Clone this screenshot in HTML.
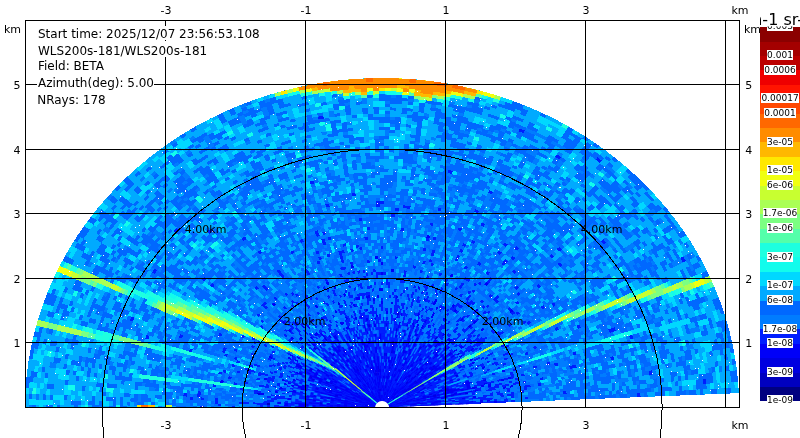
<!DOCTYPE html>
<html lang="en"><head><meta charset="utf-8"><title>RHI BETA</title>
<style>
html,body{margin:0;padding:0;background:#fff;overflow:hidden}
svg{display:block;position:absolute;left:0;top:0}
text{font-family:"DejaVu Sans","Liberation Sans",sans-serif;fill:#000}
.t{font-size:12px}.k{font-size:11px}.c{font-size:9px;text-anchor:middle}.r{font-size:11px}
</style></head><body>
<svg width="800" height="438" viewBox="0 0 800 438">
<defs><clipPath id="pb"><rect x="25" y="20" width="715" height="387"/></clipPath></defs>
<rect width="800" height="438" fill="#fff"/>
<g clip-path="url(#pb)">
<g transform="translate(382.1,407.5) scale(0.7,-0.6459999999999999)" fill="none" stroke-width="5.45" shape-rendering="crispEdges">
<path d="M162.20 7.08A162.35 162.35 0 0 1 -4.25 162.29A162.35 162.35 0 0 1 -162.34 -1.42" stroke="#0000c0"/>
<path d="M132.22 5.77A132.35 132.35 0 0 1 -3.46 132.30A132.35 132.35 0 0 1 -132.34 -1.15" stroke="#0000e0"/>
<path d="M137.22 5.99A137.35 137.35 0 0 1 -3.60 137.30A137.35 137.35 0 0 1 -137.34 -1.20" stroke="#0000e0"/>
<path d="M142.21 6.21A142.35 142.35 0 0 1 -3.73 142.30A142.35 142.35 0 0 1 -142.34 -1.24" stroke="#0000e0"/>
<path d="M147.21 6.43A147.35 147.35 0 0 1 -3.86 147.30A147.35 147.35 0 0 1 -147.34 -1.29" stroke="#0000e0"/>
<path d="M157.20 6.86A157.35 157.35 0 0 1 -4.12 157.30A157.35 157.35 0 0 1 -157.34 -1.37" stroke="#0000e0"/>
<path d="M172.19 7.52A172.35 172.35 0 0 1 -4.51 172.29A172.35 172.35 0 0 1 -172.34 -1.50" stroke="#0000e0"/>
<path d="M177.18 7.74A177.35 177.35 0 0 1 -4.64 177.29A177.35 177.35 0 0 1 -177.34 -1.55" stroke="#0000e0"/>
<path d="M132.22 5.77A132.35 132.35 0 0 1 -3.46 132.30A132.35 132.35 0 0 1 -132.34 -1.15" pathLength="178" stroke="#0000f8" stroke-dasharray="51.05 0.95 72.05 0.95 8.05 0.95 44.05 0"/>
<path d="M137.22 5.99A137.35 137.35 0 0 1 -3.60 137.30A137.35 137.35 0 0 1 -137.34 -1.20" pathLength="178" stroke="#0000f8" stroke-dasharray="34.05 0.95 143.05 0"/>
<path d="M142.21 6.21A142.35 142.35 0 0 1 -3.73 142.30A142.35 142.35 0 0 1 -142.34 -1.24" pathLength="178" stroke="#0000f8" stroke-dasharray="0 1 177.05 0"/>
<path d="M147.21 6.43A147.35 147.35 0 0 1 -3.86 147.30A147.35 147.35 0 0 1 -147.34 -1.29" pathLength="178" stroke="#0000f8" stroke-dasharray="78.05 0.95 99.05 0"/>
<path d="M152.20 6.65A152.35 152.35 0 0 1 -3.99 152.30A152.35 152.35 0 0 1 -152.34 -1.33" stroke="#0000f8"/>
<path d="M157.20 6.86A157.35 157.35 0 0 1 -4.12 157.30A157.35 157.35 0 0 1 -157.34 -1.37" pathLength="178" stroke="#0000f8" stroke-dasharray="134.05 0.95 43.05 0"/>
<path d="M162.20 7.08A162.35 162.35 0 0 1 -4.25 162.29A162.35 162.35 0 0 1 -162.34 -1.42" pathLength="178" stroke="#0000f8" stroke-dasharray="175.05 0.95 2.05 0"/>
<path d="M167.19 7.30A167.35 167.35 0 0 1 -4.38 167.29A167.35 167.35 0 0 1 -167.34 -1.46" stroke="#0000f8"/>
<path d="M172.19 7.52A172.35 172.35 0 0 1 -4.51 172.29A172.35 172.35 0 0 1 -172.34 -1.50" pathLength="178" stroke="#0000f8" stroke-dasharray="108.05 0.95 69.05 0"/>
<path d="M177.18 7.74A177.35 177.35 0 0 1 -4.64 177.29A177.35 177.35 0 0 1 -177.34 -1.55" pathLength="178" stroke="#0000f8" stroke-dasharray="42.05 0.95 127.05 0.95 7.05 0"/>
<path d="M182.18 7.95A182.35 182.35 0 0 1 -4.77 182.29A182.35 182.35 0 0 1 -182.34 -1.59" stroke="#0000f8"/>
<path d="M187.17 8.17A187.35 187.35 0 0 1 -4.90 187.29A187.35 187.35 0 0 1 -187.34 -1.63" stroke="#0000f8"/>
<path d="M192.17 8.39A192.35 192.35 0 0 1 -5.04 192.28A192.35 192.35 0 0 1 -192.34 -1.68" stroke="#0000f8"/>
<path d="M197.16 8.61A197.35 197.35 0 0 1 -5.17 197.28A197.35 197.35 0 0 1 -197.34 -1.72" stroke="#0000f8"/>
<path d="M202.16 8.83A202.35 202.35 0 0 1 -5.30 202.28A202.35 202.35 0 0 1 -202.34 -1.77" stroke="#0000f8"/>
<path d="M207.15 9.04A207.35 207.35 0 0 1 -5.43 207.28A207.35 207.35 0 0 1 -207.34 -1.81" stroke="#0000f8"/>
<path d="M212.15 9.26A212.35 212.35 0 0 1 -5.56 212.28A212.35 212.35 0 0 1 -212.34 -1.85" stroke="#0000f8"/>
<path d="M222.14 9.70A222.35 222.35 0 0 1 -5.82 222.27A222.35 222.35 0 0 1 -222.34 -1.94" stroke="#0000f8"/>
<path d="M227.13 9.92A227.35 227.35 0 0 1 -5.95 227.27A227.35 227.35 0 0 1 -227.34 -1.98" stroke="#0000f8"/>
<path d="M232.13 10.13A232.35 232.35 0 0 1 -6.08 232.27A232.35 232.35 0 0 1 -232.34 -2.03" stroke="#0000f8"/>
<path d="M237.12 10.35A237.35 237.35 0 0 1 -6.21 237.27A237.35 237.35 0 0 1 -237.34 -2.07" stroke="#0000f8"/>
<path d="M242.12 10.57A242.35 242.35 0 0 1 -6.34 242.27A242.35 242.35 0 0 1 -242.34 -2.11" stroke="#0000f8"/>
<path d="M272.09 11.88A272.35 272.35 0 0 1 -7.13 272.26A272.35 272.35 0 0 1 -272.34 -2.38" stroke="#0000f8"/>
<path d="M132.22 5.77A132.35 132.35 0 0 1 -3.46 132.30A132.35 132.35 0 0 1 -132.34 -1.15" pathLength="178" stroke="#001eff" stroke-dasharray="4.05 0.95 5.05 0.95 3.05 0.95 26.05 0.95 4.05 0.95 4.05 0.95 15.05 0.95 3.05 0.95 4.05 0.95 31.05 1.95 11.05 0.95 2.05 0.95 4.05 0.95 3.05 0.95 14.05 1.95 3.05 0.95 4.05 0.95 3.05 0.95 3.05 0.95 4.05 0.95 6.05 0"/>
<path d="M137.22 5.99A137.35 137.35 0 0 1 -3.60 137.30A137.35 137.35 0 0 1 -137.34 -1.20" pathLength="178" stroke="#001eff" stroke-dasharray="8.05 0.95 1.05 0.95 21.05 0.95 1.05 0.95 2.05 0.95 5.05 0.95 18.05 0.95 2.05 0.95 2.05 0.95 10.05 0.95 11.05 0.95 4.05 0.95 27.05 0.95 7.05 0.95 15.05 1.95 11.05 0.95 5.05 0.95 6.05 1.95 2.05 0"/>
<path d="M142.21 6.21A142.35 142.35 0 0 1 -3.73 142.30A142.35 142.35 0 0 1 -142.34 -1.24" pathLength="178" stroke="#001eff" stroke-dasharray="0 2 42.05 1.95 3.05 0.95 9.05 0.95 6.05 0.95 11.05 0.95 11.05 0.95 8.05 0.95 2.05 0.95 7.05 1.95 12.05 0.95 19.05 0.95 1.05 0.95 15.05 0.95 15.05 0"/>
<path d="M147.21 6.43A147.35 147.35 0 0 1 -3.86 147.30A147.35 147.35 0 0 1 -147.34 -1.29" pathLength="178" stroke="#001eff" stroke-dasharray="10.05 0.95 10.05 0.95 3.05 0.95 1.05 0.95 8.05 1.95 24.05 0.95 13.05 0.95 1.05 0.95 5.05 0.95 22.05 0.95 18.05 1.95 2.05 0.95 29.05 0.95 4.05 0.95 8.05 0.95 3.05 0"/>
<path d="M152.20 6.65A152.35 152.35 0 0 1 -3.99 152.30A152.35 152.35 0 0 1 -152.34 -1.33" pathLength="178" stroke="#001eff" stroke-dasharray="1.05 0.95 9.05 0.95 1.05 0.95 53.05 0.95 27.05 0.95 49.05 0.95 1.05 0.95 20.05 0.95 9.05 0"/>
<path d="M157.20 6.86A157.35 157.35 0 0 1 -4.12 157.30A157.35 157.35 0 0 1 -157.34 -1.37" pathLength="178" stroke="#001eff" stroke-dasharray="9.05 1.95 9.05 0.95 11.05 0.95 4.05 0.95 22.05 0.95 73.05 0.95 43.05 0"/>
<path d="M162.20 7.08A162.35 162.35 0 0 1 -4.25 162.29A162.35 162.35 0 0 1 -162.34 -1.42" pathLength="178" stroke="#001eff" stroke-dasharray="0 1 34.05 0.95 18.05 0.95 5.05 0.95 21.05 0.95 4.05 0.95 13.05 0.95 9.05 0.95 7.05 0.95 7.05 0.95 47.05 0.95 2.05 0"/>
<path d="M167.19 7.30A167.35 167.35 0 0 1 -4.38 167.29A167.35 167.35 0 0 1 -167.34 -1.46" pathLength="178" stroke="#001eff" stroke-dasharray="91.05 0.95 37.05 0.95 7.05 0.95 40.05 0"/>
<path d="M172.19 7.52A172.35 172.35 0 0 1 -4.51 172.29A172.35 172.35 0 0 1 -172.34 -1.50" pathLength="178" stroke="#001eff" stroke-dasharray="60.05 0.95 19.05 0.95 8.05 0.95 3.05 1.95 3.05 1.95 8.05 0.95 53.05 0.95 7.05 0.95 7.05 0"/>
<path d="M177.18 7.74A177.35 177.35 0 0 1 -4.64 177.29A177.35 177.35 0 0 1 -177.34 -1.55" pathLength="178" stroke="#001eff" stroke-dasharray="7.05 0.95 3.05 0.95 30.05 0.95 4.05 0.95 14.05 0.95 4.05 0.95 67.05 0.95 15.05 0.95 18.05 0.95 7.05 0"/>
<path d="M182.18 7.95A182.35 182.35 0 0 1 -4.77 182.29A182.35 182.35 0 0 1 -182.34 -1.59" pathLength="178" stroke="#001eff" stroke-dasharray="15.05 0.95 36.05 0.95 9.05 0.95 24.05 1.95 15.05 0.95 13.05 0.95 59.05 0"/>
<path d="M187.17 8.17A187.35 187.35 0 0 1 -4.90 187.29A187.35 187.35 0 0 1 -187.34 -1.63" pathLength="178" stroke="#001eff" stroke-dasharray="7.05 0.95 3.05 0.95 25.05 0.95 4.05 0.95 11.05 0.95 123.05 0"/>
<path d="M192.17 8.39A192.35 192.35 0 0 1 -5.04 192.28A192.35 192.35 0 0 1 -192.34 -1.68" pathLength="178" stroke="#001eff" stroke-dasharray="71.05 0.95 62.05 0.95 43.05 0"/>
<path d="M197.16 8.61A197.35 197.35 0 0 1 -5.17 197.28A197.35 197.35 0 0 1 -197.34 -1.72" pathLength="178" stroke="#001eff" stroke-dasharray="107.05 0.95 70.05 0"/>
<path d="M202.16 8.83A202.35 202.35 0 0 1 -5.30 202.28A202.35 202.35 0 0 1 -202.34 -1.77" pathLength="178" stroke="#001eff" stroke-dasharray="45.05 0.95 132.05 0"/>
<path d="M207.15 9.04A207.35 207.35 0 0 1 -5.43 207.28A207.35 207.35 0 0 1 -207.34 -1.81" pathLength="178" stroke="#001eff" stroke-dasharray="87.05 0.95 21.05 0.95 68.05 0"/>
<path d="M212.15 9.26A212.35 212.35 0 0 1 -5.56 212.28A212.35 212.35 0 0 1 -212.34 -1.85" pathLength="178" stroke="#001eff" stroke-dasharray="83.05 0.95 94.05 0"/>
<path d="M217.14 9.48A217.35 217.35 0 0 1 -5.69 217.28A217.35 217.35 0 0 1 -217.34 -1.90" stroke="#001eff"/>
<path d="M222.14 9.70A222.35 222.35 0 0 1 -5.82 222.27A222.35 222.35 0 0 1 -222.34 -1.94" pathLength="178" stroke="#001eff" stroke-dasharray="87.05 0.95 10.05 0.95 32.05 0.95 46.05 0"/>
<path d="M227.13 9.92A227.35 227.35 0 0 1 -5.95 227.27A227.35 227.35 0 0 1 -227.34 -1.98" pathLength="178" stroke="#001eff" stroke-dasharray="61.05 0.95 116.05 0"/>
<path d="M232.13 10.13A232.35 232.35 0 0 1 -6.08 232.27A232.35 232.35 0 0 1 -232.34 -2.03" pathLength="178" stroke="#001eff" stroke-dasharray="89.05 0.95 77.05 0.95 10.05 0"/>
<path d="M237.12 10.35A237.35 237.35 0 0 1 -6.21 237.27A237.35 237.35 0 0 1 -237.34 -2.07" pathLength="178" stroke="#001eff" stroke-dasharray="36.05 0.95 141.05 0"/>
<path d="M242.12 10.57A242.35 242.35 0 0 1 -6.34 242.27A242.35 242.35 0 0 1 -242.34 -2.11" pathLength="178" stroke="#001eff" stroke-dasharray="49.05 0.95 128.05 0"/>
<path d="M247.11 10.79A247.35 247.35 0 0 1 -6.47 247.27A247.35 247.35 0 0 1 -247.34 -2.16" stroke="#001eff"/>
<path d="M252.11 11.01A252.35 252.35 0 0 1 -6.61 252.26A252.35 252.35 0 0 1 -252.34 -2.20" stroke="#001eff"/>
<path d="M257.11 11.23A257.35 257.35 0 0 1 -6.74 257.26A257.35 257.35 0 0 1 -257.34 -2.25" stroke="#001eff"/>
<path d="M262.10 11.44A262.35 262.35 0 0 1 -6.87 262.26A262.35 262.35 0 0 1 -262.34 -2.29" stroke="#001eff"/>
<path d="M267.10 11.66A267.35 267.35 0 0 1 -7.00 267.26A267.35 267.35 0 0 1 -267.34 -2.33" stroke="#001eff"/>
<path d="M272.09 11.88A272.35 272.35 0 0 1 -7.13 272.26A272.35 272.35 0 0 1 -272.34 -2.38" pathLength="178" stroke="#001eff" stroke-dasharray="73.05 0.95 104.05 0"/>
<path d="M277.09 12.10A277.35 277.35 0 0 1 -7.26 277.25A277.35 277.35 0 0 1 -277.34 -2.42" stroke="#001eff"/>
<path d="M282.08 12.32A282.35 282.35 0 0 1 -7.39 282.25A282.35 282.35 0 0 1 -282.34 -2.46" stroke="#001eff"/>
<path d="M287.08 12.53A287.35 287.35 0 0 1 -7.52 287.25A287.35 287.35 0 0 1 -287.34 -2.51" stroke="#001eff"/>
<path d="M292.07 12.75A292.35 292.35 0 0 1 -7.65 292.25A292.35 292.35 0 0 1 -292.34 -2.55" stroke="#001eff"/>
<path d="M297.07 12.97A297.35 297.35 0 0 1 -7.78 297.25A297.35 297.35 0 0 1 -297.34 -2.59" stroke="#001eff"/>
<path d="M307.06 13.41A307.35 307.35 0 0 1 -8.05 307.24A307.35 307.35 0 0 1 -307.34 -2.68" stroke="#001eff"/>
<path d="M312.05 13.62A312.35 312.35 0 0 1 -8.18 312.24A312.35 312.35 0 0 1 -312.34 -2.73" stroke="#001eff"/>
<path d="M317.05 13.84A317.35 317.35 0 0 1 -8.31 317.24A317.35 317.35 0 0 1 -317.34 -2.77" stroke="#001eff"/>
<path d="M322.04 14.06A322.35 322.35 0 0 1 -8.44 322.24A322.35 322.35 0 0 1 -322.34 -2.81" stroke="#001eff"/>
<path d="M327.04 14.28A327.35 327.35 0 0 1 -8.57 327.24A327.35 327.35 0 0 1 -327.34 -2.86" stroke="#001eff"/>
<path d="M332.03 14.50A332.35 332.35 0 0 1 -8.70 332.24A332.35 332.35 0 0 1 -332.34 -2.90" stroke="#001eff"/>
<path d="M337.03 14.72A337.35 337.35 0 0 1 -8.83 337.23A337.35 337.35 0 0 1 -337.34 -2.94" stroke="#001eff"/>
<path d="M347.02 15.15A347.35 347.35 0 0 1 -9.09 347.23A347.35 347.35 0 0 1 -347.34 -3.03" stroke="#001eff"/>
<path d="M352.01 15.37A352.35 352.35 0 0 1 -9.22 352.23A352.35 352.35 0 0 1 -352.34 -3.07" stroke="#001eff"/>
<path d="M362.01 15.81A362.35 362.35 0 0 1 -9.49 362.23A362.35 362.35 0 0 1 -362.34 -3.16" stroke="#001eff"/>
<path d="M367.00 16.02A367.35 367.35 0 0 1 -9.62 367.22A367.35 367.35 0 0 1 -367.34 -3.21" stroke="#001eff"/>
<path d="M372.00 16.24A372.35 372.35 0 0 1 -9.75 372.22A372.35 372.35 0 0 1 -372.34 -3.25" stroke="#001eff"/>
<path d="M376.99 16.46A377.35 377.35 0 0 1 -9.88 377.22A377.35 377.35 0 0 1 -377.34 -3.29" stroke="#001eff"/>
<path d="M381.99 16.68A382.35 382.35 0 0 1 -10.01 382.22A382.35 382.35 0 0 1 -382.34 -3.34" stroke="#001eff"/>
<path d="M386.98 16.90A387.35 387.35 0 0 1 -10.14 387.22A387.35 387.35 0 0 1 -387.34 -3.38" stroke="#001eff"/>
<path d="M401.97 17.55A402.35 402.35 0 0 1 -10.53 402.21A402.35 402.35 0 0 1 -402.33 -3.51" stroke="#001eff"/>
<path d="M406.96 17.77A407.35 407.35 0 0 1 -10.66 407.21A407.35 407.35 0 0 1 -407.33 -3.55" stroke="#001eff"/>
<path d="M456.91 19.95A457.35 457.35 0 0 1 -11.97 457.19A457.35 457.35 0 0 1 -457.33 -3.99" stroke="#001eff"/>
<path d="M461.91 20.17A462.35 462.35 0 0 1 -12.10 462.19A462.35 462.35 0 0 1 -462.33 -4.03" stroke="#001eff"/>
<path d="M471.90 20.60A472.35 472.35 0 0 1 -12.36 472.19A472.35 472.35 0 0 1 -472.33 -4.12" stroke="#001eff"/>
<path d="M486.89 21.26A487.35 487.35 0 0 1 -12.76 487.18A487.35 487.35 0 0 1 -487.33 -4.25" stroke="#001eff"/>
<path d="M491.88 21.48A492.35 492.35 0 0 1 -12.89 492.18A492.35 492.35 0 0 1 -492.33 -4.30" stroke="#001eff"/>
<path d="M132.22 5.77A132.35 132.35 0 0 1 -3.46 132.30A132.35 132.35 0 0 1 -132.34 -1.15" pathLength="178" stroke="#007cff" stroke-dasharray="0 2 1.05 1.95 1.05 2.95 1.05 0.95 3.05 0.95 3.05 0.95 6.05 1.95 4.05 0.95 1.05 0.95 1.05 0.95 1.05 2.95 1.05 2.95 1.05 2.95 3.05 3.95 1.05 2.95 3.05 0.95 1.05 1.95 1.05 2.95 1.05 3.95 1.05 0.95 1.05 1.95 1.05 0.95 1.05 4.95 1.05 1.95 1.05 0.95 2.05 1.95 1.05 0.95 2.05 1.95 5.05 1.95 1.05 0.95 3.05 4.95 1.05 5.95 2.05 0.95 2.05 3.95 10.05 0.95 1.05 2.95 2.05 1.95 3.05 2.95 1.05 0.95 1.05 0.95 1.05 0.95 2.05 0.95 1.05 0.95 2.05 2.95 1.05 0"/>
<path d="M137.22 5.99A137.35 137.35 0 0 1 -3.60 137.30A137.35 137.35 0 0 1 -137.34 -1.20" pathLength="178" stroke="#007cff" stroke-dasharray="0 1 2.05 0.95 4.05 3.95 6.05 2.95 11.05 0.95 1.05 0.95 2.05 0.95 5.05 0.95 1.05 0.95 2.05 3.95 2.05 0.95 2.05 0.95 3.05 1.95 2.05 0.95 1.05 1.95 1.05 1.95 2.05 0.95 4.05 2.95 2.05 0.95 1.05 0.95 1.05 3.95 1.05 0.95 1.05 3.95 2.05 0.95 2.05 0.95 2.05 1.95 7.05 0.95 2.05 0.95 3.05 1.95 4.05 0.95 1.05 1.95 2.05 0.95 8.05 0.95 2.05 3.95 2.05 0.95 1.05 1.95 3.05 1.95 1.05 0.95 3.05 0.95 3.05 0.95 1.05 3.95 1.05 0"/>
<path d="M142.21 6.21A142.35 142.35 0 0 1 -3.73 142.30A142.35 142.35 0 0 1 -142.34 -1.24" pathLength="178" stroke="#007cff" stroke-dasharray="0 4 4.05 1.95 1.05 2.95 8.05 0.95 1.05 1.95 6.05 3.95 3.05 0.95 1.05 4.95 3.05 3.95 2.05 0.95 2.05 1.95 1.05 1.95 3.05 2.95 1.05 1.95 2.05 0.95 2.05 1.95 2.05 0.95 6.05 0.95 1.05 0.95 1.05 0.95 2.05 5.95 1.05 1.95 2.05 2.95 1.05 1.95 2.05 0.95 3.05 1.95 2.05 0.95 1.05 2.95 1.05 0.95 1.05 0.95 1.05 0.95 1.05 0.95 9.05 0.95 1.05 0.95 1.05 0.95 2.05 0.95 2.05 0.95 2.05 0.95 2.05 0.95 1.05 0.95 2.05 1.95 1.05 0.95 1.05 1.95 4.05 0.95 1.05 0"/>
<path d="M147.21 6.43A147.35 147.35 0 0 1 -3.86 147.30A147.35 147.35 0 0 1 -147.34 -1.29" pathLength="178" stroke="#007cff" stroke-dasharray="0 1 1.05 2.95 5.05 3.95 7.05 0.95 3.05 0.95 1.05 0.95 5.05 0.95 2.05 2.95 3.05 1.95 2.05 1.95 4.05 1.95 3.05 0.95 2.05 4.95 1.05 0.95 6.05 7.95 1.05 0.95 1.05 0.95 5.05 4.95 2.05 2.95 2.05 0.95 1.05 0.95 1.05 1.95 5.05 0.95 3.05 1.95 4.05 1.95 1.05 1.95 1.05 1.95 1.05 0.95 1.05 0.95 2.05 1.95 6.05 4.95 1.05 0.95 8.05 0.95 4.05 1.95 3.05 1.95 2.05 0.95 1.05 0.95 1.05 0"/>
<path d="M152.20 6.65A152.35 152.35 0 0 1 -3.99 152.30A152.35 152.35 0 0 1 -152.34 -1.33" pathLength="178" stroke="#007cff" stroke-dasharray="0 3 1.05 0.95 2.05 0.95 3.05 3.95 7.05 0.95 3.05 0.95 5.05 2.95 1.05 0.95 5.05 0.95 6.05 0.95 1.05 2.95 5.05 0.95 1.05 1.95 2.05 0.95 1.05 2.95 5.05 0.95 1.05 0.95 1.05 1.95 1.05 0.95 1.05 1.95 1.05 0.95 2.05 0.95 1.05 0.95 2.05 1.95 2.05 0.95 2.05 0.95 4.05 0.95 8.05 0.95 2.05 0.95 1.05 0.95 7.05 0.95 6.05 0.95 8.05 0.95 1.05 0.95 2.05 0.95 1.05 1.95 3.05 2.95 3.05 1.95 2.05 1.95 1.05 2.95 3.05 0.95 1.05 0"/>
<path d="M157.20 6.86A157.35 157.35 0 0 1 -4.12 157.30A157.35 157.35 0 0 1 -157.34 -1.37" pathLength="178" stroke="#007cff" stroke-dasharray="0 1 1.05 0.95 1.05 1.95 1.05 4.95 5.05 0.95 2.05 2.95 3.05 0.95 4.05 3.95 2.05 0.95 1.05 0.95 2.05 1.95 1.05 1.95 5.05 0.95 7.05 0.95 6.05 0.95 6.05 0.95 1.05 0.95 1.05 2.95 6.05 1.95 3.05 1.95 4.05 0.95 8.05 2.95 3.05 0.95 3.05 0.95 3.05 0.95 2.05 0.95 5.05 0.95 3.05 1.95 1.05 0.95 7.05 0.95 5.05 0.95 2.05 1.95 9.05 0.95 4.05 0.95 1.05 1.95 4.05 0"/>
<path d="M162.20 7.08A162.35 162.35 0 0 1 -4.25 162.29A162.35 162.35 0 0 1 -162.34 -1.42" pathLength="178" stroke="#007cff" stroke-dasharray="0 2 5.05 1.95 2.05 0.95 6.05 0.95 6.05 0.95 5.05 0.95 1.05 0.95 1.05 3.95 7.05 0.95 4.05 0.95 1.05 1.95 5.05 0.95 3.05 0.95 1.05 0.95 5.05 0.95 3.05 1.95 2.05 0.95 1.05 0.95 4.05 0.95 3.05 0.95 2.05 0.95 2.05 0.95 2.05 1.95 1.05 0.95 5.05 0.95 1.05 0.95 5.05 2.95 7.05 0.95 2.05 0.95 2.05 0.95 18.05 1.95 3.05 0.95 2.05 2.95 5.05 0.95 2.05 0.95 1.05 3.95 1.05 0"/>
<path d="M167.19 7.30A167.35 167.35 0 0 1 -4.38 167.29A167.35 167.35 0 0 1 -167.34 -1.46" pathLength="178" stroke="#007cff" stroke-dasharray="0 1 3.05 1.95 2.05 1.95 5.05 0.95 6.05 0.95 1.05 0.95 5.05 0.95 1.05 1.95 1.05 0.95 2.05 1.95 2.05 1.95 3.05 0.95 14.05 1.95 1.05 0.95 2.05 0.95 3.05 0.95 6.05 1.95 6.05 0.95 3.05 0.95 1.05 1.95 7.05 0.95 2.05 0.95 1.05 1.95 14.05 1.95 2.05 0.95 1.05 0.95 2.05 0.95 4.05 2.95 14.05 0.95 3.05 0.95 2.05 2.95 1.05 1.95 7.05 1.95 2.05 0"/>
<path d="M172.19 7.52A172.35 172.35 0 0 1 -4.51 172.29A172.35 172.35 0 0 1 -172.34 -1.50" pathLength="178" stroke="#007cff" stroke-dasharray="0 1 2.05 1.95 4.05 0.95 1.05 0.95 8.05 0.95 4.05 0.95 6.05 3.95 1.05 0.95 1.05 0.95 2.05 0.95 5.05 0.95 5.05 0.95 3.05 0.95 1.05 0.95 8.05 1.95 1.05 0.95 1.05 0.95 5.05 1.95 1.05 0.95 5.05 0.95 3.05 1.95 1.05 0.95 1.05 2.95 4.05 0.95 2.05 0.95 7.05 0.95 2.05 0.95 8.05 1.95 2.05 0.95 2.05 0.95 15.05 0.95 3.05 0.95 4.05 0.95 1.05 0.95 3.05 0.95 3.05 0.95 4.05 1.95 1.05 0"/>
<path d="M177.18 7.74A177.35 177.35 0 0 1 -4.64 177.29A177.35 177.35 0 0 1 -177.34 -1.55" pathLength="178" stroke="#007cff" stroke-dasharray="0 2 5.05 1.95 2.05 0.95 5.05 0.95 1.05 1.95 1.05 0.95 2.05 0.95 6.05 2.95 1.05 0.95 2.05 0.95 1.05 1.95 3.05 2.95 6.05 0.95 1.05 2.95 2.05 1.95 1.05 2.95 2.05 0.95 2.05 0.95 1.05 0.95 2.05 0.95 3.05 0.95 10.05 5.95 2.05 1.95 7.05 0.95 2.05 0.95 9.05 0.95 6.05 1.95 1.05 2.95 2.05 0.95 9.05 0.95 1.05 2.95 7.05 0.95 5.05 0.95 2.05 1.95 4.05 0.95 2.05 0"/>
<path d="M182.18 7.95A182.35 182.35 0 0 1 -4.77 182.29A182.35 182.35 0 0 1 -182.34 -1.59" pathLength="178" stroke="#007cff" stroke-dasharray="3.05 0.95 1.05 1.95 1.05 0.95 2.05 0.95 3.05 0.95 17.05 0.95 8.05 0.95 4.05 0.95 3.05 3.95 7.05 0.95 3.05 0.95 6.05 0.95 3.05 0.95 3.05 0.95 5.05 1.95 2.05 0.95 10.05 0.95 1.05 0.95 1.05 0.95 7.05 0.95 3.05 0.95 8.05 0.95 3.05 0.95 1.05 0.95 2.05 0.95 9.05 0.95 13.05 1.95 1.05 0.95 5.05 1.95 4.05 0.95 2.05 0"/>
<path d="M187.17 8.17A187.35 187.35 0 0 1 -4.90 187.29A187.35 187.35 0 0 1 -187.34 -1.63" pathLength="178" stroke="#007cff" stroke-dasharray="0 1 1.05 2.95 2.05 0.95 1.05 0.95 1.05 0.95 6.05 0.95 18.05 0.95 4.05 1.95 2.05 0.95 6.05 1.95 12.05 0.95 1.05 0.95 2.05 0.95 3.05 0.95 7.05 0.95 7.05 1.95 2.05 0.95 2.05 0.95 3.05 0.95 4.05 0.95 2.05 0.95 9.05 0.95 10.05 0.95 24.05 0.95 20.05 0"/>
<path d="M192.17 8.39A192.35 192.35 0 0 1 -5.04 192.28A192.35 192.35 0 0 1 -192.34 -1.68" pathLength="178" stroke="#007cff" stroke-dasharray="8.05 0.95 2.05 2.95 6.05 0.95 1.05 0.95 19.05 0.95 8.05 2.95 9.05 0.95 4.05 0.95 2.05 0.95 1.05 0.95 10.05 1.95 1.05 0.95 2.05 0.95 5.05 1.95 3.05 0.95 6.05 0.95 7.05 0.95 4.05 0.95 11.05 1.95 12.05 0.95 9.05 0.95 2.05 0.95 14.05 0.95 2.05 0"/>
<path d="M197.16 8.61A197.35 197.35 0 0 1 -5.17 197.28A197.35 197.35 0 0 1 -197.34 -1.72" pathLength="178" stroke="#007cff" stroke-dasharray="8.05 0.95 1.05 0.95 3.05 0.95 7.05 0.95 3.05 0.95 6.05 1.95 3.05 0.95 4.05 0.95 1.05 0.95 16.05 0.95 1.05 0.95 3.05 1.95 8.05 1.95 5.05 0.95 21.05 0.95 2.05 0.95 7.05 0.95 2.05 0.95 12.05 0.95 23.05 0.95 1.05 1.95 4.05 0.95 8.05 0.95 2.05 0"/>
<path d="M202.16 8.83A202.35 202.35 0 0 1 -5.30 202.28A202.35 202.35 0 0 1 -202.34 -1.77" pathLength="178" stroke="#007cff" stroke-dasharray="4.05 0.95 16.05 0.95 3.05 0.95 5.05 1.95 4.05 0.95 7.05 0.95 3.05 1.95 11.05 0.95 3.05 0.95 9.05 0.95 12.05 0.95 4.05 0.95 2.05 0.95 1.05 0.95 1.05 1.95 8.05 0.95 7.05 0.95 4.05 0.95 1.05 0.95 6.05 0.95 13.05 0.95 5.05 0.95 6.05 0.95 8.05 0.95 5.05 0.95 2.05 0"/>
<path d="M207.15 9.04A207.35 207.35 0 0 1 -5.43 207.28A207.35 207.35 0 0 1 -207.34 -1.81" pathLength="178" stroke="#007cff" stroke-dasharray="1.05 0.95 3.05 1.95 1.05 0.95 2.05 0.95 3.05 0.95 15.05 0.95 7.05 0.95 2.05 0.95 5.05 1.95 1.05 0.95 2.05 0.95 17.05 0.95 5.05 0.95 7.05 3.95 1.05 0.95 1.05 0.95 15.05 0.95 3.05 0.95 11.05 0.95 3.05 0.95 18.05 0.95 1.05 0.95 27.05 0"/>
<path d="M212.15 9.26A212.35 212.35 0 0 1 -5.56 212.28A212.35 212.35 0 0 1 -212.34 -1.85" pathLength="178" stroke="#007cff" stroke-dasharray="6.05 0.95 28.05 0.95 5.05 0.95 2.05 0.95 6.05 0.95 5.05 0.95 3.05 0.95 7.05 0.95 8.05 0.95 4.05 0.95 6.05 0.95 3.05 0.95 1.05 0.95 1.05 0.95 1.05 0.95 2.05 0.95 5.05 0.95 12.05 0.95 18.05 0.95 5.05 0.95 14.05 0.95 4.05 0.95 9.05 0.95"/>
<path d="M217.14 9.48A217.35 217.35 0 0 1 -5.69 217.28A217.35 217.35 0 0 1 -217.34 -1.90" pathLength="178" stroke="#007cff" stroke-dasharray="43.05 0.95 2.05 0.95 5.05 0.95 3.05 0.95 5.05 0.95 9.05 0.95 50.05 0.95 15.05 0.95 18.05 0.95 19.05 0"/>
<path d="M222.14 9.70A222.35 222.35 0 0 1 -5.82 222.27A222.35 222.35 0 0 1 -222.34 -1.94" pathLength="178" stroke="#007cff" stroke-dasharray="19.05 0.95 12.05 0.95 18.05 0.95 4.05 0.95 8.05 0.95 9.05 0.95 11.05 0.95 10.05 0.95 2.05 1.95 22.05 0.95 5.05 0.95 25.05 0.95 2.05 0.95 4.05 0.95 12.05 0"/>
<path d="M227.13 9.92A227.35 227.35 0 0 1 -5.95 227.27A227.35 227.35 0 0 1 -227.34 -1.98" pathLength="178" stroke="#007cff" stroke-dasharray="6.05 0.95 3.05 0.95 2.05 0.95 47.05 0.95 26.05 0.95 3.05 0.95 5.05 0.95 30.05 0.95 4.05 0.95 3.05 0.95 9.05 0.95 5.05 0.95 23.05 0"/>
<path d="M232.13 10.13A232.35 232.35 0 0 1 -6.08 232.27A232.35 232.35 0 0 1 -232.34 -2.03" pathLength="178" stroke="#007cff" stroke-dasharray="8.05 0.95 33.05 1.95 1.05 0.95 6.05 0.95 2.05 1.95 12.05 0.95 2.05 0.95 9.05 0.95 6.05 0.95 11.05 0.95 12.05 0.95 18.05 1.95 28.05 0.95 3.05 0.95 8.05 0.95 1.05 0"/>
<path d="M237.12 10.35A237.35 237.35 0 0 1 -6.21 237.27A237.35 237.35 0 0 1 -237.34 -2.07" pathLength="178" stroke="#007cff" stroke-dasharray="20.05 0.95 14.05 2.95 5.05 0.95 7.05 0.95 18.05 0.95 30.05 0.95 12.05 0.95 42.05 0.95 6.05 0.95 9.05 1.95 2.05 0"/>
<path d="M242.12 10.57A242.35 242.35 0 0 1 -6.34 242.27A242.35 242.35 0 0 1 -242.34 -2.11" pathLength="178" stroke="#007cff" stroke-dasharray="30.05 0.95 3.05 0.95 14.05 0.95 51.05 0.95 7.05 0.95 45.05 1.95 12.05 0.95 8.05 0"/>
<path d="M247.11 10.79A247.35 247.35 0 0 1 -6.47 247.27A247.35 247.35 0 0 1 -247.34 -2.16" pathLength="178" stroke="#007cff" stroke-dasharray="13.05 0.95 15.05 0.95 19.05 0.95 8.05 0.95 11.05 0.95 16.05 0.95 6.05 0.95 2.05 0.95 2.05 1.95 3.05 0.95 2.05 0.95 13.05 0.95 6.05 0.95 48.05 0"/>
<path d="M252.11 11.01A252.35 252.35 0 0 1 -6.61 252.26A252.35 252.35 0 0 1 -252.34 -2.20" pathLength="178" stroke="#007cff" stroke-dasharray="37.05 0.95 11.05 0.95 12.05 0.95 7.05 0.95 2.05 0.95 21.05 0.95 26.05 0.95 6.05 0.95 48.05 0"/>
<path d="M257.11 11.23A257.35 257.35 0 0 1 -6.74 257.26A257.35 257.35 0 0 1 -257.34 -2.25" pathLength="178" stroke="#007cff" stroke-dasharray="12.05 0.95 38.05 0.95 10.05 0.95 36.05 0.95 8.05 0.95 13.05 0.95 8.05 0.95 19.05 0.95 22.05 0.95 2.05 0.95"/>
<path d="M262.10 11.44A262.35 262.35 0 0 1 -6.87 262.26A262.35 262.35 0 0 1 -262.34 -2.29" pathLength="178" stroke="#007cff" stroke-dasharray="2.05 0.95 36.05 0.95 15.05 0.95 36.05 0.95 79.05 1.95 4.05 0"/>
<path d="M267.10 11.66A267.35 267.35 0 0 1 -7.00 267.26A267.35 267.35 0 0 1 -267.34 -2.33" pathLength="178" stroke="#007cff" stroke-dasharray="41.05 0.95 20.05 0.95 10.05 0.95 31.05 0.95 72.05 0"/>
<path d="M272.09 11.88A272.35 272.35 0 0 1 -7.13 272.26A272.35 272.35 0 0 1 -272.34 -2.38" pathLength="178" stroke="#007cff" stroke-dasharray="71.05 0.95 1.05 0.95 29.05 0.95 1.05 0.95 9.05 0.95 58.05 0.95 3.05 0"/>
<path d="M277.09 12.10A277.35 277.35 0 0 1 -7.26 277.25A277.35 277.35 0 0 1 -277.34 -2.42" pathLength="178" stroke="#007cff" stroke-dasharray="10.05 0.95 12.05 0.95 7.05 0.95 30.05 0.95 18.05 0.95 9.05 0.95 86.05 0"/>
<path d="M282.08 12.32A282.35 282.35 0 0 1 -7.39 282.25A282.35 282.35 0 0 1 -282.34 -2.46" pathLength="178" stroke="#007cff" stroke-dasharray="10.05 0.95 34.05 0.95 3.05 0.95 54.05 0.95 1.05 0.95 4.05 0.95 61.05 0.95 4.05 0"/>
<path d="M287.08 12.53A287.35 287.35 0 0 1 -7.52 287.25A287.35 287.35 0 0 1 -287.34 -2.51" pathLength="178" stroke="#007cff" stroke-dasharray="14.05 0.95 34.05 0.95 10.05 0.95 45.05 0.95 52.05 0.95 18.05 0"/>
<path d="M292.07 12.75A292.35 292.35 0 0 1 -7.65 292.25A292.35 292.35 0 0 1 -292.34 -2.55" pathLength="178" stroke="#007cff" stroke-dasharray="30.05 0.95 6.05 0.95 14.05 0.95 20.05 0.95 19.05 0.95 84.05 0"/>
<path d="M297.07 12.97A297.35 297.35 0 0 1 -7.78 297.25A297.35 297.35 0 0 1 -297.34 -2.59" pathLength="178" stroke="#007cff" stroke-dasharray="48.05 0.95 16.05 0.95 18.05 0.95 38.05 0.95 54.05 0"/>
<path d="M302.06 13.19A302.35 302.35 0 0 1 -7.91 302.25A302.35 302.35 0 0 1 -302.34 -2.64" stroke="#007cff"/>
<path d="M307.06 13.41A307.35 307.35 0 0 1 -8.05 307.24A307.35 307.35 0 0 1 -307.34 -2.68" pathLength="178" stroke="#007cff" stroke-dasharray="21.05 0.95 30.05 0.95 30.05 0.95 55.05 0.95 16.05 0.95 21.05 0"/>
<path d="M312.05 13.62A312.35 312.35 0 0 1 -8.18 312.24A312.35 312.35 0 0 1 -312.34 -2.73" pathLength="178" stroke="#007cff" stroke-dasharray="49.05 0.95 30.05 1.95 6.05 0.95 89.05 0"/>
<path d="M317.05 13.84A317.35 317.35 0 0 1 -8.31 317.24A317.35 317.35 0 0 1 -317.34 -2.77" pathLength="178" stroke="#007cff" stroke-dasharray="60.05 0.95 11.05 0.95 14.05 1.95 89.05 0"/>
<path d="M322.04 14.06A322.35 322.35 0 0 1 -8.44 322.24A322.35 322.35 0 0 1 -322.34 -2.81" pathLength="178" stroke="#007cff" stroke-dasharray="101.05 0.95 37.05 0.95 38.05 0"/>
<path d="M327.04 14.28A327.35 327.35 0 0 1 -8.57 327.24A327.35 327.35 0 0 1 -327.34 -2.86" pathLength="178" stroke="#007cff" stroke-dasharray="124.05 0.95 53.05 0"/>
<path d="M332.03 14.50A332.35 332.35 0 0 1 -8.70 332.24A332.35 332.35 0 0 1 -332.34 -2.90" pathLength="178" stroke="#007cff" stroke-dasharray="63.05 0.95 30.05 0.95 83.05 0"/>
<path d="M337.03 14.72A337.35 337.35 0 0 1 -8.83 337.23A337.35 337.35 0 0 1 -337.34 -2.94" pathLength="178" stroke="#007cff" stroke-dasharray="10.05 0.95 27.05 0.95 2.05 0.95 136.05 0"/>
<path d="M342.02 14.93A342.35 342.35 0 0 1 -8.96 342.23A342.35 342.35 0 0 1 -342.34 -2.99" stroke="#007cff"/>
<path d="M347.02 15.15A347.35 347.35 0 0 1 -9.09 347.23A347.35 347.35 0 0 1 -347.34 -3.03" pathLength="178" stroke="#007cff" stroke-dasharray="17.05 0.95 160.05 0"/>
<path d="M352.01 15.37A352.35 352.35 0 0 1 -9.22 352.23A352.35 352.35 0 0 1 -352.34 -3.07" pathLength="178" stroke="#007cff" stroke-dasharray="17.05 0.95 23.05 0.95 117.05 0.95 18.05 0"/>
<path d="M357.01 15.59A357.35 357.35 0 0 1 -9.35 357.23A357.35 357.35 0 0 1 -357.34 -3.12" stroke="#007cff"/>
<path d="M362.01 15.81A362.35 362.35 0 0 1 -9.49 362.23A362.35 362.35 0 0 1 -362.34 -3.16" pathLength="178" stroke="#007cff" stroke-dasharray="103.05 0.95 74.05 0"/>
<path d="M367.00 16.02A367.35 367.35 0 0 1 -9.62 367.22A367.35 367.35 0 0 1 -367.34 -3.21" pathLength="178" stroke="#007cff" stroke-dasharray="0 1 61.05 0.95 66.05 0.95 48.05 0"/>
<path d="M372.00 16.24A372.35 372.35 0 0 1 -9.75 372.22A372.35 372.35 0 0 1 -372.34 -3.25" pathLength="178" stroke="#007cff" stroke-dasharray="14.05 0.95 163.05 0"/>
<path d="M376.99 16.46A377.35 377.35 0 0 1 -9.88 377.22A377.35 377.35 0 0 1 -377.34 -3.29" pathLength="178" stroke="#007cff" stroke-dasharray="72.05 0.95 105.05 0"/>
<path d="M381.99 16.68A382.35 382.35 0 0 1 -10.01 382.22A382.35 382.35 0 0 1 -382.34 -3.34" pathLength="178" stroke="#007cff" stroke-dasharray="156.05 0.95 21.05 0"/>
<path d="M386.98 16.90A387.35 387.35 0 0 1 -10.14 387.22A387.35 387.35 0 0 1 -387.34 -3.38" pathLength="178" stroke="#007cff" stroke-dasharray="5.05 0.95 138.05 0.95 33.05 0"/>
<path d="M391.98 17.11A392.35 392.35 0 0 1 -10.27 392.22A392.35 392.35 0 0 1 -392.34 -3.42" stroke="#007cff"/>
<path d="M396.97 17.33A397.35 397.35 0 0 1 -10.40 397.21A397.35 397.35 0 0 1 -397.33 -3.47" stroke="#007cff"/>
<path d="M401.97 17.55A402.35 402.35 0 0 1 -10.53 402.21A402.35 402.35 0 0 1 -402.33 -3.51" pathLength="178" stroke="#007cff" stroke-dasharray="134.05 0.95 43.05 0"/>
<path d="M406.96 17.77A407.35 407.35 0 0 1 -10.66 407.21A407.35 407.35 0 0 1 -407.33 -3.55" pathLength="178" stroke="#007cff" stroke-dasharray="36.05 0.95 141.05 0"/>
<path d="M411.96 17.99A412.35 412.35 0 0 1 -10.79 412.21A412.35 412.35 0 0 1 -412.33 -3.60" stroke="#007cff"/>
<path d="M416.95 18.20A417.35 417.35 0 0 1 -10.92 417.21A417.35 417.35 0 0 1 -417.33 -3.64" stroke="#007cff"/>
<path d="M421.95 18.42A422.35 422.35 0 0 1 -11.06 422.21A422.35 422.35 0 0 1 -422.33 -3.69" stroke="#007cff"/>
<path d="M426.94 18.64A427.35 427.35 0 0 1 -11.19 427.20A427.35 427.35 0 0 1 -427.33 -3.73" stroke="#007cff"/>
<path d="M431.94 18.86A432.35 432.35 0 0 1 -11.32 432.20A432.35 432.35 0 0 1 -432.33 -3.77" stroke="#007cff"/>
<path d="M436.93 19.08A437.35 437.35 0 0 1 -11.45 437.20A437.35 437.35 0 0 1 -437.33 -3.82" stroke="#007cff"/>
<path d="M441.93 19.30A442.35 442.35 0 0 1 -11.58 442.20A442.35 442.35 0 0 1 -442.33 -3.86" stroke="#007cff"/>
<path d="M446.92 19.51A447.35 447.35 0 0 1 -11.71 447.20A447.35 447.35 0 0 1 -447.33 -3.90" stroke="#007cff"/>
<path d="M451.92 19.73A452.35 452.35 0 0 1 -11.84 452.19A452.35 452.35 0 0 1 -452.33 -3.95" stroke="#007cff"/>
<path d="M456.91 19.95A457.35 457.35 0 0 1 -11.97 457.19A457.35 457.35 0 0 1 -457.33 -3.99" pathLength="178" stroke="#007cff" stroke-dasharray="98.05 0.95 79.05 0"/>
<path d="M461.91 20.17A462.35 462.35 0 0 1 -12.10 462.19A462.35 462.35 0 0 1 -462.33 -4.03" pathLength="178" stroke="#007cff" stroke-dasharray="2.05 0.95 51.05 0.95 123.05 0"/>
<path d="M466.91 20.39A467.35 467.35 0 0 1 -12.23 467.19A467.35 467.35 0 0 1 -467.33 -4.08" stroke="#007cff"/>
<path d="M471.90 20.60A472.35 472.35 0 0 1 -12.36 472.19A472.35 472.35 0 0 1 -472.33 -4.12" pathLength="178" stroke="#007cff" stroke-dasharray="62.05 0.95 115.05 0"/>
<path d="M476.90 20.82A477.35 477.35 0 0 1 -12.50 477.19A477.35 477.35 0 0 1 -477.33 -4.17" stroke="#007cff"/>
<path d="M481.89 21.04A482.35 482.35 0 0 1 -12.63 482.18A482.35 482.35 0 0 1 -482.33 -4.21" stroke="#007cff"/>
<path d="M486.89 21.26A487.35 487.35 0 0 1 -12.76 487.18A487.35 487.35 0 0 1 -487.33 -4.25" pathLength="178" stroke="#007cff" stroke-dasharray="25.05 0.95 152.05 0"/>
<path d="M491.88 21.48A492.35 492.35 0 0 1 -12.89 492.18A492.35 492.35 0 0 1 -492.33 -4.30" pathLength="178" stroke="#007cff" stroke-dasharray="48.05 0.95 129.05 0"/>
<path d="M496.88 21.69A497.35 497.35 0 0 1 -13.02 497.18A497.35 497.35 0 0 1 -497.33 -4.34" stroke="#007cff"/>
<path d="M501.87 21.91A502.35 502.35 0 0 1 -13.15 502.18A502.35 502.35 0 0 1 -502.33 -4.38" stroke="#007cff"/>
<path d="M506.87 22.13A507.35 507.35 0 0 1 -13.28 507.18A507.35 507.35 0 0 1 -507.33 -4.43" stroke="#007cff"/>
<path d="M132.22 5.77A132.35 132.35 0 0 1 -3.46 132.30A132.35 132.35 0 0 1 -132.34 -1.15" pathLength="178" stroke="#0068ff" stroke-dasharray="0 9 1.05 2.95 1.05 0.95 1.05 0.95 1.05 5.95 1.05 3.95 2.05 2.95 1.05 0.95 1.05 12.95 1.05 9.95 1.05 17.95 1.05 9.95 1.05 1.95 1.05 14.95 1.05 2.95 1.05 11.95 1.05 7.95 1.05 1.95 5.05 2.95 1.05 16.95 1.05 11.95"/>
<path d="M137.22 5.99A137.35 137.35 0 0 1 -3.60 137.30A137.35 137.35 0 0 1 -137.34 -1.20" pathLength="178" stroke="#0068ff" stroke-dasharray="0 17 1.05 2.95 2.05 4.95 3.05 8.95 2.05 3.95 1.05 5.95 1.05 22.95 1.05 20.95 1.05 4.95 1.05 6.95 2.05 1.95 1.05 8.95 1.05 7.95 1.05 1.95 4.05 14.95 1.05 8.95 1.05 8.95"/>
<path d="M142.21 6.21A142.35 142.35 0 0 1 -3.73 142.30A142.35 142.35 0 0 1 -142.34 -1.24" pathLength="178" stroke="#0068ff" stroke-dasharray="0 7 1.05 5.95 2.05 0.95 1.05 0.95 1.05 0.95 1.05 5.95 3.05 8.95 1.05 6.95 1.05 3.95 2.05 16.95 2.05 9.95 2.05 18.95 1.05 20.95 1.05 2.95 1.05 3.95 2.05 0.95 4.05 5.95 1.05 2.95 1.05 0.95 1.05 7.95 1.05 11.95 1.05 0"/>
<path d="M147.21 6.43A147.35 147.35 0 0 1 -3.86 147.30A147.35 147.35 0 0 1 -147.34 -1.29" pathLength="178" stroke="#0068ff" stroke-dasharray="0 1 1.05 3.95 1.05 8.95 2.05 7.95 1.05 0.95 3.05 9.95 1.05 2.95 1.05 11.95 2.05 6.95 1.05 1.95 1.05 0.95 1.05 11.95 2.05 7.95 1.05 6.95 1.05 4.95 2.05 10.95 1.05 4.95 1.05 5.95 1.05 2.95 6.05 6.95 1.05 0.95 1.05 0.95 1.05 1.95 1.05 2.95 1.05 2.95 1.05 4.95 1.05 3.95"/>
<path d="M152.20 6.65A152.35 152.35 0 0 1 -3.99 152.30A152.35 152.35 0 0 1 -152.34 -1.33" pathLength="178" stroke="#0068ff" stroke-dasharray="0 8 2.05 5.95 2.05 6.95 1.05 0.95 3.05 4.95 1.05 2.95 1.05 14.95 1.05 0.95 1.05 4.95 2.05 4.95 1.05 1.95 1.05 11.95 1.05 10.95 1.05 0.95 2.05 2.95 2.05 4.95 2.05 0.95 1.05 8.95 1.05 0.95 2.05 0.95 1.05 0.95 1.05 3.95 1.05 1.95 5.05 2.95 1.05 1.95 1.05 3.95 1.05 19.95 1.05 0"/>
<path d="M157.20 6.86A157.35 157.35 0 0 1 -4.12 157.30A157.35 157.35 0 0 1 -157.34 -1.37" pathLength="178" stroke="#0068ff" stroke-dasharray="0 3 1.05 9.95 1.05 0.95 1.05 0.95 2.05 7.95 2.05 4.95 2.05 10.95 1.05 5.95 1.05 0.95 1.05 4.95 1.05 0.95 2.05 0.95 1.05 0.95 1.05 27.95 1.05 2.95 2.05 9.95 2.05 0.95 1.05 0.95 1.05 1.95 1.05 0.95 1.05 1.95 1.05 2.95 1.05 6.95 5.05 2.95 1.05 9.95 1.05 0.95 2.05 0.95 1.05 3.95 1.05 6.95 1.05 0"/>
<path d="M162.20 7.08A162.35 162.35 0 0 1 -4.25 162.29A162.35 162.35 0 0 1 -162.34 -1.42" pathLength="178" stroke="#0068ff" stroke-dasharray="0 13 1.05 0.95 3.05 0.95 1.05 0.95 2.05 4.95 3.05 0.95 1.05 5.95 1.05 0.95 1.05 7.95 1.05 3.95 3.05 10.95 2.05 1.95 2.05 3.95 1.05 14.95 2.05 0.95 2.05 1.95 1.05 1.95 3.05 1.95 1.05 3.95 2.05 2.95 1.05 3.95 2.05 8.95 1.05 1.95 7.05 0.95 2.05 4.95 1.05 2.95 1.05 5.95 1.05 0.95 1.05 3.95 1.05 4.95"/>
<path d="M167.19 7.30A167.35 167.35 0 0 1 -4.38 167.29A167.35 167.35 0 0 1 -167.34 -1.46" pathLength="178" stroke="#0068ff" stroke-dasharray="0 1 1.05 3.95 1.05 3.95 2.05 0.95 1.05 0.95 1.05 2.95 2.05 5.95 2.05 0.95 1.05 1.95 1.05 1.95 1.05 12.95 1.05 2.95 1.05 0.95 1.05 0.95 1.05 0.95 1.05 1.95 1.05 1.95 1.05 5.95 2.05 7.95 1.05 2.95 2.05 1.95 1.05 4.95 1.05 6.95 1.05 4.95 1.05 0.95 1.05 1.95 1.05 0.95 1.05 0.95 1.05 2.95 1.05 9.95 1.05 2.95 5.05 3.95 1.05 0.95 3.05 0.95 3.05 1.95 1.05 2.95 1.05 1.95 1.05 0.95 1.05 0.95 2.05 2.95 1.05 0.95"/>
<path d="M172.19 7.52A172.35 172.35 0 0 1 -4.51 172.29A172.35 172.35 0 0 1 -172.34 -1.50" pathLength="178" stroke="#0068ff" stroke-dasharray="0 2 1.05 8.95 2.05 0.95 3.05 7.95 1.05 0.95 2.05 0.95 1.05 5.95 1.05 1.95 1.05 1.95 2.05 3.95 1.05 5.95 1.05 4.95 1.05 6.95 1.05 2.95 1.05 1.95 1.05 4.95 1.05 0.95 1.05 4.95 1.05 1.95 1.05 0.95 1.05 2.95 2.05 8.95 2.05 0.95 1.05 0.95 1.05 1.95 1.05 0.95 1.05 0.95 1.05 0.95 1.05 6.95 1.05 1.95 1.05 0.95 12.05 2.95 1.05 7.95 1.05 3.95 2.05 1.95 1.05 3.95 1.05 0"/>
<path d="M177.18 7.74A177.35 177.35 0 0 1 -4.64 177.29A177.35 177.35 0 0 1 -177.34 -1.55" pathLength="178" stroke="#0068ff" stroke-dasharray="0 2 1.05 2.95 1.05 1.95 1.05 1.95 1.05 1.95 2.05 3.95 1.05 1.95 1.05 0.95 3.05 1.95 1.05 2.95 1.05 3.95 1.05 1.95 2.05 4.95 2.05 0.95 2.05 0.95 1.05 2.95 1.05 2.95 1.05 3.95 1.05 0.95 1.05 1.95 1.05 0.95 1.05 1.95 1.05 3.95 1.05 3.95 2.05 0.95 1.05 5.95 1.05 2.95 1.05 2.95 3.05 0.95 1.05 2.95 2.05 2.95 1.05 2.95 2.05 0.95 1.05 0.95 1.05 6.95 1.05 1.95 6.05 2.95 1.05 2.95 1.05 1.95 1.05 3.95 2.05 0.95 2.05 0.95 2.05 6.95 1.05 0.95"/>
<path d="M182.18 7.95A182.35 182.35 0 0 1 -4.77 182.29A182.35 182.35 0 0 1 -182.34 -1.59" pathLength="178" stroke="#0068ff" stroke-dasharray="3.05 6.95 1.05 0.95 1.05 2.95 4.05 0.95 1.05 0.95 2.05 1.95 3.05 3.95 3.05 0.95 4.05 0.95 1.05 0.95 1.05 8.95 5.05 2.95 3.05 0.95 1.05 0.95 1.05 1.95 1.05 5.95 2.05 2.95 2.05 12.95 1.05 0.95 1.05 0.95 1.05 0.95 1.05 1.95 2.05 0.95 1.05 2.95 3.05 0.95 4.05 2.95 1.05 4.95 1.05 3.95 3.05 0.95 5.05 0.95 1.05 1.95 1.05 0.95 1.05 3.95 1.05 5.95 3.05 0.95 1.05 8.95"/>
<path d="M187.17 8.17A187.35 187.35 0 0 1 -4.90 187.29A187.35 187.35 0 0 1 -187.34 -1.63" pathLength="178" stroke="#0068ff" stroke-dasharray="0 1 1.05 9.95 2.05 0.95 2.05 1.95 1.05 0.95 1.05 0.95 2.05 0.95 3.05 0.95 1.05 0.95 1.05 0.95 2.05 10.95 6.05 2.95 1.05 0.95 2.05 3.95 2.05 1.95 1.05 1.95 1.05 0.95 2.05 1.95 4.05 3.95 1.05 0.95 2.05 0.95 1.05 3.95 1.05 0.95 2.05 0.95 2.05 2.95 1.05 0.95 1.05 1.95 1.05 2.95 2.05 0.95 1.05 4.95 1.05 0.95 1.05 2.95 1.05 3.95 5.05 0.95 6.05 2.95 1.05 0.95 4.05 2.95 4.05 1.95 2.05 0.95 3.05 0.95 4.05 1.95 1.05 0"/>
<path d="M192.17 8.39A192.35 192.35 0 0 1 -5.04 192.28A192.35 192.35 0 0 1 -192.34 -1.68" pathLength="178" stroke="#0068ff" stroke-dasharray="0 2 2.05 10.95 4.05 1.95 1.05 0.95 2.05 1.95 6.05 2.95 1.05 2.95 1.05 2.95 1.05 1.95 1.05 1.95 1.05 3.95 1.05 2.95 2.05 12.95 1.05 0.95 4.05 2.95 1.05 1.95 1.05 0.95 1.05 1.95 4.05 10.95 2.05 0.95 1.05 1.95 1.05 1.95 1.05 1.95 3.05 0.95 1.05 1.95 2.05 1.95 1.05 7.95 1.05 0.95 7.05 3.95 4.05 0.95 1.05 0.95 2.05 0.95 1.05 0.95 2.05 0.95 1.05 0.95 2.05 7.95"/>
<path d="M197.16 8.61A197.35 197.35 0 0 1 -5.17 197.28A197.35 197.35 0 0 1 -197.34 -1.72" pathLength="178" stroke="#0068ff" stroke-dasharray="0 4 1.05 0.95 1.05 1.95 1.05 4.95 2.05 2.95 2.05 0.95 3.05 0.95 4.05 8.95 1.05 0.95 1.05 2.95 1.05 1.95 3.05 0.95 1.05 1.95 1.05 0.95 4.05 2.95 1.05 5.95 1.05 1.95 1.05 5.95 2.05 1.95 2.05 1.95 1.05 0.95 2.05 0.95 1.05 1.95 1.05 0.95 1.05 2.95 3.05 0.95 1.05 4.95 2.05 0.95 1.05 1.95 1.05 1.95 1.05 0.95 1.05 0.95 2.05 2.95 1.05 2.95 2.05 1.95 7.05 5.95 1.05 0.95 1.05 0.95 1.05 0.95 1.05 1.95 4.05 1.95 1.05 0.95 2.05 0.95 2.05 2.95"/>
<path d="M202.16 8.83A202.35 202.35 0 0 1 -5.30 202.28A202.35 202.35 0 0 1 -202.34 -1.77" pathLength="178" stroke="#0068ff" stroke-dasharray="0 3 1.05 0.95 3.05 0.95 1.05 1.95 2.05 0.95 2.05 2.95 1.05 0.95 3.05 0.95 3.05 0.95 1.05 1.95 2.05 0.95 1.05 1.95 4.05 0.95 1.05 0.95 1.05 3.95 1.05 0.95 1.05 0.95 7.05 5.95 3.05 1.95 3.05 2.95 2.05 0.95 3.05 1.95 1.05 1.95 1.05 1.95 1.05 0.95 2.05 2.95 1.05 1.95 2.05 4.95 1.05 3.95 1.05 1.95 1.05 0.95 1.05 1.95 1.05 0.95 1.05 0.95 2.05 0.95 3.05 1.95 1.05 0.95 1.05 3.95 5.05 2.95 1.05 0.95 1.05 0.95 3.05 0.95 2.05 2.95 2.05 0.95 1.05 0.95 1.05 2.95 2.05 1.95 1.05 0.95"/>
<path d="M207.15 9.04A207.35 207.35 0 0 1 -5.43 207.28A207.35 207.35 0 0 1 -207.34 -1.81" pathLength="178" stroke="#0068ff" stroke-dasharray="0 3 1.05 2.95 1.05 3.95 2.05 1.95 2.05 1.95 2.05 1.95 1.05 0.95 3.05 4.95 1.05 1.95 2.05 1.95 1.05 0.95 2.05 1.95 1.05 1.95 1.05 0.95 1.05 2.95 4.05 1.95 5.05 3.95 1.05 4.95 1.05 0.95 2.05 0.95 2.05 0.95 1.05 5.95 1.05 1.95 2.05 1.95 1.05 1.95 1.05 1.95 2.05 3.95 2.05 1.95 1.05 0.95 1.05 0.95 2.05 0.95 1.05 3.95 1.05 1.95 3.05 1.95 1.05 4.95 7.05 2.95 2.05 0.95 3.05 1.95 1.05 0.95 5.05 0.95 2.05 1.95 3.05 2.95 1.05 0"/>
<path d="M212.15 9.26A212.35 212.35 0 0 1 -5.56 212.28A212.35 212.35 0 0 1 -212.34 -1.85" pathLength="178" stroke="#0068ff" stroke-dasharray="0 1 3.05 0.95 1.05 0.95 1.05 0.95 2.05 0.95 2.05 0.95 2.05 1.95 2.05 2.95 6.05 0.95 1.05 1.95 1.05 0.95 1.05 0.95 1.05 2.95 1.05 1.95 1.05 2.95 1.05 1.95 5.05 0.95 3.05 1.95 3.05 0.95 2.05 0.95 1.05 2.95 1.05 3.95 3.05 2.95 2.05 3.95 1.05 2.95 1.05 2.95 1.05 0.95 1.05 1.95 1.05 0.95 2.05 1.95 1.05 0.95 1.05 0.95 1.05 3.95 1.05 0.95 1.05 0.95 1.05 0.95 1.05 0.95 1.05 2.95 3.05 0.95 1.05 0.95 3.05 1.95 5.05 1.95 1.05 0.95 1.05 0.95 2.05 0.95 1.05 0.95 4.05 0.95 2.05 2.95 3.05 0.95 3.05 0.95 1.05 0.95"/>
<path d="M217.14 9.48A217.35 217.35 0 0 1 -5.69 217.28A217.35 217.35 0 0 1 -217.34 -1.90" pathLength="178" stroke="#0068ff" stroke-dasharray="0 1 3.05 1.95 1.05 1.95 5.05 0.95 2.05 0.95 4.05 0.95 2.05 0.95 2.05 0.95 5.05 1.95 1.05 0.95 2.05 0.95 2.05 9.95 1.05 0.95 1.05 0.95 2.05 0.95 1.05 1.95 1.05 1.95 3.05 0.95 2.05 1.95 1.05 0.95 5.05 0.95 2.05 2.95 1.05 1.95 4.05 1.95 4.05 0.95 1.05 2.95 3.05 2.95 2.05 1.95 4.05 1.95 1.05 1.95 3.05 0.95 1.05 5.95 1.05 0.95 1.05 1.95 1.05 0.95 6.05 0.95 1.05 1.95 3.05 0.95 2.05 0.95 5.05 0.95 1.05 1.95 3.05 0.95 2.05 1.95 1.05 0.95"/>
<path d="M222.14 9.70A222.35 222.35 0 0 1 -5.82 222.27A222.35 222.35 0 0 1 -222.34 -1.94" pathLength="178" stroke="#0068ff" stroke-dasharray="0 1 4.05 4.95 2.05 2.95 3.05 2.95 8.05 1.95 1.05 3.95 1.05 0.95 1.05 0.95 1.05 8.95 1.05 1.95 2.05 1.95 2.05 0.95 1.05 0.95 2.05 1.95 4.05 0.95 3.05 1.95 3.05 0.95 2.05 0.95 2.05 0.95 1.05 0.95 5.05 0.95 4.05 6.95 3.05 0.95 1.05 0.95 3.05 0.95 2.05 3.95 2.05 2.95 4.05 1.95 1.05 0.95 1.05 1.95 1.05 0.95 1.05 0.95 7.05 0.95 1.05 0.95 1.05 0.95 1.05 1.95 1.05 1.95 1.05 0.95 1.05 0.95 2.05 0.95 5.05 0.95 6.05 0"/>
<path d="M227.13 9.92A227.35 227.35 0 0 1 -5.95 227.27A227.35 227.35 0 0 1 -227.34 -1.98" pathLength="178" stroke="#0068ff" stroke-dasharray="3.05 0.95 1.05 1.95 1.05 2.95 2.05 0.95 1.05 0.95 3.05 0.95 10.05 0.95 2.05 1.95 2.05 0.95 1.05 0.95 3.05 0.95 7.05 3.95 2.05 0.95 3.05 0.95 2.05 1.95 2.05 3.95 1.05 0.95 1.05 0.95 3.05 1.95 7.05 0.95 3.05 0.95 2.05 1.95 1.05 1.95 1.05 0.95 1.05 1.95 3.05 0.95 1.05 1.95 1.05 1.95 4.05 0.95 3.05 2.95 1.05 0.95 1.05 0.95 1.05 4.95 2.05 0.95 9.05 0.95 4.05 1.95 1.05 0.95 5.05 0.95 1.05 2.95 3.05 0.95 1.05 0.95 1.05 1.95 2.05 0"/>
<path d="M232.13 10.13A232.35 232.35 0 0 1 -6.08 232.27A232.35 232.35 0 0 1 -232.34 -2.03" pathLength="178" stroke="#0068ff" stroke-dasharray="5.05 0.95 2.05 2.95 3.05 0.95 4.05 3.95 12.05 1.95 1.05 0.95 2.05 4.95 3.05 7.95 4.05 1.95 4.05 0.95 1.05 1.95 1.05 3.95 1.05 1.95 1.05 0.95 1.05 1.95 3.05 0.95 1.05 0.95 2.05 0.95 1.05 2.95 3.05 2.95 3.05 0.95 1.05 0.95 5.05 0.95 2.05 1.95 4.05 2.95 7.05 2.95 5.05 0.95 11.05 1.95 1.05 0.95 1.05 0.95 3.05 1.95 3.05 0.95 3.05 0.95 1.05 4.95"/>
<path d="M237.12 10.35A237.35 237.35 0 0 1 -6.21 237.27A237.35 237.35 0 0 1 -237.34 -2.07" pathLength="178" stroke="#0068ff" stroke-dasharray="0 2 1.05 0.95 1.05 0.95 3.05 0.95 2.05 2.95 5.05 3.95 6.05 0.95 2.05 0.95 1.05 2.95 1.05 1.95 1.05 1.95 4.05 1.95 1.05 0.95 3.05 0.95 7.05 0.95 3.05 1.95 1.05 0.95 1.05 0.95 2.05 2.95 2.05 0.95 5.05 1.95 1.05 1.95 3.05 1.95 5.05 0.95 3.05 0.95 2.05 0.95 1.05 0.95 3.05 2.95 6.05 3.95 3.05 0.95 3.05 0.95 1.05 1.95 3.05 0.95 10.05 0.95 2.05 0.95 1.05 0.95 4.05 0.95 1.05 0.95 1.05 0.95 4.05 0.95 2.05 1.95 1.05 0.95"/>
<path d="M242.12 10.57A242.35 242.35 0 0 1 -6.34 242.27A242.35 242.35 0 0 1 -242.34 -2.11" pathLength="178" stroke="#0068ff" stroke-dasharray="3.05 0.95 1.05 0.95 3.05 0.95 3.05 1.95 4.05 4.95 5.05 2.95 2.05 0.95 6.05 2.95 3.05 0.95 1.05 0.95 4.05 0.95 5.05 0.95 1.05 0.95 7.05 0.95 1.05 0.95 1.05 0.95 6.05 1.95 2.05 1.95 3.05 0.95 6.05 0.95 1.05 0.95 1.05 0.95 2.05 2.95 1.05 2.95 9.05 0.95 1.05 1.95 9.05 3.95 5.05 0.95 10.05 0.95 1.05 3.95 2.05 0.95 3.05 0.95 3.05 0.95 1.05 0.95 1.05 1.95 1.05 0.95 1.05 0"/>
<path d="M247.11 10.79A247.35 247.35 0 0 1 -6.47 247.27A247.35 247.35 0 0 1 -247.34 -2.16" pathLength="178" stroke="#0068ff" stroke-dasharray="2.05 0.95 2.05 0.95 4.05 1.95 1.05 0.95 1.05 0.95 1.05 1.95 1.05 0.95 3.05 0.95 4.05 0.95 1.05 0.95 2.05 1.95 2.05 0.95 3.05 0.95 3.05 0.95 1.05 1.95 2.05 0.95 5.05 0.95 4.05 0.95 6.05 2.95 4.05 0.95 2.05 1.95 2.05 0.95 2.05 1.95 3.05 3.95 1.05 0.95 2.05 1.95 1.05 2.95 2.05 0.95 2.05 0.95 4.05 0.95 3.05 0.95 1.05 0.95 2.05 0.95 3.05 1.95 3.05 2.95 2.05 0.95 12.05 0.95 3.05 1.95 15.05 1.95 1.05 0.95 1.05 0"/>
<path d="M252.11 11.01A252.35 252.35 0 0 1 -6.61 252.26A252.35 252.35 0 0 1 -252.34 -2.20" pathLength="178" stroke="#0068ff" stroke-dasharray="0 1 12.05 0.95 4.05 0.95 1.05 0.95 7.05 0.95 1.05 0.95 1.05 1.95 1.05 0.95 1.05 0.95 5.05 0.95 4.05 1.95 1.05 1.95 6.05 0.95 2.05 1.95 1.05 0.95 2.05 2.95 1.05 1.95 3.05 2.95 15.05 0.95 5.05 1.95 8.05 0.95 1.05 0.95 4.05 0.95 3.05 0.95 5.05 1.95 1.05 0.95 1.05 0.95 4.05 0.95 11.05 1.95 5.05 0.95 3.05 1.95 4.05 0.95 10.05 0"/>
<path d="M257.11 11.23A257.35 257.35 0 0 1 -6.74 257.26A257.35 257.35 0 0 1 -257.34 -2.25" pathLength="178" stroke="#0068ff" stroke-dasharray="2.05 0.95 5.05 2.95 1.05 1.95 1.05 0.95 5.05 0.95 2.05 0.95 3.05 1.95 2.05 0.95 2.05 0.95 1.05 1.95 1.05 2.95 4.05 0.95 3.05 0.95 2.05 1.95 2.05 1.95 2.05 2.95 4.05 0.95 1.05 0.95 5.05 0.95 1.05 1.95 3.05 0.95 8.05 1.95 4.05 0.95 6.05 0.95 1.05 0.95 4.05 0.95 2.05 0.95 1.05 1.95 2.05 0.95 1.05 0.95 2.05 0.95 1.05 0.95 1.05 0.95 6.05 0.95 2.05 0.95 9.05 0.95 1.05 0.95 12.05 1.95 4.05 0.95 1.05 0.95 2.05 0.95"/>
<path d="M262.10 11.44A262.35 262.35 0 0 1 -6.87 262.26A262.35 262.35 0 0 1 -262.34 -2.29" pathLength="178" stroke="#0068ff" stroke-dasharray="2.05 0.95 6.05 0.95 1.05 2.95 15.05 0.95 4.05 1.95 2.05 3.95 9.05 0.95 3.05 0.95 6.05 2.95 6.05 2.95 5.05 0.95 6.05 0.95 5.05 0.95 3.05 0.95 8.05 0.95 5.05 0.95 3.05 0.95 1.05 0.95 6.05 0.95 2.05 1.95 3.05 0.95 2.05 0.95 1.05 0.95 1.05 0.95 16.05 1.95 7.05 0.95 6.05 1.95 4.05 0"/>
<path d="M267.10 11.66A267.35 267.35 0 0 1 -7.00 267.26A267.35 267.35 0 0 1 -267.34 -2.33" pathLength="178" stroke="#0068ff" stroke-dasharray="0 1 5.05 0.95 1.05 0.95 2.05 2.95 5.05 0.95 3.05 0.95 6.05 0.95 6.05 1.95 1.05 2.95 7.05 0.95 1.05 0.95 3.05 0.95 1.05 1.95 2.05 3.95 1.05 0.95 3.05 0.95 1.05 0.95 11.05 1.95 1.05 0.95 3.05 0.95 1.05 1.95 4.05 0.95 2.05 2.95 4.05 1.95 3.05 0.95 11.05 1.95 22.05 0.95 9.05 0.95 1.05 0.95 2.05 0.95 2.05 0.95 8.05 0"/>
<path d="M272.09 11.88A272.35 272.35 0 0 1 -7.13 272.26A272.35 272.35 0 0 1 -272.34 -2.38" pathLength="178" stroke="#0068ff" stroke-dasharray="8.05 1.95 1.05 1.95 1.05 1.95 3.05 0.95 3.05 1.95 12.05 1.95 3.05 0.95 3.05 1.95 8.05 0.95 10.05 0.95 3.05 0.95 1.05 0.95 3.05 1.95 3.05 0.95 3.05 0.95 16.05 0.95 1.05 0.95 9.05 0.95 4.05 0.95 1.05 0.95 38.05 0.95 5.05 0.95 5.05 1.95 2.05 0.95"/>
<path d="M277.09 12.10A277.35 277.35 0 0 1 -7.26 277.25A277.35 277.35 0 0 1 -277.34 -2.42" pathLength="178" stroke="#0068ff" stroke-dasharray="8.05 0.95 1.05 1.95 11.05 0.95 3.05 0.95 1.05 0.95 1.05 0.95 6.05 0.95 3.05 0.95 1.05 1.95 4.05 0.95 4.05 0.95 2.05 0.95 3.05 0.95 3.05 0.95 1.05 0.95 9.05 0.95 1.05 1.95 4.05 0.95 2.05 0.95 1.05 0.95 1.05 0.95 1.05 0.95 2.05 0.95 4.05 2.95 4.05 0.95 13.05 0.95 1.05 0.95 3.05 0.95 1.05 0.95 17.05 0.95 3.05 0.95 9.05 2.95 9.05 1.95"/>
<path d="M282.08 12.32A282.35 282.35 0 0 1 -7.39 282.25A282.35 282.35 0 0 1 -282.34 -2.46" pathLength="178" stroke="#0068ff" stroke-dasharray="10.05 0.95 3.05 0.95 2.05 2.95 7.05 0.95 3.05 0.95 3.05 0.95 5.05 0.95 3.05 1.95 2.05 0.95 6.05 0.95 5.05 0.95 3.05 0.95 1.05 1.95 2.05 0.95 1.05 0.95 4.05 0.95 6.05 0.95 4.05 0.95 7.05 0.95 3.05 1.95 1.05 0.95 4.05 0.95 1.05 0.95 3.05 0.95 14.05 0.95 4.05 2.95 10.05 0.95 16.05 0.95 5.05 0.95 1.05 1.95 1.05 0"/>
<path d="M287.08 12.53A287.35 287.35 0 0 1 -7.52 287.25A287.35 287.35 0 0 1 -287.34 -2.51" pathLength="178" stroke="#0068ff" stroke-dasharray="10.05 0.95 2.05 1.95 2.05 0.95 4.05 0.95 6.05 0.95 4.05 0.95 2.05 0.95 8.05 0.95 2.05 0.95 9.05 1.95 5.05 0.95 5.05 0.95 2.05 1.95 3.05 0.95 7.05 1.95 1.05 0.95 2.05 0.95 2.05 0.95 7.05 3.95 2.05 0.95 18.05 0.95 1.05 0.95 5.05 0.95 1.05 0.95 15.05 0.95 2.05 0.95 2.05 0.95 2.05 0.95 10.05 0.95 1.05 0"/>
<path d="M292.07 12.75A292.35 292.35 0 0 1 -7.65 292.25A292.35 292.35 0 0 1 -292.34 -2.55" pathLength="178" stroke="#0068ff" stroke-dasharray="1.05 0.95 10.05 0.95 17.05 0.95 3.05 0.95 2.05 0.95 1.05 0.95 1.05 4.95 1.05 0.95 4.05 0.95 13.05 0.95 5.05 3.95 4.05 0.95 3.05 0.95 8.05 0.95 2.05 1.95 1.05 0.95 4.05 0.95 4.05 0.95 5.05 0.95 4.05 0.95 2.05 0.95 6.05 0.95 24.05 0.95 2.05 0.95 14.05 0.95 2.05 0.95 1.05 0"/>
<path d="M297.07 12.97A297.35 297.35 0 0 1 -7.78 297.25A297.35 297.35 0 0 1 -297.34 -2.59" pathLength="178" stroke="#0068ff" stroke-dasharray="3.05 0.95 6.05 0.95 18.05 0.95 6.05 0.95 4.05 1.95 2.05 0.95 2.05 1.95 2.05 1.95 1.05 0.95 2.05 0.95 2.05 0.95 1.05 0.95 1.05 0.95 13.05 0.95 1.05 0.95 2.05 1.95 2.05 0.95 2.05 1.95 2.05 0.95 1.05 0.95 5.05 0.95 1.05 1.95 16.05 0.95 6.05 0.95 8.05 0.95 1.05 0.95 9.05 0.95 20.05 0.95 5.05 0"/>
<path d="M302.06 13.19A302.35 302.35 0 0 1 -7.91 302.25A302.35 302.35 0 0 1 -302.34 -2.64" pathLength="178" stroke="#0068ff" stroke-dasharray="10.05 0.95 3.05 0.95 20.05 0.95 1.05 0.95 3.05 0.95 3.05 0.95 2.05 0.95 3.05 0.95 5.05 0.95 6.05 0.95 2.05 0.95 4.05 1.95 6.05 0.95 12.05 0.95 2.05 0.95 3.05 1.95 20.05 0.95 3.05 0.95 2.05 1.95 3.05 0.95 2.05 0.95 12.05 0.95 10.05 0.95 3.05 0.95 9.05 0.95 1.05 0"/>
<path d="M307.06 13.41A307.35 307.35 0 0 1 -8.05 307.24A307.35 307.35 0 0 1 -307.34 -2.68" pathLength="178" stroke="#0068ff" stroke-dasharray="0 2 18.05 1.95 1.05 0.95 3.05 0.95 2.05 0.95 4.05 0.95 5.05 1.95 5.05 1.95 2.05 0.95 2.05 0.95 2.05 0.95 1.05 0.95 5.05 0.95 4.05 0.95 7.05 0.95 1.05 2.95 4.05 0.95 3.05 0.95 8.05 1.95 1.05 0.95 9.05 0.95 1.05 0.95 3.05 1.95 1.05 0.95 6.05 0.95 8.05 0.95 1.05 0.95 14.05 0.95 8.05 0.95 5.05 0.95 3.05 0.95 2.05 0"/>
<path d="M312.05 13.62A312.35 312.35 0 0 1 -8.18 312.24A312.35 312.35 0 0 1 -312.34 -2.73" pathLength="178" stroke="#0068ff" stroke-dasharray="1.05 0.95 5.05 0.95 9.05 0.95 1.05 1.95 2.05 0.95 2.05 0.95 3.05 0.95 5.05 1.95 1.05 0.95 4.05 0.95 1.05 0.95 2.05 0.95 2.05 0.95 7.05 0.95 11.05 0.95 1.05 0.95 5.05 3.95 4.05 0.95 12.05 1.95 9.05 0.95 5.05 0.95 2.05 0.95 7.05 0.95 4.05 0.95 6.05 0.95 14.05 1.95 20.05 0"/>
<path d="M317.05 13.84A317.35 317.35 0 0 1 -8.31 317.24A317.35 317.35 0 0 1 -317.34 -2.77" pathLength="178" stroke="#0068ff" stroke-dasharray="1.05 0.95 4.05 0.95 11.05 0.95 18.05 0.95 1.05 0.95 4.05 0.95 3.05 0.95 3.05 0.95 6.05 1.95 3.05 0.95 6.05 2.95 1.05 0.95 1.05 0.95 9.05 3.95 5.05 0.95 11.05 0.95 1.05 0.95 5.05 0.95 4.05 0.95 3.05 0.95 17.05 0.95 15.05 0.95 6.05 0.95 10.05 0.95"/>
<path d="M322.04 14.06A322.35 322.35 0 0 1 -8.44 322.24A322.35 322.35 0 0 1 -322.34 -2.81" pathLength="178" stroke="#0068ff" stroke-dasharray="6.05 0.95 39.05 0.95 7.05 0.95 1.05 0.95 3.05 0.95 7.05 0.95 1.05 0.95 10.05 0.95 3.05 0.95 3.05 1.95 10.05 1.95 1.05 0.95 3.05 1.95 12.05 0.95 4.05 0.95 4.05 0.95 6.05 1.95 12.05 0.95 9.05 0.95 1.05 1.95 1.05 0.95 8.05 0.95"/>
<path d="M327.04 14.28A327.35 327.35 0 0 1 -8.57 327.24A327.35 327.35 0 0 1 -327.34 -2.86" pathLength="178" stroke="#0068ff" stroke-dasharray="7.05 0.95 2.05 0.95 10.05 1.95 4.05 0.95 8.05 0.95 13.05 0.95 30.05 0.95 5.05 3.95 6.05 0.95 6.05 0.95 10.05 0.95 8.05 0.95 8.05 0.95 3.05 0.95 2.05 0.95 14.05 0.95 16.05 0.95 5.05 0"/>
<path d="M332.03 14.50A332.35 332.35 0 0 1 -8.70 332.24A332.35 332.35 0 0 1 -332.34 -2.90" pathLength="178" stroke="#0068ff" stroke-dasharray="10.05 0.95 10.05 0.95 16.05 0.95 1.05 1.95 5.05 0.95 11.05 0.95 3.05 0.95 6.05 0.95 1.05 0.95 11.05 1.95 8.05 0.95 6.05 0.95 7.05 0.95 2.05 0.95 4.05 0.95 6.05 0.95 1.05 0.95 2.05 0.95 5.05 0.95 3.05 0.95 14.05 0.95 2.05 0.95 12.05 0.95 1.05 0.95 5.05 0"/>
<path d="M337.03 14.72A337.35 337.35 0 0 1 -8.83 337.23A337.35 337.35 0 0 1 -337.34 -2.94" pathLength="178" stroke="#0068ff" stroke-dasharray="0 1 3.05 1.95 4.05 1.95 16.05 0.95 2.05 0.95 3.05 0.95 2.05 0.95 2.05 1.95 6.05 0.95 1.05 0.95 7.05 0.95 3.05 0.95 3.05 0.95 5.05 0.95 10.05 1.95 16.05 0.95 1.05 0.95 16.05 0.95 1.05 1.95 1.05 0.95 9.05 0.95 41.05 0"/>
<path d="M342.02 14.93A342.35 342.35 0 0 1 -8.96 342.23A342.35 342.35 0 0 1 -342.34 -2.99" pathLength="178" stroke="#0068ff" stroke-dasharray="1.05 0.95 1.05 1.95 11.05 0.95 10.05 1.95 6.05 0.95 2.05 0.95 2.05 2.95 14.05 0.95 6.05 0.95 4.05 0.95 3.05 1.95 2.05 1.95 4.05 0.95 9.05 0.95 7.05 0.95 11.05 1.95 5.05 0.95 1.05 0.95 11.05 1.95 6.05 0.95 10.05 0.95 2.05 0.95 13.05 0.95 6.05 0"/>
<path d="M347.02 15.15A347.35 347.35 0 0 1 -9.09 347.23A347.35 347.35 0 0 1 -347.34 -3.03" pathLength="178" stroke="#0068ff" stroke-dasharray="4.05 0.95 1.05 0.95 10.05 0.95 2.05 0.95 12.05 0.95 3.05 2.95 2.05 0.95 1.05 0.95 5.05 1.95 3.05 1.95 1.05 0.95 2.05 1.95 7.05 1.95 3.05 0.95 8.05 0.95 4.05 0.95 12.05 0.95 2.05 0.95 9.05 0.95 3.05 0.95 14.05 0.95 1.05 0.95 4.05 0.95 3.05 0.95 8.05 0.95 19.05 1.95 2.05 0"/>
<path d="M352.01 15.37A352.35 352.35 0 0 1 -9.22 352.23A352.35 352.35 0 0 1 -352.34 -3.07" pathLength="178" stroke="#0068ff" stroke-dasharray="0 1 3.05 0.95 3.05 0.95 8.05 0.95 3.05 1.95 6.05 0.95 8.05 0.95 2.05 2.95 4.05 0.95 12.05 1.95 4.05 0.95 2.05 0.95 3.05 0.95 7.05 0.95 14.05 0.95 5.05 0.95 12.05 0.95 4.05 0.95 6.05 0.95 1.05 0.95 28.05 0.95 16.05 0.95 1.05 0"/>
<path d="M357.01 15.59A357.35 357.35 0 0 1 -9.35 357.23A357.35 357.35 0 0 1 -357.34 -3.12" pathLength="178" stroke="#0068ff" stroke-dasharray="37.05 0.95 5.05 0.95 7.05 0.95 2.05 0.95 7.05 0.95 8.05 0.95 18.05 0.95 3.05 0.95 3.05 0.95 13.05 0.95 19.05 0.95 7.05 0.95 13.05 0.95 23.05 0"/>
<path d="M362.01 15.81A362.35 362.35 0 0 1 -9.49 362.23A362.35 362.35 0 0 1 -362.34 -3.16" pathLength="178" stroke="#0068ff" stroke-dasharray="5.05 1.95 4.05 0.95 1.05 0.95 5.05 0.95 6.05 0.95 20.05 0.95 5.05 0.95 1.05 0.95 1.05 0.95 4.05 0.95 2.05 0.95 1.05 0.95 1.05 0.95 4.05 0.95 1.05 0.95 17.05 0.95 8.05 0.95 6.05 0.95 1.05 0.95 3.05 1.95 2.05 1.95 2.05 1.95 3.05 0.95 48.05 0"/>
<path d="M367.00 16.02A367.35 367.35 0 0 1 -9.62 367.22A367.35 367.35 0 0 1 -367.34 -3.21" pathLength="178" stroke="#0068ff" stroke-dasharray="0 1 2.05 0.95 10.05 0.95 2.05 0.95 1.05 0.95 15.05 0.95 7.05 0.95 1.05 0.95 8.05 0.95 2.05 0.95 2.05 0.95 1.05 0.95 5.05 0.95 5.05 0.95 9.05 0.95 3.05 0.95 9.05 0.95 3.05 0.95 5.05 0.95 10.05 1.95 3.05 0.95 3.05 1.95 6.05 0.95 29.05 1.95 10.05 0"/>
<path d="M372.00 16.24A372.35 372.35 0 0 1 -9.75 372.22A372.35 372.35 0 0 1 -372.34 -3.25" pathLength="178" stroke="#0068ff" stroke-dasharray="0 1 8.05 0.95 4.05 0.95 1.05 0.95 15.05 0.95 2.05 0.95 5.05 0.95 7.05 0.95 6.05 0.95 9.05 1.95 4.05 0.95 14.05 1.95 9.05 1.95 21.05 0.95 7.05 0.95 28.05 0.95 3.05 1.95 14.05 0"/>
<path d="M376.99 16.46A377.35 377.35 0 0 1 -9.88 377.22A377.35 377.35 0 0 1 -377.34 -3.29" pathLength="178" stroke="#0068ff" stroke-dasharray="7.05 0.95 5.05 0.95 6.05 1.95 7.05 0.95 5.05 0.95 11.05 2.95 2.05 0.95 17.05 0.95 1.05 0.95 8.05 1.95 6.05 0.95 11.05 0.95 6.05 0.95 10.05 0.95 15.05 0.95 3.05 0.95 14.05 0.95 3.05 0.95 3.05 1.95 14.05 0"/>
<path d="M381.99 16.68A382.35 382.35 0 0 1 -10.01 382.22A382.35 382.35 0 0 1 -382.34 -3.34" pathLength="178" stroke="#0068ff" stroke-dasharray="2.05 0.95 3.05 0.95 6.05 0.95 6.05 1.95 62.05 0.95 4.05 1.95 1.05 0.95 2.05 0.95 24.05 1.95 21.05 0.95 12.05 0.95 21.05 0"/>
<path d="M386.98 16.90A387.35 387.35 0 0 1 -10.14 387.22A387.35 387.35 0 0 1 -387.34 -3.38" pathLength="178" stroke="#0068ff" stroke-dasharray="1.05 0.95 2.05 2.95 1.05 0.95 9.05 0.95 40.05 0.95 3.05 0.95 3.05 0.95 5.05 0.95 6.05 0.95 5.05 0.95 5.05 0.95 20.05 0.95 5.05 0.95 1.05 0.95 3.05 0.95 18.05 0.95 33.05 0"/>
<path d="M391.98 17.11A392.35 392.35 0 0 1 -10.27 392.22A392.35 392.35 0 0 1 -392.34 -3.42" pathLength="178" stroke="#0068ff" stroke-dasharray="4.05 1.95 28.05 0.95 2.05 0.95 3.05 0.95 19.05 0.95 4.05 0.95 11.05 0.95 1.05 0.95 37.05 0.95 3.05 0.95 16.05 1.95 3.05 0.95 22.05 0.95 10.05 0"/>
<path d="M396.97 17.33A397.35 397.35 0 0 1 -10.40 397.21A397.35 397.35 0 0 1 -397.33 -3.47" pathLength="178" stroke="#0068ff" stroke-dasharray="1.05 3.95 8.05 0.95 18.05 0.95 45.05 0.95 4.05 0.95 44.05 0.95 9.05 0.95 39.05 0"/>
<path d="M401.97 17.55A402.35 402.35 0 0 1 -10.53 402.21A402.35 402.35 0 0 1 -402.33 -3.51" pathLength="178" stroke="#0068ff" stroke-dasharray="17.05 0.95 22.05 0.95 10.05 1.95 13.05 0.95 8.05 0.95 21.05 1.95 24.05 0.95 10.05 0.95 4.05 0.95 37.05 0.95"/>
<path d="M406.96 17.77A407.35 407.35 0 0 1 -10.66 407.21A407.35 407.35 0 0 1 -407.33 -3.55" pathLength="178" stroke="#0068ff" stroke-dasharray="10.05 0.95 6.05 0.95 8.05 1.95 8.05 0.95 3.05 0.95 18.05 0.95 3.05 0.95 35.05 0.95 6.05 0.95 6.05 0.95 42.05 0.95 3.05 0.95 17.05 0"/>
<path d="M411.96 17.99A412.35 412.35 0 0 1 -10.79 412.21A412.35 412.35 0 0 1 -412.33 -3.60" pathLength="178" stroke="#0068ff" stroke-dasharray="16.05 0.95 9.05 0.95 7.05 1.95 4.05 0.95 1.05 0.95 6.05 0.95 8.05 0.95 21.05 0.95 6.05 0.95 11.05 0.95 16.05 0.95 11.05 0.95 3.05 0.95 4.05 0.95 6.05 0.95 33.05 0"/>
<path d="M416.95 18.20A417.35 417.35 0 0 1 -10.92 417.21A417.35 417.35 0 0 1 -417.33 -3.64" pathLength="178" stroke="#0068ff" stroke-dasharray="6.05 0.95 6.05 0.95 2.05 0.95 11.05 1.95 12.05 1.95 1.05 0.95 3.05 0.95 1.05 0.95 15.05 0.95 10.05 0.95 9.05 0.95 17.05 0.95 16.05 0.95 13.05 0.95 2.05 0.95 24.05 0.95 12.05 0"/>
<path d="M421.95 18.42A422.35 422.35 0 0 1 -11.06 422.21A422.35 422.35 0 0 1 -422.33 -3.69" pathLength="178" stroke="#0068ff" stroke-dasharray="19.05 0.95 9.05 0.95 21.05 0.95 25.05 0.95 8.05 0.95 18.05 0.95 23.05 0.95 7.05 0.95 10.05 0.95 7.05 0.95 21.05 0"/>
<path d="M426.94 18.64A427.35 427.35 0 0 1 -11.19 427.20A427.35 427.35 0 0 1 -427.33 -3.73" pathLength="178" stroke="#0068ff" stroke-dasharray="13.05 0.95 14.05 0.95 3.05 0.95 31.05 0.95 21.05 0.95 7.05 0.95 28.05 0.95 1.05 0.95 2.05 0.95 9.05 0.95 18.05 0.95 5.05 0.95 14.05 0"/>
<path d="M431.94 18.86A432.35 432.35 0 0 1 -11.32 432.20A432.35 432.35 0 0 1 -432.33 -3.77" pathLength="178" stroke="#0068ff" stroke-dasharray="32.05 0.95 5.05 0.95 20.05 0.95 38.05 0.95 17.05 0.95 12.05 0.95 23.05 0.95 13.05 0.95 10.05 0"/>
<path d="M436.93 19.08A437.35 437.35 0 0 1 -11.45 437.20A437.35 437.35 0 0 1 -437.33 -3.82" pathLength="178" stroke="#0068ff" stroke-dasharray="0 1 6.05 0.95 10.05 0.95 13.05 0.95 17.05 0.95 3.05 0.95 2.05 0.95 1.05 0.95 1.05 0.95 13.05 0.95 9.05 0.95 36.05 0.95 55.05 0"/>
<path d="M441.93 19.30A442.35 442.35 0 0 1 -11.58 442.20A442.35 442.35 0 0 1 -442.33 -3.86" pathLength="178" stroke="#0068ff" stroke-dasharray="4.05 0.95 21.05 0.95 1.05 0.95 7.05 0.95 20.05 0.95 5.05 0.95 7.05 1.95 20.05 0.95 49.05 0.95 2.05 0.95 31.05 0"/>
<path d="M446.92 19.51A447.35 447.35 0 0 1 -11.71 447.20A447.35 447.35 0 0 1 -447.33 -3.90" pathLength="178" stroke="#0068ff" stroke-dasharray="9.05 0.95 17.05 0.95 6.05 0.95 23.05 1.95 1.05 0.95 1.05 0.95 21.05 0.95 40.05 0.95 1.05 0.95 49.05 0"/>
<path d="M451.92 19.73A452.35 452.35 0 0 1 -11.84 452.19A452.35 452.35 0 0 1 -452.33 -3.95" pathLength="178" stroke="#0068ff" stroke-dasharray="9.05 0.95 19.05 0.95 6.05 0.95 16.05 0.95 4.05 1.95 7.05 0.95 1.05 0.95 16.05 0.95 25.05 0.95 12.05 0.95 3.05 0.95 2.05 0.95 2.05 0.95 42.05 0"/>
<path d="M456.91 19.95A457.35 457.35 0 0 1 -11.97 457.19A457.35 457.35 0 0 1 -457.33 -3.99" pathLength="178" stroke="#0068ff" stroke-dasharray="12.05 0.95 40.05 0.95 12.05 0.95 12.05 0.95 16.05 0.95 1.05 1.95 25.05 0.95 38.05 0.95 13.05 0"/>
<path d="M461.91 20.17A462.35 462.35 0 0 1 -12.10 462.19A462.35 462.35 0 0 1 -462.33 -4.03" pathLength="178" stroke="#0068ff" stroke-dasharray="2.05 0.95 9.05 0.95 30.05 1.95 4.05 0.95 4.05 0.95 1.05 0.95 8.05 0.95 30.05 0.95 81.05 0"/>
<path d="M466.91 20.39A467.35 467.35 0 0 1 -12.23 467.19A467.35 467.35 0 0 1 -467.33 -4.08" pathLength="178" stroke="#0068ff" stroke-dasharray="12.05 0.95 14.05 0.95 4.05 0.95 4.05 0.95 9.05 0.95 6.05 0.95 8.05 0.95 9.05 0.95 34.05 0.95 16.05 0.95 52.05 0"/>
<path d="M471.90 20.60A472.35 472.35 0 0 1 -12.36 472.19A472.35 472.35 0 0 1 -472.33 -4.12" pathLength="178" stroke="#0068ff" stroke-dasharray="4.05 0.95 9.05 0.95 10.05 0.95 2.05 0.95 33.05 1.95 14.05 0.95 7.05 0.95 3.05 0.95 2.05 0.95 11.05 0.95 12.05 0.95 30.05 0.95 19.05 0.95 8.05 0"/>
<path d="M476.90 20.82A477.35 477.35 0 0 1 -12.50 477.19A477.35 477.35 0 0 1 -477.33 -4.17" pathLength="178" stroke="#0068ff" stroke-dasharray="25.05 0.95 24.05 0.95 3.05 2.95 1.05 3.95 20.05 0.95 7.05 0.95 27.05 0.95 6.05 0.95 16.05 0.95 26.05 0.95 8.05 0"/>
<path d="M481.89 21.04A482.35 482.35 0 0 1 -12.63 482.18A482.35 482.35 0 0 1 -482.33 -4.21" pathLength="178" stroke="#0068ff" stroke-dasharray="25.05 0.95 7.05 0.95 1.05 0.95 6.05 0.95 2.05 0.95 18.05 0.95 7.05 0.95 2.05 0.95 9.05 0.95 8.05 0.95 12.05 0.95 3.05 0.95 6.05 0.95 3.05 0.95 19.05 0.95 35.05 0"/>
<path d="M486.89 21.26A487.35 487.35 0 0 1 -12.76 487.18A487.35 487.35 0 0 1 -487.33 -4.25" pathLength="178" stroke="#0068ff" stroke-dasharray="4.05 0.95 20.05 0.95 2.05 0.95 6.05 0.95 71.05 0.95 3.05 0.95 6.05 0.95 10.05 0.95 48.05 0"/>
<path d="M491.88 21.48A492.35 492.35 0 0 1 -12.89 492.18A492.35 492.35 0 0 1 -492.33 -4.30" pathLength="178" stroke="#0068ff" stroke-dasharray="0 1 16.05 0.95 5.05 2.95 7.05 0.95 1.05 0.95 5.05 0.95 3.05 1.95 1.05 0.95 22.05 0.95 35.05 0.95 3.05 0.95 19.05 0.95 31.05 0.95 11.05 0.95 2.05 0"/>
<path d="M496.88 21.69A497.35 497.35 0 0 1 -13.02 497.18A497.35 497.35 0 0 1 -497.33 -4.34" pathLength="178" stroke="#0068ff" stroke-dasharray="8.05 0.95 19.05 0.95 81.05 0.95 9.05 0.95 57.05 0"/>
<path d="M501.87 21.91A502.35 502.35 0 0 1 -13.15 502.18A502.35 502.35 0 0 1 -502.33 -4.38" pathLength="178" stroke="#0068ff" stroke-dasharray="25.05 0.95 4.05 0.95 75.05 0.95 70.05 0.95"/>
<path d="M506.87 22.13A507.35 507.35 0 0 1 -13.28 507.18A507.35 507.35 0 0 1 -507.33 -4.43" pathLength="178" stroke="#0068ff" stroke-dasharray="8.05 0.95 1.05 0.95 1.05 0.95 97.05 0.95 12.05 0.95 13.05 0.95 40.05 0"/>
<path d="M137.22 5.99A137.35 137.35 0 0 1 -3.60 137.30A137.35 137.35 0 0 1 -137.34 -1.20" pathLength="178" stroke="#00aaff" stroke-dasharray="0 29 2.05 73.95 1.05 6.95 1.05 21.95 1.05 1.95 4.05 34.95"/>
<path d="M142.21 6.21A142.35 142.35 0 0 1 -3.73 142.30A142.35 142.35 0 0 1 -142.34 -1.24" pathLength="178" stroke="#00aaff" stroke-dasharray="0 29 2.05 53.95 1.05 49.95 1.05 2.95 3.05 34.95"/>
<path d="M147.21 6.43A147.35 147.35 0 0 1 -3.86 147.30A147.35 147.35 0 0 1 -147.34 -1.29" pathLength="178" stroke="#00aaff" stroke-dasharray="0 28 3.05 35.95 1.05 71.95 4.05 18.95 1.05 13.95"/>
<path d="M152.20 6.65A152.35 152.35 0 0 1 -3.99 152.30A152.35 152.35 0 0 1 -152.34 -1.33" pathLength="178" stroke="#00aaff" stroke-dasharray="0 16 1.05 7.95 1.05 1.95 2.05 70.95 1.05 9.95 2.05 13.95 1.05 10.95 4.05 33.95"/>
<path d="M157.20 6.86A157.35 157.35 0 0 1 -4.12 157.30A157.35 157.35 0 0 1 -157.34 -1.37" pathLength="178" stroke="#00aaff" stroke-dasharray="0 16 1.05 10.95 2.05 17.95 1.05 75.95 1.05 13.95 4.05 33.95"/>
<path d="M162.20 7.08A162.35 162.35 0 0 1 -4.25 162.29A162.35 162.35 0 0 1 -162.34 -1.42" pathLength="178" stroke="#00aaff" stroke-dasharray="0 13 1.05 1.95 1.05 10.95 2.05 68.95 1.05 25.95 1.05 12.95 5.05 32.95"/>
<path d="M167.19 7.30A167.35 167.35 0 0 1 -4.38 167.29A167.35 167.35 0 0 1 -167.34 -1.46" pathLength="178" stroke="#00aaff" stroke-dasharray="0 16 1.05 3.95 1.05 5.95 2.05 44.95 1.05 11.95 1.05 8.95 1.05 6.95 1.05 4.95 1.05 3.95 1.05 0.95 1.05 19.95 5.05 6.95 1.05 24.95"/>
<path d="M172.19 7.52A172.35 172.35 0 0 1 -4.51 172.29A172.35 172.35 0 0 1 -172.34 -1.50" pathLength="178" stroke="#00aaff" stroke-dasharray="0 16 1.05 8.95 1.05 0.95 1.05 67.95 1.05 13.95 1.05 1.95 1.05 23.95 6.05 0.95 2.05 22.95 1.05 4.95"/>
<path d="M177.18 7.74A177.35 177.35 0 0 1 -4.64 177.29A177.35 177.35 0 0 1 -177.34 -1.55" pathLength="178" stroke="#00aaff" stroke-dasharray="0 15 2.05 10.95 1.05 1.95 1.05 18.95 1.05 62.95 1.05 23.95 5.05 21.95 2.05 8.95"/>
<path d="M182.18 7.95A182.35 182.35 0 0 1 -4.77 182.29A182.35 182.35 0 0 1 -182.34 -1.59" pathLength="178" stroke="#00aaff" stroke-dasharray="0 2 1.05 12.95 1.05 5.95 2.05 1.95 2.05 9.95 1.05 4.95 1.05 11.95 1.05 25.95 1.05 16.95 1.05 10.95 2.05 8.95 1.05 13.95 5.05 0.95 1.05 15.95 1.05 2.95 1.05 8.95"/>
<path d="M187.17 8.17A187.35 187.35 0 0 1 -4.90 187.29A187.35 187.35 0 0 1 -187.34 -1.63" pathLength="178" stroke="#00aaff" stroke-dasharray="0 1 1.05 10.95 1.05 1.95 1.05 9.95 2.05 20.95 1.05 4.95 1.05 7.95 1.05 13.95 1.05 5.95 1.05 9.95 1.05 29.95 1.05 10.95 5.05 6.95 1.05 6.95 1.05 5.95 1.05 3.95 1.05 3.95"/>
<path d="M192.17 8.39A192.35 192.35 0 0 1 -5.04 192.28A192.35 192.35 0 0 1 -192.34 -1.68" pathLength="178" stroke="#00aaff" stroke-dasharray="0 16 1.05 9.95 2.05 14.95 1.05 30.95 2.05 12.95 2.05 26.95 1.05 19.95 5.05 11.95 2.05 7.95 1.05 8.95"/>
<path d="M197.16 8.61A197.35 197.35 0 0 1 -5.17 197.28A197.35 197.35 0 0 1 -197.34 -1.72" pathLength="178" stroke="#00aaff" stroke-dasharray="0 16 1.05 6.95 1.05 1.95 2.05 12.95 1.05 14.95 1.05 26.95 1.05 4.95 1.05 11.95 2.05 17.95 1.05 1.95 1.05 11.95 6.05 11.95 1.05 3.95 1.05 2.95 1.05 0.95 1.05 1.95 1.05 3.95"/>
<path d="M202.16 8.83A202.35 202.35 0 0 1 -5.30 202.28A202.35 202.35 0 0 1 -202.34 -1.77" pathLength="178" stroke="#00aaff" stroke-dasharray="0 3 1.05 11.95 1.05 4.95 1.05 2.95 3.05 3.95 2.05 10.95 1.05 11.95 1.05 18.95 1.05 19.95 1.05 16.95 1.05 5.95 1.05 10.95 1.05 3.95 5.05 8.95 1.05 1.95 1.05 2.95 1.05 3.95 1.05 2.95 1.05 2.95 1.05 0.95"/>
<path d="M207.15 9.04A207.35 207.35 0 0 1 -5.43 207.28A207.35 207.35 0 0 1 -207.34 -1.81" pathLength="178" stroke="#00aaff" stroke-dasharray="0 3 1.05 11.95 2.05 5.95 1.05 1.95 2.05 11.95 1.05 1.95 1.05 1.95 1.05 10.95 1.05 2.95 1.05 12.95 1.05 0.95 1.05 4.95 1.05 19.95 1.05 19.95 1.05 2.95 1.05 9.95 5.05 4.95 1.05 2.95 1.05 1.95 1.05 7.95 1.05 2.95 1.05 3.95 1.05 0"/>
<path d="M212.15 9.26A212.35 212.35 0 0 1 -5.56 212.28A212.35 212.35 0 0 1 -212.34 -1.85" pathLength="178" stroke="#00aaff" stroke-dasharray="0 12 1.05 2.95 1.05 2.95 1.05 2.95 1.05 0.95 2.05 0.95 1.05 7.95 1.05 12.95 1.05 9.95 1.05 2.95 1.05 1.95 1.05 9.95 1.05 23.95 2.05 3.95 1.05 13.95 1.05 2.95 1.05 6.95 1.05 1.95 5.05 8.95 1.05 0.95 2.05 7.95 1.05 8.95"/>
<path d="M217.14 9.48A217.35 217.35 0 0 1 -5.69 217.28A217.35 217.35 0 0 1 -217.34 -1.90" pathLength="178" stroke="#00aaff" stroke-dasharray="0 11 1.05 2.95 2.05 1.95 1.05 2.95 1.05 1.95 2.05 7.95 1.05 0.95 2.05 17.95 1.05 0.95 1.05 4.95 2.05 1.95 1.05 21.95 1.05 1.95 1.05 19.95 1.05 2.95 1.05 3.95 1.05 0.95 1.05 7.95 1.05 1.95 1.05 0.95 6.05 0.95 1.05 6.95 1.05 0.95 1.05 2.95 1.05 3.95 1.05 8.95"/>
<path d="M222.14 9.70A222.35 222.35 0 0 1 -5.82 222.27A222.35 222.35 0 0 1 -222.34 -1.94" pathLength="178" stroke="#00aaff" stroke-dasharray="0 3 2.05 4.95 1.05 4.95 1.05 3.95 2.05 2.95 2.05 7.95 1.05 0.95 1.05 10.95 1.05 10.95 1.05 4.95 1.05 1.95 1.05 5.95 1.05 0.95 1.05 7.95 1.05 0.95 2.05 3.95 1.05 7.95 1.05 4.95 1.05 13.95 2.05 2.95 1.05 5.95 1.05 2.95 5.05 0.95 1.05 2.95 1.05 4.95 1.05 0.95 1.05 4.95 4.05 3.95 1.05 0.95 1.05 0"/>
<path d="M227.13 9.92A227.35 227.35 0 0 1 -5.95 227.27A227.35 227.35 0 0 1 -227.34 -1.98" pathLength="178" stroke="#00aaff" stroke-dasharray="0 16 1.05 4.95 1.05 2.95 4.05 0.95 1.05 8.95 1.05 17.95 1.05 4.95 2.05 3.95 1.05 7.95 1.05 3.95 1.05 1.95 2.05 15.95 1.05 3.95 1.05 1.95 1.05 5.95 1.05 15.95 3.05 0.95 5.05 10.95 1.05 2.95 1.05 3.95 2.05 5.95 2.05 0"/>
<path d="M232.13 10.13A232.35 232.35 0 0 1 -6.08 232.27A232.35 232.35 0 0 1 -232.34 -2.03" pathLength="178" stroke="#00aaff" stroke-dasharray="1.05 2.95 1.05 1.95 1.05 2.95 1.05 3.95 2.05 6.95 4.05 0.95 4.05 2.95 1.05 8.95 1.05 10.95 1.05 4.95 2.05 0.95 1.05 9.95 1.05 0.95 1.05 2.95 1.05 3.95 1.05 6.95 1.05 11.95 1.05 7.95 2.05 17.95 1.05 1.95 8.05 7.95 3.05 5.95 2.05 7.95"/>
<path d="M237.12 10.35A237.35 237.35 0 0 1 -6.21 237.27A237.35 237.35 0 0 1 -237.34 -2.07" pathLength="178" stroke="#00aaff" stroke-dasharray="0 2 1.05 2.95 2.05 2.95 1.05 3.95 2.05 6.95 5.05 13.95 1.05 8.95 1.05 8.95 1.05 12.95 2.05 10.95 1.05 3.95 1.05 0.95 2.05 1.95 1.05 3.95 1.05 4.95 1.05 3.95 2.05 6.95 2.05 1.95 1.05 2.95 1.05 2.95 2.05 1.95 6.05 0.95 1.05 4.95 1.05 0.95 3.05 1.95 1.05 0.95 1.05 1.95 2.05 7.95"/>
<path d="M242.12 10.57A242.35 242.35 0 0 1 -6.34 242.27A242.35 242.35 0 0 1 -242.34 -2.11" pathLength="178" stroke="#00aaff" stroke-dasharray="2.05 1.95 1.05 0.95 3.05 5.95 2.05 8.95 3.05 2.95 1.05 3.95 2.05 0.95 1.05 2.95 3.05 5.95 1.05 0.95 1.05 1.95 1.05 3.95 1.05 0.95 1.05 4.95 1.05 0.95 1.05 1.95 1.05 0.95 1.05 4.95 1.05 3.95 1.05 2.95 1.05 12.95 1.05 3.95 1.05 0.95 1.05 0.95 2.05 0.95 1.05 3.95 1.05 1.95 1.05 3.95 1.05 3.95 1.05 0.95 1.05 0.95 1.05 0.95 6.05 9.95 2.05 1.95 2.05 2.95 1.05 0.95 1.05 0.95 1.05 4.95"/>
<path d="M247.11 10.79A247.35 247.35 0 0 1 -6.47 247.27A247.35 247.35 0 0 1 -247.34 -2.16" pathLength="178" stroke="#00aaff" stroke-dasharray="0 3 2.05 10.95 1.05 8.95 2.05 4.95 1.05 2.95 1.05 0.95 1.05 2.95 1.05 0.95 1.05 3.95 1.05 1.95 1.05 0.95 2.05 1.95 1.05 1.95 1.05 0.95 1.05 0.95 1.05 0.95 2.05 14.95 1.05 4.95 1.05 3.95 1.05 0.95 1.05 6.95 1.05 4.95 2.05 0.95 1.05 0.95 1.05 0.95 1.05 2.95 1.05 2.95 1.05 3.95 1.05 4.95 1.05 3.95 7.05 8.95 3.05 1.95 1.05 0.95 4.05 4.95 1.05 0.95 1.05 0"/>
<path d="M252.11 11.01A252.35 252.35 0 0 1 -6.61 252.26A252.35 252.35 0 0 1 -252.34 -2.20" pathLength="178" stroke="#00aaff" stroke-dasharray="0 1 1.05 0.95 1.05 1.95 1.05 6.95 4.05 5.95 4.05 5.95 1.05 0.95 1.05 0.95 1.05 1.95 2.05 0.95 1.05 0.95 1.05 8.95 1.05 2.95 2.05 1.95 1.05 9.95 2.05 2.95 2.05 2.95 1.05 3.95 1.05 0.95 1.05 2.95 1.05 0.95 1.05 3.95 1.05 0.95 1.05 0.95 1.05 3.95 1.05 0.95 1.05 3.95 2.05 2.95 3.05 4.95 1.05 3.95 1.05 4.95 6.05 9.95 2.05 2.95 1.05 2.95 1.05 1.95 2.05 4.95"/>
<path d="M257.11 11.23A257.35 257.35 0 0 1 -6.74 257.26A257.35 257.35 0 0 1 -257.34 -2.25" pathLength="178" stroke="#00aaff" stroke-dasharray="1.05 2.95 1.05 1.95 1.05 2.95 1.05 1.95 1.05 0.95 1.05 0.95 3.05 0.95 1.05 1.95 3.05 2.95 1.05 10.95 1.05 0.95 1.05 5.95 1.05 7.95 1.05 2.95 2.05 0.95 1.05 4.95 2.05 1.95 1.05 6.95 1.05 0.95 1.05 8.95 1.05 1.95 1.05 0.95 1.05 5.95 1.05 0.95 1.05 6.95 1.05 3.95 2.05 4.95 1.05 1.95 2.05 2.95 1.05 1.95 6.05 4.95 1.05 3.95 3.05 2.95 1.05 1.95 3.05 6.95"/>
<path d="M262.10 11.44A262.35 262.35 0 0 1 -6.87 262.26A262.35 262.35 0 0 1 -262.34 -2.29" pathLength="178" stroke="#00aaff" stroke-dasharray="0 5 2.05 0.95 1.05 6.95 1.05 4.95 1.05 1.95 3.05 14.95 1.05 0.95 2.05 0.95 1.05 10.95 1.05 6.95 1.05 5.95 4.05 3.95 2.05 3.95 2.05 7.95 3.05 0.95 1.05 4.95 2.05 4.95 1.05 1.95 1.05 8.95 1.05 3.95 1.05 0.95 1.05 4.95 8.05 2.95 3.05 2.95 3.05 5.95 1.05 7.95 1.05 0"/>
<path d="M267.10 11.66A267.35 267.35 0 0 1 -7.00 267.26A267.35 267.35 0 0 1 -267.34 -2.33" pathLength="178" stroke="#00aaff" stroke-dasharray="0 7 1.05 1.95 1.05 2.95 1.05 0.95 3.05 1.95 1.05 2.95 4.05 1.95 1.05 0.95 1.05 9.95 1.05 0.95 1.05 0.95 1.05 3.95 1.05 2.95 1.05 1.95 2.05 3.95 1.05 0.95 2.05 3.95 3.05 0.95 1.05 0.95 1.05 1.95 1.05 2.95 1.05 0.95 2.05 1.95 1.05 1.95 1.05 4.95 1.05 4.95 1.05 3.95 2.05 0.95 1.05 2.95 1.05 1.95 1.05 1.95 1.05 5.95 4.05 1.95 1.05 3.95 7.05 0.95 1.05 1.95 1.05 2.95 2.05 0.95 1.05 1.95 1.05 1.95 1.05 1.95 2.05 2.95 1.05 0.95"/>
<path d="M272.09 11.88A272.35 272.35 0 0 1 -7.13 272.26A272.35 272.35 0 0 1 -272.34 -2.38" pathLength="178" stroke="#00aaff" stroke-dasharray="0 2 1.05 12.95 1.05 3.95 2.05 1.95 3.05 7.95 1.05 2.95 1.05 3.95 1.05 1.95 2.05 6.95 1.05 2.95 1.05 1.95 1.05 14.95 1.05 1.95 1.05 2.95 1.05 3.95 1.05 0.95 1.05 0.95 2.05 7.95 1.05 0.95 1.05 2.95 1.05 5.95 1.05 2.95 1.05 1.95 1.05 3.95 2.05 0.95 1.05 0.95 2.05 0.95 1.05 1.95 1.05 0.95 6.05 0.95 3.05 0.95 1.05 1.95 3.05 0.95 2.05 3.95 1.05 2.95 1.05 4.95"/>
<path d="M277.09 12.10A277.35 277.35 0 0 1 -7.26 277.25A277.35 277.35 0 0 1 -277.34 -2.42" pathLength="178" stroke="#00aaff" stroke-dasharray="0 1 2.05 2.95 1.05 6.95 3.05 3.95 2.05 1.95 2.05 4.95 1.05 0.95 1.05 0.95 1.05 1.95 2.05 6.95 1.05 1.95 1.05 1.95 1.05 1.95 1.05 1.95 1.05 2.95 1.05 1.95 1.05 2.95 1.05 0.95 1.05 0.95 2.05 4.95 1.05 1.95 1.05 5.95 1.05 3.95 1.05 0.95 4.05 8.95 1.05 0.95 2.05 11.95 1.05 1.95 1.05 1.95 3.05 2.95 10.05 0.95 3.05 0.95 1.05 0.95 4.05 1.95 1.05 3.95 2.05 0.95 1.05 5.95"/>
<path d="M282.08 12.32A282.35 282.35 0 0 1 -7.39 282.25A282.35 282.35 0 0 1 -282.34 -2.46" pathLength="178" stroke="#00aaff" stroke-dasharray="0 4 2.05 1.95 2.05 2.95 1.05 1.95 1.05 2.95 3.05 1.95 2.05 5.95 1.05 3.95 3.05 1.95 1.05 3.95 1.05 3.95 1.05 3.95 1.05 1.95 1.05 12.95 1.05 1.95 1.05 2.95 1.05 10.95 3.05 3.95 2.05 1.95 1.05 8.95 1.05 2.95 1.05 0.95 1.05 2.95 1.05 7.95 1.05 0.95 1.05 4.95 8.05 0.95 3.05 1.95 1.05 1.95 2.05 1.95 2.05 2.95 2.05 0.95 2.05 4.95"/>
<path d="M287.08 12.53A287.35 287.35 0 0 1 -7.52 287.25A287.35 287.35 0 0 1 -287.34 -2.51" pathLength="178" stroke="#00aaff" stroke-dasharray="0 9 1.05 4.95 2.05 1.95 1.05 0.95 1.05 0.95 1.05 0.95 2.05 0.95 1.05 0.95 1.05 0.95 1.05 5.95 2.05 8.95 1.05 2.95 1.05 1.95 2.05 11.95 1.05 5.95 1.05 2.95 2.05 7.95 1.05 9.95 1.05 5.95 1.05 0.95 1.05 0.95 1.05 2.95 1.05 3.95 1.05 6.95 1.05 11.95 9.05 0.95 1.05 2.95 1.05 0.95 2.05 0.95 2.05 1.95 3.05 3.95 2.05 1.95"/>
<path d="M292.07 12.75A292.35 292.35 0 0 1 -7.65 292.25A292.35 292.35 0 0 1 -292.34 -2.55" pathLength="178" stroke="#00aaff" stroke-dasharray="0 2 1.05 1.95 1.05 1.95 2.05 0.95 1.05 1.95 3.05 2.95 7.05 7.95 2.05 8.95 1.05 1.95 2.05 1.95 2.05 5.95 1.05 0.95 1.05 5.95 1.05 6.95 1.05 2.95 1.05 1.95 2.05 7.95 1.05 5.95 2.05 5.95 1.05 0.95 1.05 0.95 1.05 3.95 1.05 0.95 1.05 2.95 4.05 2.95 1.05 0.95 3.05 0.95 1.05 0.95 1.05 0.95 1.05 1.95 8.05 0.95 1.05 0.95 2.05 1.95 3.05 0.95 3.05 0.95 3.05 3.95 1.05 1.95"/>
<path d="M297.07 12.97A297.35 297.35 0 0 1 -7.78 297.25A297.35 297.35 0 0 1 -297.34 -2.59" pathLength="178" stroke="#00aaff" stroke-dasharray="0 5 1.05 0.95 1.05 3.95 5.05 5.95 4.05 0.95 1.05 1.95 1.05 7.95 1.05 2.95 1.05 0.95 1.05 3.95 1.05 3.95 1.05 1.95 1.05 3.95 1.05 1.95 1.05 0.95 1.05 5.95 2.05 7.95 1.05 10.95 1.05 0.95 1.05 0.95 1.05 3.95 5.05 4.95 4.05 0.95 1.05 2.95 1.05 4.95 1.05 1.95 1.05 1.95 1.05 0.95 1.05 0.95 1.05 0.95 7.05 2.95 1.05 4.95 2.05 3.95 5.05 1.95 2.05 1.95 1.05 0"/>
<path d="M302.06 13.19A302.35 302.35 0 0 1 -7.91 302.25A302.35 302.35 0 0 1 -302.34 -2.64" pathLength="178" stroke="#00aaff" stroke-dasharray="0 1 1.05 1.95 6.05 0.95 1.05 2.95 3.05 2.95 1.05 1.95 3.05 4.95 1.05 4.95 1.05 0.95 1.05 1.95 1.05 6.95 1.05 0.95 1.05 0.95 2.05 11.95 1.05 6.95 2.05 2.95 1.05 3.95 5.05 6.95 2.05 3.95 1.05 1.95 5.05 0.95 2.05 0.95 3.05 0.95 1.05 1.95 3.05 0.95 1.05 2.95 1.05 0.95 1.05 4.95 2.05 1.95 7.05 1.95 1.05 3.95 4.05 2.95 1.05 0.95 4.05 0.95 1.05 1.95 1.05 0.95 1.05 0"/>
<path d="M307.06 13.41A307.35 307.35 0 0 1 -8.05 307.24A307.35 307.35 0 0 1 -307.34 -2.68" pathLength="178" stroke="#00aaff" stroke-dasharray="0 9 1.05 4.95 1.05 1.95 1.05 2.95 1.05 0.95 3.05 3.95 4.05 4.95 1.05 9.95 1.05 1.95 1.05 0.95 1.05 1.95 1.05 1.95 2.05 2.95 2.05 5.95 2.05 7.95 2.05 1.95 1.05 0.95 1.05 6.95 1.05 2.95 1.05 0.95 2.05 0.95 3.05 5.95 1.05 0.95 1.05 4.95 2.05 4.95 2.05 5.95 1.05 3.95 6.05 0.95 1.05 0.95 1.05 4.95 2.05 0.95 1.05 1.95 1.05 0.95 2.05 1.95 1.05 4.95"/>
<path d="M312.05 13.62A312.35 312.35 0 0 1 -8.18 312.24A312.35 312.35 0 0 1 -312.34 -2.73" pathLength="178" stroke="#00aaff" stroke-dasharray="0 3 2.05 3.95 1.05 1.95 2.05 0.95 2.05 6.95 2.05 1.95 1.05 1.95 3.05 0.95 1.05 1.95 1.05 0.95 1.05 1.95 1.05 0.95 1.05 8.95 2.05 1.95 1.05 2.95 1.05 2.95 1.05 6.95 1.05 2.95 1.05 12.95 4.05 2.95 1.05 6.95 4.05 4.95 1.05 4.95 1.05 0.95 2.05 0.95 1.05 0.95 3.05 3.95 2.05 0.95 1.05 3.95 6.05 2.95 1.05 4.95 3.05 0.95 2.05 0.95 1.05 0.95 1.05 0.95 1.05 1.95 4.05 0"/>
<path d="M317.05 13.84A317.35 317.35 0 0 1 -8.31 317.24A317.35 317.35 0 0 1 -317.34 -2.77" pathLength="178" stroke="#00aaff" stroke-dasharray="0 3 1.05 3.95 2.05 1.95 2.05 0.95 2.05 5.95 3.05 2.95 6.05 4.95 1.05 0.95 2.05 0.95 1.05 4.95 1.05 3.95 1.05 3.95 1.05 0.95 1.05 0.95 1.05 12.95 1.05 2.95 1.05 7.95 1.05 0.95 2.05 1.95 1.05 0.95 1.05 0.95 1.05 1.95 1.05 0.95 1.05 0.95 1.05 0.95 1.05 0.95 1.05 2.95 1.05 7.95 1.05 0.95 1.05 0.95 4.05 0.95 1.05 2.95 3.05 2.95 9.05 0.95 3.05 1.95 3.05 0.95 2.05 2.95 5.05 0.95 2.05 0.95"/>
<path d="M322.04 14.06A322.35 322.35 0 0 1 -8.44 322.24A322.35 322.35 0 0 1 -322.34 -2.81" pathLength="178" stroke="#00aaff" stroke-dasharray="0 1 1.05 0.95 1.05 10.95 3.05 0.95 3.05 0.95 4.05 1.95 9.05 4.95 1.05 2.95 1.05 4.95 1.05 2.95 1.05 2.95 1.05 3.95 2.05 0.95 1.05 2.95 1.05 2.95 2.05 4.95 1.05 1.95 1.05 4.95 4.05 0.95 2.05 4.95 1.05 0.95 1.05 7.95 2.05 1.95 1.05 1.95 1.05 4.95 3.05 0.95 1.05 6.95 1.05 1.95 8.05 2.95 2.05 2.95 3.05 0.95 1.05 3.95 2.05 1.95 1.05 0.95 2.05 0.95"/>
<path d="M327.04 14.28A327.35 327.35 0 0 1 -8.57 327.24A327.35 327.35 0 0 1 -327.34 -2.86" pathLength="178" stroke="#00aaff" stroke-dasharray="0 2 2.05 7.95 1.05 1.95 3.05 0.95 2.05 1.95 3.05 2.95 5.05 2.95 2.05 4.95 1.05 2.95 2.05 1.95 2.05 0.95 1.05 6.95 1.05 1.95 2.05 0.95 2.05 0.95 2.05 4.95 1.05 2.95 1.05 6.95 1.05 0.95 2.05 4.95 1.05 0.95 1.05 1.95 1.05 0.95 1.05 1.95 1.05 1.95 2.05 0.95 2.05 1.95 2.05 0.95 1.05 5.95 1.05 0.95 1.05 0.95 1.05 0.95 1.05 3.95 2.05 0.95 9.05 0.95 1.05 0.95 1.05 0.95 1.05 0.95 3.05 1.95 1.05 2.95 1.05 2.95 3.05 1.95"/>
<path d="M332.03 14.50A332.35 332.35 0 0 1 -8.70 332.24A332.35 332.35 0 0 1 -332.34 -2.90" pathLength="178" stroke="#00aaff" stroke-dasharray="0 1 1.05 1.95 1.05 0.95 2.05 0.95 1.05 2.95 4.05 0.95 1.05 0.95 1.05 1.95 3.05 2.95 4.05 0.95 1.05 0.95 2.05 3.95 5.05 2.95 1.05 0.95 1.05 1.95 2.05 0.95 1.05 0.95 2.05 2.95 3.05 4.95 6.05 0.95 1.05 4.95 1.05 0.95 3.05 0.95 2.05 5.95 1.05 0.95 2.05 1.95 1.05 2.95 2.05 1.95 3.05 0.95 1.05 0.95 2.05 2.95 1.05 0.95 2.05 0.95 3.05 2.95 1.05 0.95 1.05 4.95 1.05 0.95 8.05 5.95 3.05 1.95 2.05 1.95 1.05 2.95 2.05 0.95 2.05 0"/>
<path d="M337.03 14.72A337.35 337.35 0 0 1 -8.83 337.23A337.35 337.35 0 0 1 -337.34 -2.94" pathLength="178" stroke="#00aaff" stroke-dasharray="0 2 2.05 1.95 2.05 0.95 1.05 2.95 3.05 3.95 1.05 0.95 4.05 2.95 1.05 3.95 1.05 4.95 1.05 3.95 1.05 1.95 1.05 2.95 1.05 0.95 3.05 2.95 1.05 4.95 1.05 1.95 1.05 0.95 1.05 3.95 1.05 0.95 1.05 0.95 1.05 1.95 1.05 3.95 2.05 2.95 1.05 0.95 3.05 0.95 1.05 0.95 1.05 0.95 1.05 1.95 3.05 0.95 1.05 0.95 1.05 2.95 1.05 2.95 1.05 3.95 1.05 2.95 7.05 0.95 1.05 1.95 1.05 0.95 15.05 1.95 4.05 1.95 1.05 0.95 3.05 1.95 2.05 1.95 2.05 0"/>
<path d="M342.02 14.93A342.35 342.35 0 0 1 -8.96 342.23A342.35 342.35 0 0 1 -342.34 -2.99" pathLength="178" stroke="#00aaff" stroke-dasharray="0 7 4.05 2.95 2.05 6.95 3.05 2.95 2.05 0.95 1.05 0.95 1.05 0.95 1.05 2.95 1.05 3.95 2.05 0.95 2.05 1.95 2.05 0.95 1.05 0.95 1.05 2.95 1.05 0.95 2.05 1.95 2.05 1.95 1.05 3.95 1.05 2.95 4.05 4.95 1.05 1.95 2.05 0.95 4.05 3.95 1.05 2.95 1.05 0.95 1.05 0.95 1.05 0.95 1.05 1.95 1.05 0.95 1.05 0.95 1.05 2.95 1.05 3.95 3.05 0.95 1.05 2.95 2.05 0.95 1.05 2.95 1.05 0.95 7.05 4.95 4.05 2.95 3.05 0.95 1.05 1.95 2.05 3.95"/>
<path d="M347.02 15.15A347.35 347.35 0 0 1 -9.09 347.23A347.35 347.35 0 0 1 -347.34 -3.03" pathLength="178" stroke="#00aaff" stroke-dasharray="0 1 2.05 1.95 1.05 0.95 1.05 0.95 1.05 0.95 5.05 1.95 1.05 3.95 2.05 2.95 3.05 3.95 1.05 3.95 2.05 0.95 1.05 1.95 1.05 0.95 1.05 2.95 1.05 5.95 1.05 2.95 2.05 1.95 1.05 0.95 1.05 1.95 1.05 2.95 4.05 1.95 2.05 3.95 1.05 0.95 1.05 1.95 1.05 0.95 3.05 0.95 1.05 3.95 1.05 1.95 4.05 0.95 2.05 3.95 1.05 3.95 1.05 2.95 1.05 0.95 3.05 0.95 1.05 3.95 2.05 3.95 1.05 0.95 8.05 0.95 1.05 2.95 3.05 1.95 3.05 1.95 2.05 0.95 2.05 3.95"/>
<path d="M352.01 15.37A352.35 352.35 0 0 1 -9.22 352.23A352.35 352.35 0 0 1 -352.34 -3.07" pathLength="178" stroke="#00aaff" stroke-dasharray="0 3 1.05 0.95 3.05 4.95 4.05 5.95 3.05 0.95 1.05 1.95 1.05 2.95 2.05 8.95 1.05 0.95 1.05 4.95 2.05 0.95 1.05 1.95 1.05 4.95 1.05 5.95 2.05 2.95 1.05 0.95 2.05 1.95 1.05 3.95 3.05 2.95 1.05 0.95 1.05 3.95 2.05 0.95 4.05 0.95 2.05 5.95 1.05 0.95 1.05 1.95 2.05 0.95 3.05 2.95 3.05 0.95 1.05 2.95 1.05 0.95 1.05 3.95 6.05 0.95 5.05 1.95 7.05 0.95 3.05 1.95 1.05 2.95 1.05 0"/>
<path d="M357.01 15.59A357.35 357.35 0 0 1 -9.35 357.23A357.35 357.35 0 0 1 -357.34 -3.12" pathLength="178" stroke="#00aaff" stroke-dasharray="0 2 3.05 4.95 1.05 0.95 1.05 0.95 3.05 1.95 1.05 0.95 8.05 1.95 2.05 0.95 3.05 1.95 2.05 5.95 3.05 1.95 1.05 1.95 1.05 7.95 1.05 6.95 1.05 1.95 1.05 1.95 2.05 0.95 1.05 0.95 1.05 2.95 2.05 2.95 1.05 1.95 1.05 2.95 1.05 1.95 1.05 0.95 2.05 6.95 2.05 2.95 3.05 0.95 1.05 2.95 2.05 0.95 1.05 2.95 5.05 0.95 1.05 3.95 1.05 0.95 6.05 2.95 5.05 0.95 14.05 0.95 2.05 0"/>
<path d="M362.01 15.81A362.35 362.35 0 0 1 -9.49 362.23A362.35 362.35 0 0 1 -362.34 -3.16" pathLength="178" stroke="#00aaff" stroke-dasharray="0 2 1.05 3.95 1.05 0.95 2.05 0.95 1.05 0.95 2.05 3.95 1.05 0.95 4.05 0.95 1.05 2.95 2.05 2.95 1.05 0.95 4.05 1.95 1.05 4.95 3.05 2.95 1.05 5.95 2.05 4.95 2.05 4.95 2.05 1.95 3.05 0.95 3.05 1.95 1.05 4.95 1.05 2.95 2.05 1.95 3.05 0.95 1.05 4.95 1.05 2.95 2.05 1.95 1.05 2.95 2.05 3.95 7.05 0.95 1.05 1.95 3.05 0.95 5.05 0.95 1.05 1.95 3.05 1.95 1.05 2.95 1.05 0.95 2.05 1.95 3.05 0.95 1.05 0.95 1.05 0"/>
<path d="M367.00 16.02A367.35 367.35 0 0 1 -9.62 367.22A367.35 367.35 0 0 1 -367.34 -3.21" pathLength="178" stroke="#00aaff" stroke-dasharray="0 5 1.05 2.95 1.05 1.95 1.05 1.95 1.05 3.95 1.05 0.95 4.05 0.95 1.05 2.95 1.05 0.95 1.05 1.95 1.05 0.95 3.05 0.95 1.05 0.95 1.05 2.95 2.05 0.95 1.05 6.95 1.05 2.95 1.05 2.95 1.05 2.95 1.05 5.95 2.05 0.95 3.05 0.95 1.05 2.95 6.05 0.95 2.05 1.95 2.05 0.95 2.05 0.95 2.05 0.95 1.05 2.95 1.05 0.95 1.05 5.95 2.05 0.95 3.05 1.95 1.05 0.95 3.05 2.95 1.05 3.95 1.05 3.95 5.05 2.95 2.05 1.95 2.05 0.95 1.05 3.95 2.05 0.95 3.05 0.95 2.05 0.95"/>
<path d="M372.00 16.24A372.35 372.35 0 0 1 -9.75 372.22A372.35 372.35 0 0 1 -372.34 -3.25" pathLength="178" stroke="#00aaff" stroke-dasharray="0 2 1.05 0.95 5.05 0.95 1.05 0.95 2.05 0.95 1.05 1.95 2.05 1.95 7.05 0.95 2.05 1.95 1.05 1.95 4.05 0.95 1.05 7.95 1.05 4.95 3.05 1.95 1.05 11.95 1.05 2.95 1.05 0.95 1.05 0.95 4.05 4.95 1.05 0.95 1.05 0.95 2.05 1.95 3.05 0.95 6.05 1.95 7.05 0.95 1.05 0.95 5.05 0.95 1.05 0.95 3.05 0.95 1.05 0.95 5.05 1.95 1.05 0.95 1.05 0.95 1.05 0.95 3.05 1.95 3.05 1.95 3.05 2.95 1.05 2.95 1.05 1.95 3.05 2.95"/>
<path d="M376.99 16.46A377.35 377.35 0 0 1 -9.88 377.22A377.35 377.35 0 0 1 -377.34 -3.29" pathLength="178" stroke="#00aaff" stroke-dasharray="0 2 1.05 0.95 1.05 4.95 3.05 1.95 1.05 1.95 1.05 2.95 2.05 3.95 1.05 0.95 1.05 2.95 1.05 0.95 1.05 0.95 1.05 0.95 1.05 0.95 1.05 7.95 1.05 2.95 1.05 1.95 6.05 1.95 1.05 3.95 1.05 1.95 3.05 0.95 1.05 0.95 1.05 1.95 6.05 2.95 1.05 0.95 1.05 0.95 3.05 0.95 1.05 0.95 3.05 1.95 1.05 0.95 2.05 0.95 2.05 0.95 3.05 1.95 1.05 0.95 4.05 0.95 5.05 3.95 1.05 2.95 2.05 2.95 1.05 0.95 4.05 3.95 3.05 0.95 3.05 3.95 1.05 0.95 1.05 1.95 7.05 0"/>
<path d="M381.99 16.68A382.35 382.35 0 0 1 -10.01 382.22A382.35 382.35 0 0 1 -382.34 -3.34" pathLength="178" stroke="#00aaff" stroke-dasharray="1.05 1.95 2.05 4.95 1.05 3.95 5.05 1.95 4.05 0.95 2.05 0.95 3.05 1.95 1.05 0.95 2.05 0.95 2.05 2.95 1.05 3.95 1.05 5.95 6.05 0.95 2.05 8.95 5.05 2.95 1.05 0.95 3.05 2.95 1.05 1.95 1.05 0.95 1.05 0.95 3.05 0.95 6.05 1.95 1.05 4.95 1.05 1.95 1.05 1.95 1.05 0.95 1.05 2.95 4.05 0.95 2.05 0.95 3.05 1.95 1.05 3.95 1.05 0.95 6.05 0.95 1.05 2.95 1.05 0.95 4.05 0.95 1.05 0.95 2.05 0.95 1.05 0.95 2.05 2.95"/>
<path d="M386.98 16.90A387.35 387.35 0 0 1 -10.14 387.22A387.35 387.35 0 0 1 -387.34 -3.38" pathLength="178" stroke="#00aaff" stroke-dasharray="1.05 1.95 1.05 4.95 1.05 3.95 2.05 0.95 1.05 0.95 2.05 0.95 2.05 1.95 1.05 0.95 4.05 0.95 1.05 0.95 2.05 0.95 1.05 0.95 3.05 1.95 2.05 1.95 1.05 0.95 7.05 3.95 1.05 0.95 1.05 8.95 3.05 0.95 2.05 4.95 1.05 4.95 1.05 0.95 2.05 0.95 1.05 0.95 1.05 0.95 1.05 1.95 3.05 0.95 1.05 1.95 1.05 8.95 1.05 4.95 3.05 0.95 1.05 0.95 2.05 1.95 1.05 0.95 1.05 0.95 3.05 2.95 1.05 0.95 5.05 1.95 1.05 4.95 7.05 1.95 2.05 0.95 2.05 0.95 1.05 0.95"/>
<path d="M391.98 17.11A392.35 392.35 0 0 1 -10.27 392.22A392.35 392.35 0 0 1 -392.34 -3.42" pathLength="178" stroke="#00aaff" stroke-dasharray="0 1 1.05 4.95 6.05 1.95 3.05 2.95 3.05 0.95 2.05 0.95 6.05 0.95 1.05 1.95 1.05 2.95 1.05 0.95 1.05 2.95 3.05 0.95 1.05 2.95 1.05 2.95 1.05 0.95 2.05 0.95 1.05 2.95 1.05 1.95 1.05 0.95 1.05 0.95 1.05 1.95 1.05 3.95 3.05 0.95 2.05 0.95 1.05 1.95 1.05 1.95 1.05 0.95 1.05 3.95 1.05 0.95 5.05 0.95 2.05 4.95 1.05 3.95 5.05 0.95 1.05 0.95 1.05 0.95 3.05 0.95 1.05 5.95 7.05 1.95 1.05 0.95 1.05 1.95 8.05 1.95 3.05 0.95 2.05 0.95 2.05 0"/>
<path d="M396.97 17.33A397.35 397.35 0 0 1 -10.40 397.21A397.35 397.35 0 0 1 -397.33 -3.47" pathLength="178" stroke="#00aaff" stroke-dasharray="0 5 1.05 0.95 3.05 1.95 1.05 0.95 4.05 1.95 4.05 1.95 1.05 0.95 2.05 0.95 1.05 0.95 1.05 3.95 3.05 0.95 2.05 0.95 6.05 0.95 2.05 2.95 4.05 0.95 1.05 0.95 2.05 0.95 4.05 0.95 1.05 0.95 1.05 3.95 1.05 0.95 1.05 1.95 1.05 0.95 1.05 1.95 6.05 0.95 1.05 0.95 6.05 1.95 2.05 0.95 5.05 2.95 1.05 0.95 4.05 0.95 3.05 3.95 2.05 1.95 1.05 0.95 1.05 0.95 2.05 0.95 3.05 1.95 8.05 1.95 1.05 1.95 6.05 1.95 1.05 0.95 4.05 0.95 3.05 0"/>
<path d="M401.97 17.55A402.35 402.35 0 0 1 -10.53 402.21A402.35 402.35 0 0 1 -402.33 -3.51" pathLength="178" stroke="#00aaff" stroke-dasharray="0 2 1.05 0.95 9.05 0.95 2.05 1.95 2.05 0.95 5.05 2.95 1.05 0.95 4.05 3.95 1.05 2.95 2.05 3.95 2.05 2.95 2.05 0.95 1.05 0.95 1.05 3.95 2.05 1.95 2.05 0.95 2.05 5.95 1.05 0.95 1.05 0.95 3.05 0.95 1.05 0.95 1.05 0.95 1.05 0.95 4.05 1.95 3.05 2.95 1.05 0.95 3.05 1.95 1.05 1.95 1.05 0.95 5.05 1.95 4.05 0.95 1.05 4.95 4.05 1.95 2.05 0.95 1.05 0.95 1.05 1.95 3.05 0.95 2.05 0.95 4.05 0.95 5.05 0.95 5.05 1.95 2.05 1.95"/>
<path d="M406.96 17.77A407.35 407.35 0 0 1 -10.66 407.21A407.35 407.35 0 0 1 -407.33 -3.55" pathLength="178" stroke="#00aaff" stroke-dasharray="1.05 0.95 5.05 3.95 1.05 1.95 2.05 4.95 5.05 1.95 2.05 0.95 1.05 0.95 2.05 1.95 2.05 3.95 3.05 0.95 1.05 1.95 1.05 1.95 1.05 2.95 1.05 5.95 1.05 10.95 2.05 2.95 1.05 0.95 4.05 1.95 5.05 0.95 1.05 3.95 5.05 1.95 5.05 3.95 2.05 0.95 3.05 1.95 4.05 0.95 2.05 2.95 1.05 0.95 1.05 0.95 1.05 1.95 3.05 1.95 2.05 0.95 5.05 2.95 1.05 0.95 1.05 0.95 4.05 0.95 2.05 0.95 3.05 0.95 4.05 0.95"/>
<path d="M411.96 17.99A412.35 412.35 0 0 1 -10.79 412.21A412.35 412.35 0 0 1 -412.33 -3.60" pathLength="178" stroke="#00aaff" stroke-dasharray="1.05 0.95 4.05 0.95 1.05 4.95 2.05 2.95 2.05 0.95 5.05 5.95 1.05 3.95 1.05 0.95 1.05 5.95 1.05 0.95 1.05 0.95 1.05 0.95 2.05 0.95 1.05 0.95 1.05 0.95 2.05 2.95 1.05 4.95 1.05 0.95 6.05 0.95 1.05 1.95 5.05 1.95 2.05 0.95 1.05 0.95 1.05 0.95 2.05 1.95 1.05 2.95 1.05 1.95 2.05 0.95 2.05 1.95 1.05 1.95 6.05 0.95 4.05 1.95 1.05 2.95 2.05 5.95 2.05 1.95 2.05 0.95 3.05 0.95 1.05 1.95 1.05 0.95 1.05 1.95 3.05 2.95 3.05 0.95 4.05 2.95"/>
<path d="M416.95 18.20A417.35 417.35 0 0 1 -10.92 417.21A417.35 417.35 0 0 1 -417.33 -3.64" pathLength="178" stroke="#00aaff" stroke-dasharray="3.05 1.95 1.05 0.95 2.05 0.95 1.05 0.95 1.05 0.95 1.05 1.95 1.05 1.95 5.05 1.95 1.05 1.95 7.05 1.95 1.05 5.95 2.05 5.95 1.05 0.95 4.05 0.95 2.05 0.95 1.05 0.95 1.05 0.95 1.05 4.95 4.05 0.95 1.05 0.95 5.05 2.95 2.05 2.95 3.05 3.95 1.05 0.95 3.05 0.95 3.05 0.95 1.05 1.95 5.05 0.95 2.05 2.95 2.05 1.95 4.05 2.95 1.05 0.95 1.05 1.95 5.05 0.95 1.05 1.95 3.05 0.95 3.05 0.95 2.05 0.95 4.05 3.95 7.05 0.95 1.05 0"/>
<path d="M421.95 18.42A422.35 422.35 0 0 1 -11.06 422.21A422.35 422.35 0 0 1 -422.33 -3.69" pathLength="178" stroke="#00aaff" stroke-dasharray="0 1 1.05 0.95 1.05 0.95 2.05 1.95 7.05 0.95 1.05 1.95 4.05 0.95 1.05 3.95 2.05 3.95 3.05 0.95 1.05 0.95 4.05 0.95 2.05 0.95 1.05 0.95 3.05 1.95 2.05 0.95 2.05 0.95 4.05 1.95 2.05 2.95 1.05 0.95 1.05 0.95 2.05 1.95 4.05 0.95 6.05 1.95 3.05 0.95 6.05 0.95 1.05 1.95 1.05 0.95 2.05 0.95 3.05 0.95 3.05 0.95 4.05 0.95 1.05 2.95 1.05 3.95 1.05 3.95 1.05 1.95 1.05 0.95 2.05 1.95 6.05 4.95 6.05 0.95 1.05 1.95 7.05 0"/>
<path d="M426.94 18.64A427.35 427.35 0 0 1 -11.19 427.20A427.35 427.35 0 0 1 -427.33 -3.73" pathLength="178" stroke="#00aaff" stroke-dasharray="0 2 1.05 0.95 2.05 0.95 5.05 1.95 5.05 1.95 3.05 1.95 1.05 2.95 2.05 0.95 6.05 1.95 2.05 0.95 2.05 0.95 1.05 1.95 1.05 0.95 1.05 3.95 2.05 0.95 2.05 2.95 3.05 0.95 1.05 0.95 2.05 3.95 3.05 0.95 4.05 1.95 7.05 0.95 1.05 1.95 4.05 0.95 4.05 0.95 3.05 1.95 1.05 0.95 3.05 1.95 1.05 2.95 1.05 5.95 2.05 0.95 1.05 5.95 2.05 0.95 1.05 1.95 2.05 0.95 3.05 4.95 5.05 0.95 1.05 0.95 1.05 1.95 4.05 0.95 4.05 0"/>
<path d="M431.94 18.86A432.35 432.35 0 0 1 -11.32 432.20A432.35 432.35 0 0 1 -432.33 -3.77" pathLength="178" stroke="#00aaff" stroke-dasharray="0 1 5.05 1.95 3.05 0.95 3.05 0.95 1.05 0.95 2.05 0.95 6.05 2.95 1.05 1.95 3.05 2.95 4.05 0.95 1.05 0.95 2.05 0.95 1.05 0.95 3.05 0.95 1.05 0.95 2.05 0.95 2.05 0.95 9.05 0.95 1.05 1.95 4.05 0.95 3.05 0.95 1.05 1.95 5.05 3.95 1.05 0.95 2.05 0.95 3.05 1.95 3.05 1.95 1.05 4.95 1.05 0.95 1.05 1.95 2.05 5.95 3.05 1.95 1.05 0.95 1.05 0.95 1.05 0.95 1.05 0.95 1.05 0.95 2.05 0.95 1.05 0.95 2.05 1.95 1.05 1.95 1.05 0.95 7.05 0.95 1.05 0.95 6.05 0.95 1.05 0"/>
<path d="M436.93 19.08A437.35 437.35 0 0 1 -11.45 437.20A437.35 437.35 0 0 1 -437.33 -3.82" pathLength="178" stroke="#00aaff" stroke-dasharray="0 1 2.05 4.95 1.05 0.95 1.05 0.95 6.05 0.95 6.05 3.95 3.05 0.95 1.05 5.95 2.05 0.95 7.05 1.95 2.05 1.95 1.05 2.95 1.05 0.95 1.05 0.95 7.05 2.95 1.05 1.95 3.05 0.95 1.05 0.95 1.05 1.95 8.05 0.95 1.05 0.95 12.05 0.95 2.05 0.95 1.05 3.95 3.05 1.95 4.05 0.95 1.05 1.95 1.05 0.95 5.05 0.95 1.05 1.95 1.05 1.95 4.05 0.95 6.05 0.95 2.05 0.95 7.05 1.95 2.05 0.95 4.05 1.95"/>
<path d="M441.93 19.30A442.35 442.35 0 0 1 -11.58 442.20A442.35 442.35 0 0 1 -442.33 -3.86" pathLength="178" stroke="#00aaff" stroke-dasharray="0 1 3.05 1.95 1.05 1.95 8.05 0.95 6.05 5.95 1.05 1.95 1.05 4.95 3.05 0.95 2.05 1.95 3.05 0.95 2.05 1.95 2.05 4.95 1.05 1.95 1.05 0.95 4.05 3.95 1.05 0.95 3.05 0.95 3.05 3.95 5.05 1.95 1.05 0.95 3.05 1.95 2.05 0.95 9.05 1.95 5.05 1.95 2.05 3.95 2.05 0.95 1.05 0.95 7.05 0.95 1.05 3.95 1.05 2.95 4.05 3.95 1.05 0.95 7.05 0.95 1.05 0.95 5.05 0.95 1.05 0"/>
<path d="M446.92 19.51A447.35 447.35 0 0 1 -11.71 447.20A447.35 447.35 0 0 1 -447.33 -3.90" pathLength="178" stroke="#00aaff" stroke-dasharray="0 1 3.05 0.95 2.05 3.95 4.05 2.95 5.05 0.95 2.05 2.95 3.05 0.95 1.05 0.95 1.05 0.95 1.05 0.95 3.05 3.95 1.05 0.95 5.05 0.95 4.05 11.95 1.05 0.95 1.05 4.95 2.05 1.95 2.05 5.95 5.05 1.95 4.05 1.95 7.05 0.95 8.05 0.95 1.05 1.95 2.05 3.95 3.05 0.95 1.05 0.95 6.05 0.95 2.05 0.95 1.05 0.95 2.05 0.95 10.05 0.95 3.05 0.95 3.05 0.95 9.05 0"/>
<path d="M451.92 19.73A452.35 452.35 0 0 1 -11.84 452.19A452.35 452.35 0 0 1 -452.33 -3.95" pathLength="178" stroke="#00aaff" stroke-dasharray="1.05 1.95 1.05 0.95 4.05 0.95 2.05 1.95 9.05 0.95 5.05 0.95 1.05 0.95 1.05 1.95 1.05 0.95 1.05 0.95 2.05 2.95 1.05 0.95 2.05 1.95 3.05 1.95 1.05 4.95 2.05 0.95 1.05 0.95 1.05 4.95 1.05 2.95 1.05 0.95 1.05 3.95 3.05 0.95 2.05 0.95 2.05 0.95 4.05 4.95 1.05 1.95 3.05 0.95 3.05 0.95 6.05 1.95 1.05 1.95 1.05 2.95 1.05 0.95 1.05 1.95 1.05 3.95 5.05 0.95 1.05 0.95 1.05 2.95 3.05 0.95 5.05 0.95 3.05 2.95 4.05 0.95 1.05 0.95 2.05 0.95 2.05 0"/>
<path d="M456.91 19.95A457.35 457.35 0 0 1 -11.97 457.19A457.35 457.35 0 0 1 -457.33 -3.99" pathLength="178" stroke="#00aaff" stroke-dasharray="0 4 4.05 0.95 1.05 0.95 1.05 0.95 2.05 0.95 2.05 0.95 6.05 1.95 1.05 1.95 4.05 0.95 2.05 3.95 4.05 0.95 2.05 1.95 3.05 1.95 3.05 1.95 5.05 2.95 1.05 4.95 1.05 2.95 1.05 0.95 1.05 0.95 1.05 0.95 2.05 0.95 1.05 0.95 1.05 0.95 2.05 0.95 1.05 1.95 1.05 2.95 4.05 0.95 6.05 0.95 3.05 0.95 8.05 2.95 3.05 3.95 2.05 0.95 4.05 0.95 1.05 0.95 1.05 1.95 1.05 1.95 3.05 0.95 9.05 0.95 2.05 0.95 1.05 0.95 8.05 0"/>
<path d="M461.91 20.17A462.35 462.35 0 0 1 -12.10 462.19A462.35 462.35 0 0 1 -462.33 -4.03" pathLength="178" stroke="#00aaff" stroke-dasharray="1.05 2.95 8.05 0.95 1.05 0.95 4.05 0.95 6.05 0.95 2.05 1.95 2.05 0.95 3.05 0.95 1.05 0.95 1.05 3.95 3.05 2.95 2.05 1.95 1.05 1.95 4.05 0.95 1.05 3.95 4.05 2.95 1.05 1.95 2.05 0.95 1.05 1.95 1.05 0.95 2.05 0.95 1.05 0.95 2.05 0.95 2.05 0.95 1.05 0.95 1.05 0.95 2.05 0.95 2.05 0.95 1.05 1.95 6.05 1.95 2.05 2.95 2.05 0.95 3.05 0.95 1.05 0.95 3.05 0.95 5.05 0.95 4.05 1.95 1.05 1.95 4.05 0.95 8.05 0.95 12.05 0.95"/>
<path d="M466.91 20.39A467.35 467.35 0 0 1 -12.23 467.19A467.35 467.35 0 0 1 -467.33 -4.08" pathLength="178" stroke="#00aaff" stroke-dasharray="2.05 1.95 8.05 2.95 2.05 1.95 6.05 0.95 1.05 0.95 1.05 0.95 2.05 1.95 2.05 1.95 3.05 0.95 1.05 2.95 1.05 3.95 3.05 0.95 1.05 0.95 2.05 4.95 1.05 1.95 6.05 0.95 3.05 1.95 1.05 0.95 5.05 0.95 6.05 0.95 1.05 0.95 8.05 1.95 2.05 0.95 5.05 0.95 3.05 0.95 3.05 0.95 2.05 1.95 1.05 0.95 1.05 0.95 2.05 0.95 2.05 2.95 2.05 1.95 2.05 1.95 7.05 0.95 3.05 0.95 9.05 0.95 9.05 0"/>
<path d="M471.90 20.60A472.35 472.35 0 0 1 -12.36 472.19A472.35 472.35 0 0 1 -472.33 -4.12" pathLength="178" stroke="#00aaff" stroke-dasharray="0 1 1.05 2.95 6.05 0.95 2.05 0.95 1.05 1.95 7.05 4.95 1.05 0.95 3.05 0.95 1.05 0.95 3.05 4.95 3.05 0.95 6.05 1.95 2.05 4.95 8.05 1.95 3.05 0.95 1.05 0.95 1.05 0.95 1.05 2.95 3.05 1.95 1.05 2.95 4.05 0.95 4.05 0.95 2.05 1.95 5.05 0.95 1.05 3.95 7.05 2.95 1.05 0.95 2.05 0.95 1.05 1.95 6.05 1.95 2.05 0.95 3.05 1.95 2.05 0.95 1.05 0.95 6.05 0.95 1.05 1.95 3.05 0.95 1.05 0.95 1.05 0.95"/>
<path d="M476.90 20.82A477.35 477.35 0 0 1 -12.50 477.19A477.35 477.35 0 0 1 -477.33 -4.17" pathLength="178" stroke="#00aaff" stroke-dasharray="0 1 3.05 0.95 2.05 0.95 3.05 1.95 1.05 0.95 1.05 1.95 4.05 1.95 1.05 0.95 2.05 0.95 3.05 0.95 5.05 0.95 3.05 1.95 6.05 0.95 2.05 11.95 2.05 1.95 1.05 5.95 1.05 2.95 2.05 5.95 2.05 0.95 2.05 1.95 2.05 0.95 6.05 1.95 1.05 1.95 1.05 1.95 4.05 0.95 1.05 0.95 3.05 0.95 1.05 1.95 10.05 0.95 1.05 0.95 1.05 2.95 1.05 0.95 2.05 2.95 3.05 1.95 3.05 2.95 4.05 0.95 3.05 0.95 3.05 0.95 3.05 0.95"/>
<path d="M481.89 21.04A482.35 482.35 0 0 1 -12.63 482.18A482.35 482.35 0 0 1 -482.33 -4.21" pathLength="178" stroke="#00aaff" stroke-dasharray="5.05 0.95 2.05 0.95 5.05 0.95 2.05 1.95 6.05 2.95 1.05 1.95 2.05 2.95 2.05 1.95 1.05 2.95 1.05 0.95 1.05 0.95 2.05 0.95 2.05 1.95 1.05 1.95 2.05 1.95 2.05 1.95 4.05 2.95 2.05 0.95 6.05 0.95 1.05 3.95 1.05 0.95 4.05 0.95 5.05 1.95 4.05 1.95 2.05 1.95 3.05 3.95 1.05 0.95 1.05 0.95 1.05 1.95 3.05 0.95 1.05 0.95 1.05 0.95 2.05 1.95 2.05 0.95 1.05 0.95 1.05 0.95 3.05 0.95 9.05 0.95 6.05 0.95 5.05 0.95 3.05 0.95 2.05 0"/>
<path d="M486.89 21.26A487.35 487.35 0 0 1 -12.76 487.18A487.35 487.35 0 0 1 -487.33 -4.25" pathLength="178" stroke="#00aaff" stroke-dasharray="4.05 0.95 3.05 1.95 2.05 1.95 3.05 0.95 4.05 1.95 1.05 0.95 2.05 1.95 1.05 0.95 1.05 0.95 1.05 0.95 4.05 1.95 2.05 3.95 2.05 1.95 1.05 1.95 6.05 0.95 1.05 1.95 4.05 0.95 1.05 1.95 22.05 0.95 7.05 1.95 1.05 1.95 1.05 0.95 1.05 2.95 3.05 2.95 1.05 0.95 2.05 3.95 1.05 0.95 3.05 0.95 2.05 0.95 2.05 2.95 1.05 0.95 4.05 0.95 6.05 0.95 1.05 2.95 3.05 0.95 6.05 0.95 7.05 0"/>
<path d="M491.88 21.48A492.35 492.35 0 0 1 -12.89 492.18A492.35 492.35 0 0 1 -492.33 -4.30" pathLength="178" stroke="#00aaff" stroke-dasharray="0 1 6.05 1.95 1.05 0.95 6.05 0.95 4.05 3.95 5.05 0.95 1.05 0.95 1.05 1.95 2.05 0.95 1.05 1.95 2.05 1.95 1.05 3.95 1.05 2.95 12.05 0.95 2.05 0.95 28.05 0.95 3.05 0.95 1.05 7.95 4.05 2.95 4.05 0.95 5.05 0.95 4.05 0.95 1.05 0.95 1.05 0.95 6.05 0.95 12.05 0.95 2.05 0.95 1.05 0.95 9.05 0.95 2.05 0"/>
<path d="M496.88 21.69A497.35 497.35 0 0 1 -13.02 497.18A497.35 497.35 0 0 1 -497.33 -4.34" pathLength="178" stroke="#00aaff" stroke-dasharray="0 1 3.05 0.95 1.05 0.95 1.05 2.95 1.05 0.95 10.05 0.95 1.05 0.95 2.05 0.95 2.05 0.95 3.05 1.95 3.05 0.95 5.05 0.95 1.05 1.95 1.05 0.95 1.05 0.95 1.05 0.95 7.05 0.95 1.05 2.95 3.05 0.95 32.05 3.95 1.05 2.95 2.05 0.95 5.05 0.95 8.05 0.95 3.05 1.95 2.05 0.95 2.05 1.95 4.05 1.95 2.05 0.95 6.05 1.95 1.05 0.95 10.05 0.95 5.05 0.95"/>
<path d="M501.87 21.91A502.35 502.35 0 0 1 -13.15 502.18A502.35 502.35 0 0 1 -502.33 -4.38" pathLength="178" stroke="#00aaff" stroke-dasharray="2.05 1.95 4.05 0.95 2.05 1.95 2.05 1.95 4.05 0.95 1.05 0.95 1.05 0.95 1.05 0.95 1.05 4.95 1.05 0.95 1.05 1.95 1.05 2.95 4.05 0.95 3.05 0.95 1.05 2.95 7.05 3.95 38.05 2.95 2.05 0.95 1.05 0.95 1.05 0.95 8.05 0.95 1.05 0.95 5.05 0.95 1.05 0.95 3.05 0.95 2.05 0.95 1.05 0.95 1.05 1.95 1.05 0.95 2.05 0.95 5.05 2.95 4.05 3.95 4.05 1.95 2.05 0.95 1.05 0.95"/>
<path d="M506.87 22.13A507.35 507.35 0 0 1 -13.28 507.18A507.35 507.35 0 0 1 -507.33 -4.43" pathLength="178" stroke="#00aaff" stroke-dasharray="2.05 1.95 1.05 0.95 1.05 5.95 1.05 2.95 4.05 0.95 2.05 0.95 4.05 0.95 4.05 0.95 4.05 4.95 2.05 0.95 3.05 0.95 1.05 0.95 2.05 0.95 4.05 0.95 3.05 1.95 43.05 1.95 1.05 0.95 1.05 0.95 4.05 0.95 1.05 0.95 1.05 0.95 9.05 0.95 1.05 0.95 1.05 0.95 4.05 0.95 1.05 2.95 3.05 0.95 6.05 1.95 5.05 0.95 1.05 2.95 3.05 1.95 4.05 0"/>
<path d="M132.22 5.77A132.35 132.35 0 0 1 -3.46 132.30A132.35 132.35 0 0 1 -132.34 -1.15" pathLength="178" stroke="#00d8ff" stroke-dasharray="0 29 2.05 104.95 1.05 1.95 4.05 34.95"/>
<path d="M137.22 5.99A137.35 137.35 0 0 1 -3.60 137.30A137.35 137.35 0 0 1 -137.34 -1.20" pathLength="178" stroke="#00d8ff" stroke-dasharray="0 29 2.05 104.95 1.05 2.95 3.05 34.95"/>
<path d="M142.21 6.21A142.35 142.35 0 0 1 -3.73 142.30A142.35 142.35 0 0 1 -142.34 -1.24" pathLength="178" stroke="#00d8ff" stroke-dasharray="0 29 2.05 104.95 1.05 2.95 3.05 34.95"/>
<path d="M147.21 6.43A147.35 147.35 0 0 1 -3.86 147.30A147.35 147.35 0 0 1 -147.34 -1.29" pathLength="178" stroke="#00d8ff" stroke-dasharray="0 28 3.05 108.95 4.05 33.95"/>
<path d="M152.20 6.65A152.35 152.35 0 0 1 -3.99 152.30A152.35 152.35 0 0 1 -152.34 -1.33" pathLength="178" stroke="#00d8ff" stroke-dasharray="0 28 2.05 109.95 4.05 33.95"/>
<path d="M157.20 6.86A157.35 157.35 0 0 1 -4.12 157.30A157.35 157.35 0 0 1 -157.34 -1.37" pathLength="178" stroke="#00d8ff" stroke-dasharray="0 28 2.05 94.95 1.05 14.95 3.05 33.95"/>
<path d="M162.20 7.08A162.35 162.35 0 0 1 -4.25 162.29A162.35 162.35 0 0 1 -162.34 -1.42" pathLength="178" stroke="#00d8ff" stroke-dasharray="0 28 2.05 110.95 4.05 32.95"/>
<path d="M167.19 7.30A167.35 167.35 0 0 1 -4.38 167.29A167.35 167.35 0 0 1 -167.34 -1.46" pathLength="178" stroke="#00d8ff" stroke-dasharray="0 28 1.05 110.95 5.05 32.95"/>
<path d="M172.19 7.52A172.35 172.35 0 0 1 -4.51 172.29A172.35 172.35 0 0 1 -172.34 -1.50" pathLength="178" stroke="#00d8ff" stroke-dasharray="0 16 1.05 10.95 1.05 85.95 1.05 23.95 1.05 0.95 4.05 31.95"/>
<path d="M177.18 7.74A177.35 177.35 0 0 1 -4.64 177.29A177.35 177.35 0 0 1 -177.34 -1.55" pathLength="178" stroke="#00d8ff" stroke-dasharray="0 16 1.05 10.95 1.05 111.95 4.05 32.95"/>
<path d="M182.18 7.95A182.35 182.35 0 0 1 -4.77 182.29A182.35 182.35 0 0 1 -182.34 -1.59" pathLength="178" stroke="#00d8ff" stroke-dasharray="0 16 1.05 9.95 2.05 85.95 1.05 24.95 1.05 0.95 3.05 21.95 1.05 8.95"/>
<path d="M187.17 8.17A187.35 187.35 0 0 1 -4.90 187.29A187.35 187.35 0 0 1 -187.34 -1.63" pathLength="178" stroke="#00d8ff" stroke-dasharray="0 16 1.05 9.95 2.05 111.95 5.05 21.95 1.05 8.95"/>
<path d="M192.17 8.39A192.35 192.35 0 0 1 -5.04 192.28A192.35 192.35 0 0 1 -192.34 -1.68" pathLength="178" stroke="#00d8ff" stroke-dasharray="0 16 1.05 9.95 2.05 111.95 5.05 12.95 1.05 7.95 1.05 8.95"/>
<path d="M197.16 8.61A197.35 197.35 0 0 1 -5.17 197.28A197.35 197.35 0 0 1 -197.34 -1.72" pathLength="178" stroke="#00d8ff" stroke-dasharray="0 27 2.05 56.95 1.05 54.95 4.05 12.95 1.05 7.95 1.05 8.95"/>
<path d="M202.16 8.83A202.35 202.35 0 0 1 -5.30 202.28A202.35 202.35 0 0 1 -202.34 -1.77" pathLength="178" stroke="#00d8ff" stroke-dasharray="0 26 3.05 112.95 5.05 11.95 1.05 7.95 1.05 8.95"/>
<path d="M207.15 9.04A207.35 207.35 0 0 1 -5.43 207.28A207.35 207.35 0 0 1 -207.34 -1.81" pathLength="178" stroke="#00d8ff" stroke-dasharray="0 16 1.05 9.95 2.05 112.95 5.05 11.95 1.05 7.95 1.05 8.95"/>
<path d="M212.15 9.26A212.35 212.35 0 0 1 -5.56 212.28A212.35 212.35 0 0 1 -212.34 -1.85" pathLength="178" stroke="#00d8ff" stroke-dasharray="0 16 1.05 9.95 1.05 34.95 1.05 77.95 5.05 8.95 1.05 1.95 1.05 7.95 1.05 8.95"/>
<path d="M217.14 9.48A217.35 217.35 0 0 1 -5.69 217.28A217.35 217.35 0 0 1 -217.34 -1.90" pathLength="178" stroke="#00d8ff" stroke-dasharray="0 16 1.05 5.95 1.05 1.95 2.05 88.95 1.05 24.95 4.05 11.95 1.05 7.95 1.05 8.95"/>
<path d="M222.14 9.70A222.35 222.35 0 0 1 -5.82 222.27A222.35 222.35 0 0 1 -222.34 -1.94" pathLength="178" stroke="#00d8ff" stroke-dasharray="0 16 1.05 8.95 2.05 77.95 1.05 35.95 5.05 4.95 1.05 4.95 1.05 7.95 1.05 8.95"/>
<path d="M227.13 9.92A227.35 227.35 0 0 1 -5.95 227.27A227.35 227.35 0 0 1 -227.34 -1.98" pathLength="178" stroke="#00d8ff" stroke-dasharray="0 16 1.05 8.95 2.05 114.95 5.05 10.95 1.05 2.95 1.05 3.95 1.05 8.95"/>
<path d="M232.13 10.13A232.35 232.35 0 0 1 -6.08 232.27A232.35 232.35 0 0 1 -232.34 -2.03" pathLength="178" stroke="#00d8ff" stroke-dasharray="0 7 1.05 7.95 1.05 8.95 2.05 82.95 1.05 30.95 5.05 19.95 1.05 8.95"/>
<path d="M237.12 10.35A237.35 237.35 0 0 1 -6.21 237.27A237.35 237.35 0 0 1 -237.34 -2.07" pathLength="178" stroke="#00d8ff" stroke-dasharray="0 7 1.05 7.95 1.05 8.95 2.05 114.95 5.05 10.95 2.05 6.95 1.05 8.95"/>
<path d="M242.12 10.57A242.35 242.35 0 0 1 -6.34 242.27A242.35 242.35 0 0 1 -242.34 -2.11" pathLength="178" stroke="#00d8ff" stroke-dasharray="0 16 1.05 8.95 2.05 11.95 1.05 31.95 1.05 62.95 1.05 2.95 1.05 0.95 6.05 14.95 1.05 2.95 1.05 8.95"/>
<path d="M247.11 10.79A247.35 247.35 0 0 1 -6.47 247.27A247.35 247.35 0 0 1 -247.34 -2.16" pathLength="178" stroke="#00d8ff" stroke-dasharray="0 16 1.05 8.95 2.05 26.95 1.05 39.95 1.05 0.95 1.05 12.95 1.05 29.95 6.05 14.95 1.05 2.95 1.05 8.95"/>
<path d="M252.11 11.01A252.35 252.35 0 0 1 -6.61 252.26A252.35 252.35 0 0 1 -252.34 -2.20" pathLength="178" stroke="#00d8ff" stroke-dasharray="0 16 1.05 8.95 1.05 36.95 1.05 10.95 1.05 3.95 1.05 13.95 1.05 5.95 1.05 38.95 6.05 10.95 1.05 6.95 1.05 1.95 1.05 5.95"/>
<path d="M257.11 11.23A257.35 257.35 0 0 1 -6.74 257.26A257.35 257.35 0 0 1 -257.34 -2.25" pathLength="178" stroke="#00d8ff" stroke-dasharray="0 7 1.05 7.95 1.05 7.95 2.05 24.95 1.05 44.95 1.05 3.95 1.05 38.95 6.05 4.95 1.05 4.95 1.05 6.95 1.05 8.95"/>
<path d="M262.10 11.44A262.35 262.35 0 0 1 -6.87 262.26A262.35 262.35 0 0 1 -262.34 -2.29" pathLength="178" stroke="#00d8ff" stroke-dasharray="0 16 1.05 7.95 2.05 17.95 1.05 72.95 1.05 22.95 6.05 5.95 1.05 3.95 1.05 6.95 1.05 8.95"/>
<path d="M267.10 11.66A267.35 267.35 0 0 1 -7.00 267.26A267.35 267.35 0 0 1 -267.34 -2.33" pathLength="178" stroke="#00d8ff" stroke-dasharray="0 16 1.05 7.95 2.05 5.95 1.05 9.95 1.05 28.95 1.05 68.95 7.05 8.95 1.05 6.95 1.05 8.95"/>
<path d="M272.09 11.88A272.35 272.35 0 0 1 -7.13 272.26A272.35 272.35 0 0 1 -272.34 -2.38" pathLength="178" stroke="#00d8ff" stroke-dasharray="0 2 1.05 12.95 1.05 7.95 2.05 36.95 1.05 21.95 1.05 8.95 1.05 7.95 1.05 36.95 6.05 9.95 1.05 6.95 1.05 8.95"/>
<path d="M277.09 12.10A277.35 277.35 0 0 1 -7.26 277.25A277.35 277.35 0 0 1 -277.34 -2.42" pathLength="178" stroke="#00d8ff" stroke-dasharray="0 25 2.05 8.95 1.05 10.95 1.05 7.95 1.05 33.95 1.05 3.95 1.05 37.95 1.05 2.95 1.05 3.95 5.05 4.95 1.05 0.95 1.05 1.95 1.05 6.95 1.05 8.95"/>
<path d="M282.08 12.32A282.35 282.35 0 0 1 -7.39 282.25A282.35 282.35 0 0 1 -282.34 -2.46" pathLength="178" stroke="#00d8ff" stroke-dasharray="0 16 1.05 7.95 2.05 33.95 1.05 19.95 1.05 18.95 1.05 40.95 6.05 1.95 1.05 6.95 1.05 6.95 1.05 2.95 1.05 4.95"/>
<path d="M287.08 12.53A287.35 287.35 0 0 1 -7.52 287.25A287.35 287.35 0 0 1 -287.34 -2.51" pathLength="178" stroke="#00d8ff" stroke-dasharray="0 25 2.05 64.95 1.05 50.95 6.05 0.95 1.05 5.95 1.05 0.95 1.05 6.95 2.05 4.95 1.05 1.95"/>
<path d="M292.07 12.75A292.35 292.35 0 0 1 -7.65 292.25A292.35 292.35 0 0 1 -292.34 -2.55" pathLength="178" stroke="#00d8ff" stroke-dasharray="0 11 1.05 2.95 1.05 3.95 1.05 1.95 4.05 58.95 1.05 57.95 6.05 0.95 1.05 6.95 1.05 0.95 1.05 4.95 1.05 8.95"/>
<path d="M297.07 12.97A297.35 297.35 0 0 1 -7.78 297.25A297.35 297.35 0 0 1 -297.34 -2.59" pathLength="178" stroke="#00d8ff" stroke-dasharray="0 24 3.05 0.95 1.05 16.95 1.05 19.95 1.05 31.95 1.05 20.95 1.05 21.95 6.05 8.95 1.05 6.95 2.05 7.95"/>
<path d="M302.06 13.19A302.35 302.35 0 0 1 -7.91 302.25A302.35 302.35 0 0 1 -302.34 -2.64" pathLength="178" stroke="#00d8ff" stroke-dasharray="0 7 1.05 15.95 3.05 89.95 1.05 21.95 1.05 2.95 7.05 8.95 1.05 5.95 3.05 7.95"/>
<path d="M307.06 13.41A307.35 307.35 0 0 1 -8.05 307.24A307.35 307.35 0 0 1 -307.34 -2.68" pathLength="178" stroke="#00d8ff" stroke-dasharray="0 15 1.05 7.95 2.05 29.95 1.05 5.95 1.05 2.95 1.05 6.95 1.05 9.95 1.05 21.95 1.05 29.95 1.05 4.95 5.05 8.95 1.05 7.95 1.05 1.95 1.05 4.95"/>
<path d="M312.05 13.62A312.35 312.35 0 0 1 -8.18 312.24A312.35 312.35 0 0 1 -312.34 -2.73" pathLength="178" stroke="#00d8ff" stroke-dasharray="0 9 1.05 2.95 1.05 0.95 1.05 7.95 2.05 96.95 1.05 15.95 1.05 3.95 6.05 8.95 2.05 6.95 1.05 5.95 1.05 0.95"/>
<path d="M317.05 13.84A317.35 317.35 0 0 1 -8.31 317.24A317.35 317.35 0 0 1 -317.34 -2.77" pathLength="178" stroke="#00d8ff" stroke-dasharray="0 8 1.05 5.95 1.05 7.95 2.05 3.95 1.05 85.95 1.05 11.95 1.05 8.95 1.05 4.95 6.05 7.95 3.05 5.95 1.05 1.95 1.05 2.95 1.05 0.95"/>
<path d="M322.04 14.06A322.35 322.35 0 0 1 -8.44 322.24A322.35 322.35 0 0 1 -322.34 -2.81" pathLength="178" stroke="#00d8ff" stroke-dasharray="0 15 1.05 2.95 1.05 3.95 2.05 8.95 1.05 79.95 2.05 12.95 1.05 13.95 6.05 7.95 3.05 5.95 1.05 4.95 1.05 1.95"/>
<path d="M327.04 14.28A327.35 327.35 0 0 1 -8.57 327.24A327.35 327.35 0 0 1 -327.34 -2.86" pathLength="178" stroke="#00d8ff" stroke-dasharray="0 15 1.05 2.95 1.05 2.95 3.05 3.95 1.05 23.95 1.05 12.95 1.05 43.95 1.05 0.95 2.05 11.95 1.05 10.95 1.05 3.95 5.05 7.95 2.05 6.95 1.05 7.95"/>
<path d="M332.03 14.50A332.35 332.35 0 0 1 -8.70 332.24A332.35 332.35 0 0 1 -332.34 -2.90" pathLength="178" stroke="#00d8ff" stroke-dasharray="0 15 1.05 6.95 3.05 17.95 3.05 7.95 1.05 4.95 1.05 47.95 1.05 35.95 5.05 0.95 1.05 5.95 2.05 6.95 1.05 5.95 2.05 0"/>
<path d="M337.03 14.72A337.35 337.35 0 0 1 -8.83 337.23A337.35 337.35 0 0 1 -337.34 -2.94" pathLength="178" stroke="#00d8ff" stroke-dasharray="0 6 2.05 6.95 1.05 6.95 2.05 22.95 1.05 4.95 1.05 15.95 1.05 7.95 1.05 11.95 1.05 0.95 1.05 0.95 1.05 0.95 1.05 5.95 1.05 23.95 1.05 0.95 1.05 0.95 1.05 9.95 6.05 8.95 1.05 6.95 1.05 7.95"/>
<path d="M342.02 14.93A342.35 342.35 0 0 1 -8.96 342.23A342.35 342.35 0 0 1 -342.34 -2.99" pathLength="178" stroke="#00d8ff" stroke-dasharray="0 14 2.05 6.95 2.05 22.95 1.05 5.95 1.05 6.95 1.05 30.95 1.05 23.95 1.05 8.95 2.05 11.95 1.05 0.95 6.05 7.95 2.05 2.95 1.05 2.95 1.05 2.95 1.05 3.95"/>
<path d="M347.02 15.15A347.35 347.35 0 0 1 -9.09 347.23A347.35 347.35 0 0 1 -347.34 -3.03" pathLength="178" stroke="#00d8ff" stroke-dasharray="0 15 1.05 6.95 2.05 2.95 1.05 22.95 1.05 76.95 2.05 13.95 6.05 8.95 1.05 6.95 1.05 2.95 1.05 3.95"/>
<path d="M352.01 15.37A352.35 352.35 0 0 1 -9.22 352.23A352.35 352.35 0 0 1 -352.34 -3.07" pathLength="178" stroke="#00d8ff" stroke-dasharray="0 14 2.05 6.95 2.05 54.95 1.05 40.95 1.05 23.95 5.05 4.95 1.05 2.95 4.05 3.95 1.05 2.95 1.05 3.95"/>
<path d="M357.01 15.59A357.35 357.35 0 0 1 -9.35 357.23A357.35 357.35 0 0 1 -357.34 -3.12" pathLength="178" stroke="#00d8ff" stroke-dasharray="0 15 1.05 6.95 2.05 52.95 1.05 19.95 1.05 1.95 1.05 0.95 1.05 12.95 1.05 7.95 1.05 0.95 1.05 2.95 1.05 2.95 1.05 9.95 4.05 8.95 1.05 0.95 1.05 3.95 2.05 2.95 1.05 3.95"/>
<path d="M362.01 15.81A362.35 362.35 0 0 1 -9.49 362.23A362.35 362.35 0 0 1 -362.34 -3.16" pathLength="178" stroke="#00d8ff" stroke-dasharray="0 15 1.05 5.95 3.05 1.95 1.05 9.95 3.05 2.95 1.05 5.95 2.05 2.95 1.05 20.95 1.05 24.95 1.05 8.95 1.05 6.95 1.05 2.95 1.05 4.95 1.05 0.95 1.05 1.95 1.05 9.95 4.05 3.95 1.05 3.95 1.05 5.95 1.05 8.95"/>
<path d="M367.00 16.02A367.35 367.35 0 0 1 -9.62 367.22A367.35 367.35 0 0 1 -367.34 -3.21" pathLength="178" stroke="#00d8ff" stroke-dasharray="0 9 1.05 1.95 1.05 1.95 1.05 5.95 4.05 0.95 1.05 2.95 1.05 5.95 2.05 10.95 1.05 28.95 3.05 5.95 1.05 8.95 1.05 11.95 1.05 7.95 1.05 9.95 2.05 13.95 3.05 7.95 2.05 15.95"/>
<path d="M372.00 16.24A372.35 372.35 0 0 1 -9.75 372.22A372.35 372.35 0 0 1 -372.34 -3.25" pathLength="178" stroke="#00d8ff" stroke-dasharray="0 7 1.05 6.95 1.05 5.95 3.05 1.95 1.05 13.95 1.05 14.95 1.05 41.95 1.05 4.95 1.05 6.95 1.05 9.95 1.05 2.95 1.05 2.95 1.05 2.95 1.05 9.95 3.05 2.95 1.05 4.95 1.05 10.95 1.05 3.95"/>
<path d="M376.99 16.46A377.35 377.35 0 0 1 -9.88 377.22A377.35 377.35 0 0 1 -377.34 -3.29" pathLength="178" stroke="#00d8ff" stroke-dasharray="0 10 1.05 0.95 1.05 1.95 1.05 5.95 2.05 3.95 1.05 12.95 1.05 15.95 1.05 5.95 1.05 3.95 1.05 3.95 1.05 5.95 1.05 9.95 1.05 1.95 1.05 4.95 1.05 12.95 1.05 4.95 1.05 0.95 1.05 0.95 1.05 18.95 1.05 0.95 2.05 3.95 1.05 3.95 2.05 3.95 1.05 9.95 1.05 0"/>
<path d="M381.99 16.68A382.35 382.35 0 0 1 -10.01 382.22A382.35 382.35 0 0 1 -382.34 -3.34" pathLength="178" stroke="#00d8ff" stroke-dasharray="0 15 1.05 0.95 1.05 3.95 2.05 3.95 1.05 10.95 1.05 18.95 1.05 0.95 1.05 19.95 1.05 17.95 2.05 5.95 1.05 37.95 2.05 9.95 1.05 15.95"/>
<path d="M386.98 16.90A387.35 387.35 0 0 1 -10.14 387.22A387.35 387.35 0 0 1 -387.34 -3.38" pathLength="178" stroke="#00d8ff" stroke-dasharray="0 15 1.05 0.95 1.05 3.95 2.05 1.95 1.05 0.95 1.05 10.95 1.05 11.95 1.05 23.95 1.05 5.95 1.05 11.95 1.05 4.95 1.05 27.95 1.05 1.95 1.05 4.95 1.05 4.95 1.05 0.95 2.05 2.95 1.05 4.95 2.05 9.95 2.05 2.95"/>
<path d="M391.98 17.11A392.35 392.35 0 0 1 -10.27 392.22A392.35 392.35 0 0 1 -392.34 -3.42" pathLength="178" stroke="#00d8ff" stroke-dasharray="0 15 3.05 3.95 2.05 1.95 1.05 3.95 1.05 16.95 1.05 68.95 1.05 7.95 1.05 18.95 1.05 0.95 2.05 8.95 3.05 0.95 1.05 6.95 1.05 1.95 1.05 0.95"/>
<path d="M396.97 17.33A397.35 397.35 0 0 1 -10.40 397.21A397.35 397.35 0 0 1 -397.33 -3.47" pathLength="178" stroke="#00d8ff" stroke-dasharray="0 8 1.05 5.95 2.05 4.95 2.05 1.95 1.05 21.95 2.05 12.95 1.05 2.95 1.05 9.95 1.05 5.95 1.05 1.95 1.05 12.95 1.05 2.95 1.05 3.95 1.05 6.95 1.05 13.95 1.05 5.95 1.05 6.95 2.05 8.95 2.05 1.95 1.05 3.95 1.05 0.95 1.05 1.95 2.05 0.95"/>
<path d="M401.97 17.55A402.35 402.35 0 0 1 -10.53 402.21A402.35 402.35 0 0 1 -402.33 -3.51" pathLength="178" stroke="#00d8ff" stroke-dasharray="0 4 2.05 0.95 1.05 5.95 1.05 6.95 4.05 2.95 1.05 12.95 1.05 9.95 1.05 8.95 1.05 2.95 1.05 9.95 1.05 3.95 1.05 7.95 1.05 13.95 2.05 1.95 1.05 5.95 1.05 29.95 2.05 8.95 3.05 6.95 1.05 5.95"/>
<path d="M406.96 17.77A407.35 407.35 0 0 1 -10.66 407.21A407.35 407.35 0 0 1 -407.33 -3.55" pathLength="178" stroke="#00d8ff" stroke-dasharray="1.05 19.95 3.05 13.95 1.05 37.95 1.05 2.95 1.05 7.95 2.05 11.95 1.05 43.95 3.05 0.95 1.05 6.95 2.05 0.95 1.05 3.95 1.05 2.95 1.05 3.95"/>
<path d="M411.96 17.99A412.35 412.35 0 0 1 -10.79 412.21A412.35 412.35 0 0 1 -412.33 -3.60" pathLength="178" stroke="#00d8ff" stroke-dasharray="0 2 1.05 3.95 1.05 10.95 1.05 0.95 3.05 7.95 1.05 18.95 1.05 1.95 1.05 0.95 1.05 18.95 1.05 5.95 1.05 3.95 1.05 13.95 1.05 20.95 1.05 14.95 1.05 2.95 1.05 2.95 2.05 0.95 1.05 1.95 1.05 3.95 3.05 6.95 1.05 1.95 1.05 2.95"/>
<path d="M416.95 18.20A417.35 417.35 0 0 1 -10.92 417.21A417.35 417.35 0 0 1 -417.33 -3.64" pathLength="178" stroke="#00d8ff" stroke-dasharray="0 14 1.05 5.95 3.05 22.95 1.05 8.95 1.05 24.95 3.05 9.95 1.05 9.95 1.05 0.95 1.05 7.95 1.05 0.95 1.05 4.95 1.05 13.95 1.05 0.95 1.05 5.95 3.05 7.95 3.05 6.95 1.05 0.95 1.05 3.95"/>
<path d="M421.95 18.42A422.35 422.35 0 0 1 -11.06 422.21A422.35 422.35 0 0 1 -422.33 -3.69" pathLength="178" stroke="#00d8ff" stroke-dasharray="0 13 3.05 4.95 3.05 11.95 1.05 4.95 1.05 3.95 2.05 10.95 1.05 21.95 1.05 4.95 1.05 0.95 2.05 18.95 1.05 1.95 2.05 4.95 1.05 17.95 1.05 1.95 1.05 4.95 2.05 8.95 2.05 12.95 2.05 0"/>
<path d="M426.94 18.64A427.35 427.35 0 0 1 -11.19 427.20A427.35 427.35 0 0 1 -427.33 -3.73" pathLength="178" stroke="#00d8ff" stroke-dasharray="0 14 1.05 5.95 2.05 18.95 1.05 8.95 1.05 4.95 1.05 1.95 1.05 3.95 1.05 1.95 1.05 8.95 1.05 1.95 1.05 7.95 1.05 7.95 1.05 11.95 1.05 0.95 1.05 3.95 1.05 9.95 1.05 11.95 1.05 4.95 2.05 8.95 2.05 7.95 1.05 2.95 1.05 0.95 1.05 0"/>
<path d="M431.94 18.86A432.35 432.35 0 0 1 -11.32 432.20A432.35 432.35 0 0 1 -432.33 -3.77" pathLength="178" stroke="#00d8ff" stroke-dasharray="0 2 1.05 0.95 1.05 8.95 1.05 3.95 1.05 0.95 4.05 4.95 1.05 9.95 2.05 0.95 1.05 14.95 1.05 3.95 1.05 2.95 1.05 8.95 1.05 2.95 1.05 0.95 1.05 2.95 1.05 13.95 1.05 2.95 2.05 9.95 1.05 11.95 1.05 1.95 1.05 9.95 1.05 2.95 2.05 7.95 2.05 0.95 1.05 4.95 1.05 2.95 1.05 2.95"/>
<path d="M436.93 19.08A437.35 437.35 0 0 1 -11.45 437.20A437.35 437.35 0 0 1 -437.33 -3.82" pathLength="178" stroke="#00d8ff" stroke-dasharray="0 2 1.05 6.95 1.05 2.95 1.05 4.95 3.05 16.95 1.05 1.95 1.05 1.95 2.05 16.95 1.05 2.95 1.05 10.95 1.05 3.95 1.05 1.95 1.05 4.95 1.05 0.95 1.05 3.95 1.05 0.95 1.05 2.95 1.05 13.95 1.05 10.95 3.05 12.95 2.05 7.95 2.05 0.95 1.05 4.95 1.05 6.95"/>
<path d="M441.93 19.30A442.35 442.35 0 0 1 -11.58 442.20A442.35 442.35 0 0 1 -442.33 -3.86" pathLength="178" stroke="#00d8ff" stroke-dasharray="0 1 2.05 6.95 1.05 0.95 3.05 3.95 4.05 6.95 1.05 8.95 1.05 9.95 1.05 17.95 1.05 7.95 1.05 2.95 1.05 4.95 1.05 1.95 1.05 3.95 1.05 6.95 1.05 0.95 1.05 8.95 1.05 1.95 1.05 2.95 1.05 16.95 1.05 7.95 2.05 0.95 1.05 5.95 2.05 5.95 1.05 2.95 1.05 0.95 1.05 1.95"/>
<path d="M446.92 19.51A447.35 447.35 0 0 1 -11.71 447.20A447.35 447.35 0 0 1 -447.33 -3.90" pathLength="178" stroke="#00d8ff" stroke-dasharray="0 2 1.05 2.95 1.05 6.95 1.05 2.95 5.05 15.95 3.05 6.95 1.05 0.95 1.05 3.95 1.05 21.95 1.05 2.95 1.05 5.95 1.05 2.95 1.05 2.95 1.05 7.95 1.05 6.95 1.05 0.95 1.05 12.95 1.05 3.95 1.05 2.95 1.05 0.95 1.05 7.95 2.05 7.95 2.05 9.95 2.05 2.95"/>
<path d="M451.92 19.73A452.35 452.35 0 0 1 -11.84 452.19A452.35 452.35 0 0 1 -452.33 -3.95" pathLength="178" stroke="#00d8ff" stroke-dasharray="0 14 1.05 0.95 1.05 2.95 3.05 11.95 1.05 3.95 1.05 10.95 1.05 1.95 1.05 21.95 1.05 11.95 1.05 1.95 1.05 13.95 1.05 6.95 1.05 21.95 1.05 0.95 1.05 7.95 2.05 0.95 3.05 0.95 1.05 1.95 2.05 2.95 1.05 0.95 1.05 1.95 1.05 0.95 2.05 2.95"/>
<path d="M456.91 19.95A457.35 457.35 0 0 1 -11.97 457.19A457.35 457.35 0 0 1 -457.33 -3.99" pathLength="178" stroke="#00d8ff" stroke-dasharray="0 4 1.05 1.95 1.05 5.95 1.05 4.95 2.05 23.95 1.05 39.95 1.05 17.95 1.05 5.95 2.05 2.95 1.05 16.95 1.05 1.95 2.05 3.95 1.05 4.95 2.05 5.95 1.05 0.95 2.05 2.95 1.05 2.95 2.05 2.95 2.05 0.95"/>
<path d="M461.91 20.17A462.35 462.35 0 0 1 -12.10 462.19A462.35 462.35 0 0 1 -462.33 -4.03" pathLength="178" stroke="#00d8ff" stroke-dasharray="0 4 2.05 4.95 1.05 7.95 2.05 11.95 1.05 2.95 1.05 15.95 1.05 4.95 1.05 0.95 1.05 3.95 1.05 0.95 1.05 39.95 1.05 10.95 1.05 14.95 2.05 0.95 1.05 1.95 1.05 1.95 1.05 1.95 2.05 0.95 1.05 0.95 1.05 0.95 1.05 0.95 3.05 1.95 1.05 3.95 2.05 2.95 1.05 1.95"/>
<path d="M466.91 20.39A467.35 467.35 0 0 1 -12.23 467.19A467.35 467.35 0 0 1 -467.33 -4.08" pathLength="178" stroke="#00d8ff" stroke-dasharray="0 6 2.05 0.95 1.05 0.95 1.05 6.95 3.05 8.95 1.05 18.95 1.05 2.95 1.05 12.95 2.05 10.95 1.05 3.95 2.05 4.95 1.05 1.95 3.05 0.95 2.05 19.95 1.05 2.95 1.05 11.95 1.05 5.95 1.05 2.95 2.05 6.95 4.05 2.95 1.05 1.95 1.05 3.95 1.05 0.95 1.05 0"/>
<path d="M471.90 20.60A472.35 472.35 0 0 1 -12.36 472.19A472.35 472.35 0 0 1 -472.33 -4.12" pathLength="178" stroke="#00d8ff" stroke-dasharray="0 1 1.05 5.95 2.05 2.95 1.05 0.95 1.05 1.95 1.05 0.95 2.05 0.95 1.05 25.95 1.05 0.95 1.05 11.95 2.05 13.95 1.05 4.95 2.05 6.95 2.05 3.95 1.05 0.95 1.05 6.95 1.05 0.95 1.05 11.95 1.05 22.95 2.05 1.95 1.05 1.95 1.05 1.95 2.05 12.95 1.05 0.95"/>
<path d="M476.90 20.82A477.35 477.35 0 0 1 -12.50 477.19A477.35 477.35 0 0 1 -477.33 -4.17" pathLength="178" stroke="#00d8ff" stroke-dasharray="0 8 2.05 2.95 1.05 3.95 4.05 13.95 1.05 2.95 1.05 4.95 1.05 4.95 1.05 11.95 1.05 9.95 1.05 2.95 1.05 16.95 1.05 2.95 1.05 8.95 1.05 0.95 2.05 9.95 2.05 2.95 3.05 8.95 1.05 6.95 2.05 2.95 1.05 3.95 3.05 2.95 1.05 5.95 1.05 0.95 1.05 0.95"/>
<path d="M481.89 21.04A482.35 482.35 0 0 1 -12.63 482.18A482.35 482.35 0 0 1 -482.33 -4.21" pathLength="178" stroke="#00d8ff" stroke-dasharray="0 2 3.05 7.95 1.05 0.95 1.05 2.95 3.05 8.95 2.05 3.95 1.05 5.95 1.05 20.95 1.05 8.95 2.05 0.95 3.05 0.95 1.05 3.95 1.05 0.95 2.05 0.95 1.05 1.95 1.05 1.95 1.05 7.95 2.05 3.95 1.05 10.95 1.05 4.95 1.05 5.95 1.05 10.95 2.05 2.95 1.05 2.95 1.05 0.95 1.05 3.95 1.05 3.95 1.05 2.95 1.05 0.95"/>
<path d="M486.89 21.26A487.35 487.35 0 0 1 -12.76 487.18A487.35 487.35 0 0 1 -487.33 -4.25" pathLength="178" stroke="#00d8ff" stroke-dasharray="0 1 1.05 3.95 1.05 8.95 1.05 0.95 1.05 0.95 2.05 3.95 1.05 2.95 1.05 5.95 1.05 4.95 1.05 15.95 1.05 3.95 1.05 9.95 18.05 1.95 1.05 1.95 1.05 13.95 1.05 0.95 1.05 5.95 1.05 10.95 1.05 10.95 1.05 2.95 2.05 6.95 1.05 0.95 1.05 1.95 1.05 0.95 1.05 4.95 1.05 1.95 2.05 0"/>
<path d="M491.88 21.48A492.35 492.35 0 0 1 -12.89 492.18A492.35 492.35 0 0 1 -492.33 -4.30" pathLength="178" stroke="#00d8ff" stroke-dasharray="0 1 1.05 8.95 1.05 6.95 3.05 4.95 2.05 13.95 1.05 11.95 1.05 0.95 1.05 5.95 1.05 3.95 1.05 0.95 1.05 0.95 24.05 16.95 1.05 4.95 2.05 0.95 1.05 0.95 1.05 2.95 1.05 3.95 1.05 14.95 3.05 0.95 2.05 4.95 1.05 2.95 1.05 0.95 2.05 0.95 1.05 1.95 1.05 0.95 1.05 0.95"/>
<path d="M496.88 21.69A497.35 497.35 0 0 1 -13.02 497.18A497.35 497.35 0 0 1 -497.33 -4.34" pathLength="178" stroke="#00d8ff" stroke-dasharray="0 13 2.05 2.95 4.05 21.95 1.05 10.95 1.05 1.95 2.05 7.95 1.05 1.95 29.05 13.95 1.05 0.95 1.05 2.95 3.05 0.95 2.05 7.95 1.05 5.95 1.05 7.95 2.05 0.95 2.05 2.95 1.05 0.95 2.05 3.95 2.05 0.95 1.05 1.95 2.05 0.95 1.05 0.95"/>
<path d="M501.87 21.91A502.35 502.35 0 0 1 -13.15 502.18A502.35 502.35 0 0 1 -502.33 -4.38" pathLength="178" stroke="#00d8ff" stroke-dasharray="0 4 1.05 13.95 2.05 6.95 1.05 14.95 1.05 3.95 1.05 1.95 1.05 2.95 5.05 6.95 37.05 2.95 1.05 5.95 1.05 5.95 1.05 0.95 1.05 1.95 1.05 10.95 1.05 2.95 1.05 3.95 2.05 0.95 5.05 2.95 1.05 1.95 1.05 4.95 1.05 3.95 1.05 1.95 1.05 0.95"/>
<path d="M506.87 22.13A507.35 507.35 0 0 1 -13.28 507.18A507.35 507.35 0 0 1 -507.33 -4.43" pathLength="178" stroke="#00d8ff" stroke-dasharray="0 1 1.05 3.95 1.05 11.95 2.05 6.95 1.05 7.95 1.05 5.95 1.05 8.95 1.05 0.95 1.05 8.95 40.05 0.95 1.05 7.95 1.05 11.95 2.05 2.95 1.05 3.95 1.05 0.95 1.05 0.95 1.05 3.95 1.05 1.95 3.05 0.95 2.05 1.95 1.05 1.95 2.05 0.95 1.05 7.95 1.05 2.95"/>
<path d="M132.22 5.77A132.35 132.35 0 0 1 -3.46 132.30A132.35 132.35 0 0 1 -132.34 -1.15" pathLength="178" stroke="#12fcec" stroke-dasharray="0 29 2.05 104.95 1.05 2.95 2.05 35.95"/>
<path d="M142.21 6.21A142.35 142.35 0 0 1 -3.73 142.30A142.35 142.35 0 0 1 -142.34 -1.24" pathLength="178" stroke="#12fcec" stroke-dasharray="0 29 2.05 108.95 3.05 34.95"/>
<path d="M147.21 6.43A147.35 147.35 0 0 1 -3.86 147.30A147.35 147.35 0 0 1 -147.34 -1.29" pathLength="178" stroke="#12fcec" stroke-dasharray="0 28 3.05 109.95 3.05 33.95"/>
<path d="M157.20 6.86A157.35 157.35 0 0 1 -4.12 157.30A157.35 157.35 0 0 1 -157.34 -1.37" pathLength="178" stroke="#12fcec" stroke-dasharray="0 28 2.05 110.95 3.05 33.95"/>
<path d="M162.20 7.08A162.35 162.35 0 0 1 -4.25 162.29A162.35 162.35 0 0 1 -162.34 -1.42" pathLength="178" stroke="#12fcec" stroke-dasharray="0 28 1.05 111.95 4.05 32.95"/>
<path d="M172.19 7.52A172.35 172.35 0 0 1 -4.51 172.29A172.35 172.35 0 0 1 -172.34 -1.50" pathLength="178" stroke="#12fcec" stroke-dasharray="0 28 1.05 112.95 3.05 32.95"/>
<path d="M177.18 7.74A177.35 177.35 0 0 1 -4.64 177.29A177.35 177.35 0 0 1 -177.34 -1.55" pathLength="178" stroke="#12fcec" stroke-dasharray="0 28 1.05 111.95 1.05 0.95 2.05 32.95"/>
<path d="M187.17 8.17A187.35 187.35 0 0 1 -4.90 187.29A187.35 187.35 0 0 1 -187.34 -1.63" pathLength="178" stroke="#12fcec" stroke-dasharray="0 27 2.05 111.95 5.05 31.95"/>
<path d="M192.17 8.39A192.35 192.35 0 0 1 -5.04 192.28A192.35 192.35 0 0 1 -192.34 -1.68" pathLength="178" stroke="#12fcec" stroke-dasharray="0 27 2.05 112.95 4.05 21.95 1.05 8.95"/>
<path d="M197.16 8.61A197.35 197.35 0 0 1 -5.17 197.28A197.35 197.35 0 0 1 -197.34 -1.72" pathLength="178" stroke="#12fcec" stroke-dasharray="0 27 2.05 112.95 4.05 12.95 1.05 7.95 1.05 8.95"/>
<path d="M202.16 8.83A202.35 202.35 0 0 1 -5.30 202.28A202.35 202.35 0 0 1 -202.34 -1.77" pathLength="178" stroke="#12fcec" stroke-dasharray="0 27 2.05 112.95 5.05 11.95 1.05 7.95 1.05 8.95"/>
<path d="M207.15 9.04A207.35 207.35 0 0 1 -5.43 207.28A207.35 207.35 0 0 1 -207.34 -1.81" pathLength="178" stroke="#12fcec" stroke-dasharray="0 27 1.05 113.95 5.05 11.95 1.05 7.95 1.05 8.95"/>
<path d="M212.15 9.26A212.35 212.35 0 0 1 -5.56 212.28A212.35 212.35 0 0 1 -212.34 -1.85" pathLength="178" stroke="#12fcec" stroke-dasharray="0 27 1.05 113.95 5.05 11.95 1.05 7.95 1.05 8.95"/>
<path d="M217.14 9.48A217.35 217.35 0 0 1 -5.69 217.28A217.35 217.35 0 0 1 -217.34 -1.90" pathLength="178" stroke="#12fcec" stroke-dasharray="0 26 2.05 114.95 4.05 20.95 1.05 8.95"/>
<path d="M222.14 9.70A222.35 222.35 0 0 1 -5.82 222.27A222.35 222.35 0 0 1 -222.34 -1.94" pathLength="178" stroke="#12fcec" stroke-dasharray="0 26 2.05 114.95 5.05 19.95 1.05 8.95"/>
<path d="M227.13 9.92A227.35 227.35 0 0 1 -5.95 227.27A227.35 227.35 0 0 1 -227.34 -1.98" pathLength="178" stroke="#12fcec" stroke-dasharray="0 16 1.05 8.95 2.05 114.95 5.05 19.95 1.05 8.95"/>
<path d="M232.13 10.13A232.35 232.35 0 0 1 -6.08 232.27A232.35 232.35 0 0 1 -232.34 -2.03" pathLength="178" stroke="#12fcec" stroke-dasharray="0 16 1.05 8.95 2.05 114.95 5.05 19.95 1.05 8.95"/>
<path d="M237.12 10.35A237.35 237.35 0 0 1 -6.21 237.27A237.35 237.35 0 0 1 -237.34 -2.07" pathLength="178" stroke="#12fcec" stroke-dasharray="0 16 1.05 8.95 2.05 114.95 5.05 19.95 1.05 8.95"/>
<path d="M242.12 10.57A242.35 242.35 0 0 1 -6.34 242.27A242.35 242.35 0 0 1 -242.34 -2.11" pathLength="178" stroke="#12fcec" stroke-dasharray="0 16 1.05 8.95 2.05 115.95 5.05 18.95 1.05 8.95"/>
<path d="M247.11 10.79A247.35 247.35 0 0 1 -6.47 247.27A247.35 247.35 0 0 1 -247.34 -2.16" pathLength="178" stroke="#12fcec" stroke-dasharray="0 16 1.05 8.95 1.05 115.95 6.05 18.95 1.05 8.95"/>
<path d="M252.11 11.01A252.35 252.35 0 0 1 -6.61 252.26A252.35 252.35 0 0 1 -252.34 -2.20" pathLength="178" stroke="#12fcec" stroke-dasharray="0 16 1.05 8.95 1.05 116.95 5.05 18.95 1.05 8.95"/>
<path d="M257.11 11.23A257.35 257.35 0 0 1 -6.74 257.26A257.35 257.35 0 0 1 -257.34 -2.25" pathLength="178" stroke="#12fcec" stroke-dasharray="0 26 1.05 116.95 5.05 10.95 1.05 6.95 1.05 8.95"/>
<path d="M262.10 11.44A262.35 262.35 0 0 1 -6.87 262.26A262.35 262.35 0 0 1 -262.34 -2.29" pathLength="178" stroke="#12fcec" stroke-dasharray="0 25 2.05 116.95 5.05 10.95 1.05 6.95 1.05 8.95"/>
<path d="M267.10 11.66A267.35 267.35 0 0 1 -7.00 267.26A267.35 267.35 0 0 1 -267.34 -2.33" pathLength="178" stroke="#12fcec" stroke-dasharray="0 25 2.05 116.95 5.05 10.95 1.05 6.95 1.05 8.95"/>
<path d="M272.09 11.88A272.35 272.35 0 0 1 -7.13 272.26A272.35 272.35 0 0 1 -272.34 -2.38" pathLength="178" stroke="#12fcec" stroke-dasharray="0 25 2.05 117.95 5.05 9.95 1.05 6.95 1.05 8.95"/>
<path d="M277.09 12.10A277.35 277.35 0 0 1 -7.26 277.25A277.35 277.35 0 0 1 -277.34 -2.42" pathLength="178" stroke="#12fcec" stroke-dasharray="0 25 2.05 117.95 5.05 9.95 1.05 6.95 1.05 8.95"/>
<path d="M282.08 12.32A282.35 282.35 0 0 1 -7.39 282.25A282.35 282.35 0 0 1 -282.34 -2.46" pathLength="178" stroke="#12fcec" stroke-dasharray="0 25 2.05 117.95 5.05 9.95 1.05 16.95"/>
<path d="M287.08 12.53A287.35 287.35 0 0 1 -7.52 287.25A287.35 287.35 0 0 1 -287.34 -2.51" pathLength="178" stroke="#12fcec" stroke-dasharray="0 25 2.05 117.95 5.05 9.95 1.05 16.95"/>
<path d="M292.07 12.75A292.35 292.35 0 0 1 -7.65 292.25A292.35 292.35 0 0 1 -292.34 -2.55" pathLength="178" stroke="#12fcec" stroke-dasharray="0 25 2.05 117.95 6.05 8.95 1.05 16.95"/>
<path d="M297.07 12.97A297.35 297.35 0 0 1 -7.78 297.25A297.35 297.35 0 0 1 -297.34 -2.59" pathLength="178" stroke="#12fcec" stroke-dasharray="0 24 3.05 118.95 5.05 8.95 1.05 7.95 1.05 7.95"/>
<path d="M302.06 13.19A302.35 302.35 0 0 1 -7.91 302.25A302.35 302.35 0 0 1 -302.34 -2.64" pathLength="178" stroke="#12fcec" stroke-dasharray="0 24 2.05 119.95 5.05 8.95 1.05 7.95 1.05 7.95"/>
<path d="M307.06 13.41A307.35 307.35 0 0 1 -8.05 307.24A307.35 307.35 0 0 1 -307.34 -2.68" pathLength="178" stroke="#12fcec" stroke-dasharray="0 24 2.05 119.95 5.05 8.95 1.05 7.95 1.05 7.95"/>
<path d="M312.05 13.62A312.35 312.35 0 0 1 -8.18 312.24A312.35 312.35 0 0 1 -312.34 -2.73" pathLength="178" stroke="#12fcec" stroke-dasharray="0 24 2.05 119.95 5.05 8.95 1.05 7.95 1.05 7.95"/>
<path d="M317.05 13.84A317.35 317.35 0 0 1 -8.31 317.24A317.35 317.35 0 0 1 -317.34 -2.77" pathLength="178" stroke="#12fcec" stroke-dasharray="0 24 2.05 119.95 5.05 17.95 1.05 7.95"/>
<path d="M322.04 14.06A322.35 322.35 0 0 1 -8.44 322.24A322.35 322.35 0 0 1 -322.34 -2.81" pathLength="178" stroke="#12fcec" stroke-dasharray="0 24 2.05 120.95 4.05 9.95 1.05 6.95 1.05 7.95"/>
<path d="M327.04 14.28A327.35 327.35 0 0 1 -8.57 327.24A327.35 327.35 0 0 1 -327.34 -2.86" pathLength="178" stroke="#12fcec" stroke-dasharray="0 24 2.05 3.95 1.05 115.95 5.05 7.95 2.05 6.95 1.05 7.95"/>
<path d="M332.03 14.50A332.35 332.35 0 0 1 -8.70 332.24A332.35 332.35 0 0 1 -332.34 -2.90" pathLength="178" stroke="#12fcec" stroke-dasharray="0 15 1.05 6.95 3.05 120.95 5.05 8.95 1.05 6.95 1.05 7.95"/>
<path d="M337.03 14.72A337.35 337.35 0 0 1 -8.83 337.23A337.35 337.35 0 0 1 -337.34 -2.94" pathLength="178" stroke="#12fcec" stroke-dasharray="0 15 1.05 6.95 2.05 121.95 5.05 8.95 1.05 6.95 1.05 7.95"/>
<path d="M342.02 14.93A342.35 342.35 0 0 1 -8.96 342.23A342.35 342.35 0 0 1 -342.34 -2.99" pathLength="178" stroke="#12fcec" stroke-dasharray="0 15 1.05 6.95 2.05 121.95 5.05 8.95 1.05 6.95 1.05 7.95"/>
<path d="M347.02 15.15A347.35 347.35 0 0 1 -9.09 347.23A347.35 347.35 0 0 1 -347.34 -3.03" pathLength="178" stroke="#12fcec" stroke-dasharray="0 15 1.05 6.95 2.05 104.95 2.05 14.95 5.05 8.95 1.05 6.95 1.05 7.95"/>
<path d="M352.01 15.37A352.35 352.35 0 0 1 -9.22 352.23A352.35 352.35 0 0 1 -352.34 -3.07" pathLength="178" stroke="#12fcec" stroke-dasharray="0 15 1.05 6.95 2.05 122.95 4.05 8.95 1.05 15.95"/>
<path d="M357.01 15.59A357.35 357.35 0 0 1 -9.35 357.23A357.35 357.35 0 0 1 -357.34 -3.12" pathLength="178" stroke="#12fcec" stroke-dasharray="0 15 1.05 6.95 2.05 123.95 3.05 8.95 1.05 15.95"/>
<path d="M362.01 15.81A362.35 362.35 0 0 1 -9.49 362.23A362.35 362.35 0 0 1 -362.34 -3.16" pathLength="178" stroke="#12fcec" stroke-dasharray="0 15 1.05 6.95 2.05 13.95 1.05 108.95 3.05 8.95 1.05 5.95 1.05 8.95"/>
<path d="M367.00 16.02A367.35 367.35 0 0 1 -9.62 367.22A367.35 367.35 0 0 1 -367.34 -3.21" pathLength="178" stroke="#12fcec" stroke-dasharray="0 12 1.05 1.95 1.05 6.95 1.05 97.95 1.05 10.95 1.05 13.95 3.05 8.95 1.05 15.95"/>
<path d="M372.00 16.24A372.35 372.35 0 0 1 -9.75 372.22A372.35 372.35 0 0 1 -372.34 -3.25" pathLength="178" stroke="#12fcec" stroke-dasharray="0 15 1.05 5.95 2.05 124.95 3.05 8.95 1.05 15.95"/>
<path d="M376.99 16.46A377.35 377.35 0 0 1 -9.88 377.22A377.35 377.35 0 0 1 -377.34 -3.29" pathLength="178" stroke="#12fcec" stroke-dasharray="0 22 2.05 124.95 2.05 9.95 1.05 14.95 1.05 0"/>
<path d="M381.99 16.68A382.35 382.35 0 0 1 -10.01 382.22A382.35 382.35 0 0 1 -382.34 -3.34" pathLength="178" stroke="#12fcec" stroke-dasharray="0 22 2.05 78.95 1.05 45.95 1.05 9.95 1.05 15.95"/>
<path d="M386.98 16.90A387.35 387.35 0 0 1 -10.14 387.22A387.35 387.35 0 0 1 -387.34 -3.38" pathLength="178" stroke="#12fcec" stroke-dasharray="0 22 2.05 3.95 1.05 120.95 1.05 9.95 1.05 10.95 1.05 3.95"/>
<path d="M391.98 17.11A392.35 392.35 0 0 1 -10.27 392.22A392.35 392.35 0 0 1 -392.34 -3.42" pathLength="178" stroke="#12fcec" stroke-dasharray="0 22 2.05 125.95 1.05 9.95 2.05 9.95 1.05 3.95"/>
<path d="M396.97 17.33A397.35 397.35 0 0 1 -10.40 397.21A397.35 397.35 0 0 1 -397.33 -3.47" pathLength="178" stroke="#12fcec" stroke-dasharray="0 22 2.05 125.95 2.05 8.95 2.05 6.95 1.05 6.95"/>
<path d="M401.97 17.55A402.35 402.35 0 0 1 -10.53 402.21A402.35 402.35 0 0 1 -402.33 -3.51" pathLength="178" stroke="#12fcec" stroke-dasharray="0 22 2.05 4.95 1.05 119.95 2.05 8.95 2.05 14.95"/>
<path d="M406.96 17.77A407.35 407.35 0 0 1 -10.66 407.21A407.35 407.35 0 0 1 -407.33 -3.55" pathLength="178" stroke="#12fcec" stroke-dasharray="0 21 3.05 79.95 1.05 44.95 2.05 8.95 2.05 14.95"/>
<path d="M411.96 17.99A412.35 412.35 0 0 1 -10.79 412.21A412.35 412.35 0 0 1 -412.33 -3.60" pathLength="178" stroke="#12fcec" stroke-dasharray="0 21 2.05 33.95 1.05 18.95 1.05 47.95 1.05 22.95 2.05 8.95 2.05 14.95"/>
<path d="M416.95 18.20A417.35 417.35 0 0 1 -10.92 417.21A417.35 417.35 0 0 1 -417.33 -3.64" pathLength="178" stroke="#12fcec" stroke-dasharray="0 21 2.05 102.95 1.05 22.95 2.05 8.95 2.05 14.95"/>
<path d="M421.95 18.42A422.35 422.35 0 0 1 -11.06 422.21A422.35 422.35 0 0 1 -422.33 -3.69" pathLength="178" stroke="#12fcec" stroke-dasharray="0 21 2.05 126.95 2.05 8.95 2.05 13.95 1.05 0"/>
<path d="M436.93 19.08A437.35 437.35 0 0 1 -11.45 437.20A437.35 437.35 0 0 1 -437.33 -3.82" pathLength="178" stroke="#12fcec" stroke-dasharray="0 21 2.05 45.95 1.05 26.95 1.05 52.95 1.05 8.95 2.05 0.95 1.05 12.95"/>
<path d="M441.93 19.30A442.35 442.35 0 0 1 -11.58 442.20A442.35 442.35 0 0 1 -442.33 -3.86" pathLength="178" stroke="#12fcec" stroke-dasharray="0 10 1.05 9.95 2.05 73.95 1.05 52.95 2.05 7.95 2.05 9.95 1.05 3.95"/>
<path d="M446.92 19.51A447.35 447.35 0 0 1 -11.71 447.20A447.35 447.35 0 0 1 -447.33 -3.90" pathLength="178" stroke="#12fcec" stroke-dasharray="0 20 3.05 74.95 1.05 51.95 2.05 8.95 1.05 9.95 1.05 3.95"/>
<path d="M451.92 19.73A452.35 452.35 0 0 1 -11.84 452.19A452.35 452.35 0 0 1 -452.33 -3.95" pathLength="178" stroke="#12fcec" stroke-dasharray="0 20 2.05 128.95 2.05 8.95 1.05 14.95"/>
<path d="M456.91 19.95A457.35 457.35 0 0 1 -11.97 457.19A457.35 457.35 0 0 1 -457.33 -3.99" pathLength="178" stroke="#12fcec" stroke-dasharray="0 20 2.05 23.95 1.05 103.95 2.05 7.95 2.05 14.95"/>
<path d="M461.91 20.17A462.35 462.35 0 0 1 -12.10 462.19A462.35 462.35 0 0 1 -462.33 -4.03" pathLength="178" stroke="#12fcec" stroke-dasharray="0 20 2.05 88.95 1.05 26.95 1.05 10.95 2.05 8.95 1.05 14.95"/>
<path d="M466.91 20.39A467.35 467.35 0 0 1 -12.23 467.19A467.35 467.35 0 0 1 -467.33 -4.08" pathLength="178" stroke="#12fcec" stroke-dasharray="0 20 2.05 71.95 1.05 55.95 2.05 8.95 1.05 14.95"/>
<path d="M471.90 20.60A472.35 472.35 0 0 1 -12.36 472.19A472.35 472.35 0 0 1 -472.33 -4.12" pathLength="178" stroke="#12fcec" stroke-dasharray="0 20 2.05 128.95 2.05 1.95 1.05 5.95 1.05 14.95"/>
<path d="M476.90 20.82A477.35 477.35 0 0 1 -12.50 477.19A477.35 477.35 0 0 1 -477.33 -4.17" pathLength="178" stroke="#12fcec" stroke-dasharray="0 19 3.05 23.95 1.05 32.95 1.05 16.95 1.05 14.95 1.05 35.95 2.05 8.95 1.05 14.95"/>
<path d="M481.89 21.04A482.35 482.35 0 0 1 -12.63 482.18A482.35 482.35 0 0 1 -482.33 -4.21" pathLength="178" stroke="#12fcec" stroke-dasharray="0 20 2.05 43.95 1.05 9.95 1.05 0.95 3.05 5.95 1.05 0.95 1.05 1.95 1.05 44.95 1.05 10.95 2.05 8.95 1.05 3.95 1.05 9.95"/>
<path d="M486.89 21.26A487.35 487.35 0 0 1 -12.76 487.18A487.35 487.35 0 0 1 -487.33 -4.25" pathLength="178" stroke="#12fcec" stroke-dasharray="0 20 2.05 53.95 11.05 0.95 6.05 56.95 2.05 8.95 1.05 14.95"/>
<path d="M491.88 21.48A492.35 492.35 0 0 1 -12.89 492.18A492.35 492.35 0 0 1 -492.33 -4.30" pathLength="178" stroke="#12fcec" stroke-dasharray="0 20 1.05 36.95 1.05 12.95 1.05 0.95 22.05 0.95 1.05 25.95 1.05 25.95 2.05 8.95 1.05 14.95"/>
<path d="M496.88 21.69A497.35 497.35 0 0 1 -13.02 497.18A497.35 497.35 0 0 1 -497.33 -4.34" pathLength="178" stroke="#12fcec" stroke-dasharray="0 19 2.05 50.95 29.05 49.95 2.05 8.95 1.05 10.95 1.05 2.95"/>
<path d="M501.87 21.91A502.35 502.35 0 0 1 -13.15 502.18A502.35 502.35 0 0 1 -502.33 -4.38" pathLength="178" stroke="#12fcec" stroke-dasharray="0 19 2.05 46.95 1.05 0.95 33.05 47.95 2.05 8.95 1.05 14.95"/>
<path d="M506.87 22.13A507.35 507.35 0 0 1 -13.28 507.18A507.35 507.35 0 0 1 -507.33 -4.43" pathLength="178" stroke="#12fcec" stroke-dasharray="0 19 2.05 34.95 1.05 10.95 37.05 46.95 2.05 7.95 1.05 14.95"/>
<path d="M137.22 5.99A137.35 137.35 0 0 1 -3.60 137.30A137.35 137.35 0 0 1 -137.34 -1.20" pathLength="178" stroke="#1effe0" stroke-dasharray="0 29 2.05 108.95 3.05 34.95"/>
<path d="M147.21 6.43A147.35 147.35 0 0 1 -3.86 147.30A147.35 147.35 0 0 1 -147.34 -1.29" pathLength="178" stroke="#1effe0" stroke-dasharray="0 29 2.05 109.95 2.05 34.95"/>
<path d="M152.20 6.65A152.35 152.35 0 0 1 -3.99 152.30A152.35 152.35 0 0 1 -152.34 -1.33" pathLength="178" stroke="#1effe0" stroke-dasharray="0 28 2.05 110.95 3.05 33.95"/>
<path d="M162.20 7.08A162.35 162.35 0 0 1 -4.25 162.29A162.35 162.35 0 0 1 -162.34 -1.42" pathLength="178" stroke="#1effe0" stroke-dasharray="0 28 1.05 112.95 3.05 32.95"/>
<path d="M167.19 7.30A167.35 167.35 0 0 1 -4.38 167.29A167.35 167.35 0 0 1 -167.34 -1.46" pathLength="178" stroke="#1effe0" stroke-dasharray="0 28 1.05 112.95 3.05 32.95"/>
<path d="M182.18 7.95A182.35 182.35 0 0 1 -4.77 182.29A182.35 182.35 0 0 1 -182.34 -1.59" pathLength="178" stroke="#1effe0" stroke-dasharray="0 28 1.05 111.95 1.05 0.95 3.05 31.95"/>
<path d="M187.17 8.17A187.35 187.35 0 0 1 -4.90 187.29A187.35 187.35 0 0 1 -187.34 -1.63" pathLength="178" stroke="#1effe0" stroke-dasharray="0 28 1.05 111.95 1.05 0.95 3.05 31.95"/>
<path d="M197.16 8.61A197.35 197.35 0 0 1 -5.17 197.28A197.35 197.35 0 0 1 -197.34 -1.72" pathLength="178" stroke="#1effe0" stroke-dasharray="0 27 1.05 113.95 4.05 31.95"/>
<path d="M202.16 8.83A202.35 202.35 0 0 1 -5.30 202.28A202.35 202.35 0 0 1 -202.34 -1.77" pathLength="178" stroke="#1effe0" stroke-dasharray="0 27 1.05 113.95 5.05 30.95"/>
<path d="M207.15 9.04A207.35 207.35 0 0 1 -5.43 207.28A207.35 207.35 0 0 1 -207.34 -1.81" pathLength="178" stroke="#1effe0" stroke-dasharray="0 27 1.05 113.95 1.05 0.95 3.05 30.95"/>
<path d="M212.15 9.26A212.35 212.35 0 0 1 -5.56 212.28A212.35 212.35 0 0 1 -212.34 -1.85" pathLength="178" stroke="#1effe0" stroke-dasharray="0 27 1.05 115.95 3.05 30.95"/>
<path d="M217.14 9.48A217.35 217.35 0 0 1 -5.69 217.28A217.35 217.35 0 0 1 -217.34 -1.90" pathLength="178" stroke="#1effe0" stroke-dasharray="0 27 1.05 114.95 1.05 0.95 2.05 20.95 1.05 8.95"/>
<path d="M222.14 9.70A222.35 222.35 0 0 1 -5.82 222.27A222.35 222.35 0 0 1 -222.34 -1.94" pathLength="178" stroke="#1effe0" stroke-dasharray="0 26 2.05 114.95 1.05 0.95 2.05 20.95 1.05 8.95"/>
<path d="M227.13 9.92A227.35 227.35 0 0 1 -5.95 227.27A227.35 227.35 0 0 1 -227.34 -1.98" pathLength="178" stroke="#1effe0" stroke-dasharray="0 26 2.05 114.95 5.05 19.95 1.05 8.95"/>
<path d="M232.13 10.13A232.35 232.35 0 0 1 -6.08 232.27A232.35 232.35 0 0 1 -232.34 -2.03" pathLength="178" stroke="#1effe0" stroke-dasharray="0 26 2.05 115.95 4.05 19.95 1.05 8.95"/>
<path d="M237.12 10.35A237.35 237.35 0 0 1 -6.21 237.27A237.35 237.35 0 0 1 -237.34 -2.07" pathLength="178" stroke="#1effe0" stroke-dasharray="0 26 2.05 115.95 4.05 19.95 1.05 8.95"/>
<path d="M242.12 10.57A242.35 242.35 0 0 1 -6.34 242.27A242.35 242.35 0 0 1 -242.34 -2.11" pathLength="178" stroke="#1effe0" stroke-dasharray="0 26 1.05 116.95 4.05 19.95 1.05 8.95"/>
<path d="M247.11 10.79A247.35 247.35 0 0 1 -6.47 247.27A247.35 247.35 0 0 1 -247.34 -2.16" pathLength="178" stroke="#1effe0" stroke-dasharray="0 26 1.05 116.95 5.05 18.95 1.05 8.95"/>
<path d="M252.11 11.01A252.35 252.35 0 0 1 -6.61 252.26A252.35 252.35 0 0 1 -252.34 -2.20" pathLength="178" stroke="#1effe0" stroke-dasharray="0 26 1.05 116.95 5.05 18.95 1.05 8.95"/>
<path d="M257.11 11.23A257.35 257.35 0 0 1 -6.74 257.26A257.35 257.35 0 0 1 -257.34 -2.25" pathLength="178" stroke="#1effe0" stroke-dasharray="0 26 1.05 116.95 5.05 18.95 1.05 8.95"/>
<path d="M262.10 11.44A262.35 262.35 0 0 1 -6.87 262.26A262.35 262.35 0 0 1 -262.34 -2.29" pathLength="178" stroke="#1effe0" stroke-dasharray="0 25 2.05 116.95 5.05 18.95 1.05 8.95"/>
<path d="M267.10 11.66A267.35 267.35 0 0 1 -7.00 267.26A267.35 267.35 0 0 1 -267.34 -2.33" pathLength="178" stroke="#1effe0" stroke-dasharray="0 25 2.05 117.95 4.05 18.95 1.05 8.95"/>
<path d="M272.09 11.88A272.35 272.35 0 0 1 -7.13 272.26A272.35 272.35 0 0 1 -272.34 -2.38" pathLength="178" stroke="#1effe0" stroke-dasharray="0 25 2.05 117.95 5.05 27.95"/>
<path d="M277.09 12.10A277.35 277.35 0 0 1 -7.26 277.25A277.35 277.35 0 0 1 -277.34 -2.42" pathLength="178" stroke="#1effe0" stroke-dasharray="0 25 2.05 117.95 5.05 27.95"/>
<path d="M282.08 12.32A282.35 282.35 0 0 1 -7.39 282.25A282.35 282.35 0 0 1 -282.34 -2.46" pathLength="178" stroke="#1effe0" stroke-dasharray="0 25 1.05 118.95 5.05 27.95"/>
<path d="M287.08 12.53A287.35 287.35 0 0 1 -7.52 287.25A287.35 287.35 0 0 1 -287.34 -2.51" pathLength="178" stroke="#1effe0" stroke-dasharray="0 25 1.05 118.95 5.05 9.95 1.05 16.95"/>
<path d="M292.07 12.75A292.35 292.35 0 0 1 -7.65 292.25A292.35 292.35 0 0 1 -292.34 -2.55" pathLength="178" stroke="#1effe0" stroke-dasharray="0 25 1.05 118.95 5.05 9.95 1.05 16.95"/>
<path d="M297.07 12.97A297.35 297.35 0 0 1 -7.78 297.25A297.35 297.35 0 0 1 -297.34 -2.59" pathLength="178" stroke="#1effe0" stroke-dasharray="0 25 1.05 119.95 5.05 8.95 1.05 16.95"/>
<path d="M302.06 13.19A302.35 302.35 0 0 1 -7.91 302.25A302.35 302.35 0 0 1 -302.34 -2.64" pathLength="178" stroke="#1effe0" stroke-dasharray="0 24 2.05 120.95 4.05 26.95"/>
<path d="M307.06 13.41A307.35 307.35 0 0 1 -8.05 307.24A307.35 307.35 0 0 1 -307.34 -2.68" pathLength="178" stroke="#1effe0" stroke-dasharray="0 24 2.05 119.95 5.05 17.95 1.05 7.95"/>
<path d="M312.05 13.62A312.35 312.35 0 0 1 -8.18 312.24A312.35 312.35 0 0 1 -312.34 -2.73" pathLength="178" stroke="#1effe0" stroke-dasharray="0 24 2.05 120.95 4.05 17.95 1.05 7.95"/>
<path d="M317.05 13.84A317.35 317.35 0 0 1 -8.31 317.24A317.35 317.35 0 0 1 -317.34 -2.77" pathLength="178" stroke="#1effe0" stroke-dasharray="0 24 2.05 120.95 4.05 17.95 1.05 7.95"/>
<path d="M322.04 14.06A322.35 322.35 0 0 1 -8.44 322.24A322.35 322.35 0 0 1 -322.34 -2.81" pathLength="178" stroke="#1effe0" stroke-dasharray="0 24 2.05 120.95 4.05 17.95 1.05 7.95"/>
<path d="M327.04 14.28A327.35 327.35 0 0 1 -8.57 327.24A327.35 327.35 0 0 1 -327.34 -2.86" pathLength="178" stroke="#1effe0" stroke-dasharray="0 24 2.05 120.95 5.05 16.95 1.05 7.95"/>
<path d="M332.03 14.50A332.35 332.35 0 0 1 -8.70 332.24A332.35 332.35 0 0 1 -332.34 -2.90" pathLength="178" stroke="#1effe0" stroke-dasharray="0 24 1.05 121.95 5.05 8.95 1.05 6.95 1.05 7.95"/>
<path d="M337.03 14.72A337.35 337.35 0 0 1 -8.83 337.23A337.35 337.35 0 0 1 -337.34 -2.94" pathLength="178" stroke="#1effe0" stroke-dasharray="0 23 2.05 121.95 5.05 8.95 1.05 6.95 1.05 7.95"/>
<path d="M342.02 14.93A342.35 342.35 0 0 1 -8.96 342.23A342.35 342.35 0 0 1 -342.34 -2.99" pathLength="178" stroke="#1effe0" stroke-dasharray="0 23 2.05 122.95 4.05 8.95 1.05 6.95 1.05 7.95"/>
<path d="M347.02 15.15A347.35 347.35 0 0 1 -9.09 347.23A347.35 347.35 0 0 1 -347.34 -3.03" pathLength="178" stroke="#1effe0" stroke-dasharray="0 23 2.05 122.95 4.05 8.95 1.05 6.95 1.05 7.95"/>
<path d="M352.01 15.37A352.35 352.35 0 0 1 -9.22 352.23A352.35 352.35 0 0 1 -352.34 -3.07" pathLength="178" stroke="#1effe0" stroke-dasharray="0 23 2.05 123.95 3.05 8.95 1.05 15.95"/>
<path d="M357.01 15.59A357.35 357.35 0 0 1 -9.35 357.23A357.35 357.35 0 0 1 -357.34 -3.12" pathLength="178" stroke="#1effe0" stroke-dasharray="0 23 2.05 123.95 3.05 8.95 1.05 15.95"/>
<path d="M362.01 15.81A362.35 362.35 0 0 1 -9.49 362.23A362.35 362.35 0 0 1 -362.34 -3.16" pathLength="178" stroke="#1effe0" stroke-dasharray="0 23 1.05 124.95 3.05 8.95 1.05 15.95"/>
<path d="M367.00 16.02A367.35 367.35 0 0 1 -9.62 367.22A367.35 367.35 0 0 1 -367.34 -3.21" pathLength="178" stroke="#1effe0" stroke-dasharray="0 23 1.05 124.95 1.05 0.95 1.05 8.95 1.05 15.95"/>
<path d="M372.00 16.24A372.35 372.35 0 0 1 -9.75 372.22A372.35 372.35 0 0 1 -372.34 -3.25" pathLength="178" stroke="#1effe0" stroke-dasharray="0 23 1.05 124.95 1.05 10.95 1.05 15.95"/>
<path d="M376.99 16.46A377.35 377.35 0 0 1 -9.88 377.22A377.35 377.35 0 0 1 -377.34 -3.29" pathLength="178" stroke="#1effe0" stroke-dasharray="0 22 2.05 125.95 1.05 9.95 1.05 15.95"/>
<path d="M381.99 16.68A382.35 382.35 0 0 1 -10.01 382.22A382.35 382.35 0 0 1 -382.34 -3.34" pathLength="178" stroke="#1effe0" stroke-dasharray="0 22 2.05 125.95 1.05 9.95 1.05 15.95"/>
<path d="M386.98 16.90A387.35 387.35 0 0 1 -10.14 387.22A387.35 387.35 0 0 1 -387.34 -3.38" pathLength="178" stroke="#1effe0" stroke-dasharray="0 22 2.05 125.95 1.05 9.95 1.05 15.95"/>
<path d="M391.98 17.11A392.35 392.35 0 0 1 -10.27 392.22A392.35 392.35 0 0 1 -392.34 -3.42" pathLength="178" stroke="#1effe0" stroke-dasharray="0 22 2.05 125.95 1.05 9.95 1.05 15.95"/>
<path d="M396.97 17.33A397.35 397.35 0 0 1 -10.40 397.21A397.35 397.35 0 0 1 -397.33 -3.47" pathLength="178" stroke="#1effe0" stroke-dasharray="0 22 2.05 125.95 1.05 9.95 1.05 15.95"/>
<path d="M401.97 17.55A402.35 402.35 0 0 1 -10.53 402.21A402.35 402.35 0 0 1 -402.33 -3.51" pathLength="178" stroke="#1effe0" stroke-dasharray="0 22 2.05 125.95 2.05 8.95 1.05 15.95"/>
<path d="M406.96 17.77A407.35 407.35 0 0 1 -10.66 407.21A407.35 407.35 0 0 1 -407.33 -3.55" pathLength="178" stroke="#1effe0" stroke-dasharray="0 22 1.05 126.95 2.05 8.95 2.05 14.95"/>
<path d="M411.96 17.99A412.35 412.35 0 0 1 -10.79 412.21A412.35 412.35 0 0 1 -412.33 -3.60" pathLength="178" stroke="#1effe0" stroke-dasharray="0 22 1.05 126.95 2.05 8.95 2.05 14.95"/>
<path d="M416.95 18.20A417.35 417.35 0 0 1 -10.92 417.21A417.35 417.35 0 0 1 -417.33 -3.64" pathLength="178" stroke="#1effe0" stroke-dasharray="0 21 2.05 127.95 1.05 9.95 1.05 14.95"/>
<path d="M421.95 18.42A422.35 422.35 0 0 1 -11.06 422.21A422.35 422.35 0 0 1 -422.33 -3.69" pathLength="178" stroke="#1effe0" stroke-dasharray="0 21 2.05 127.95 1.05 9.95 1.05 14.95"/>
<path d="M431.94 18.86A432.35 432.35 0 0 1 -11.32 432.20A432.35 432.35 0 0 1 -432.33 -3.77" pathLength="178" stroke="#1effe0" stroke-dasharray="0 21 2.05 127.95 1.05 8.95 2.05 14.95"/>
<path d="M436.93 19.08A437.35 437.35 0 0 1 -11.45 437.20A437.35 437.35 0 0 1 -437.33 -3.82" pathLength="178" stroke="#1effe0" stroke-dasharray="0 21 2.05 127.95 1.05 8.95 2.05 14.95"/>
<path d="M441.93 19.30A442.35 442.35 0 0 1 -11.58 442.20A442.35 442.35 0 0 1 -442.33 -3.86" pathLength="178" stroke="#1effe0" stroke-dasharray="0 21 2.05 127.95 2.05 8.95 1.05 14.95"/>
<path d="M446.92 19.51A447.35 447.35 0 0 1 -11.71 447.20A447.35 447.35 0 0 1 -447.33 -3.90" pathLength="178" stroke="#1effe0" stroke-dasharray="0 20 3.05 127.95 2.05 8.95 1.05 14.95"/>
<path d="M456.91 19.95A457.35 457.35 0 0 1 -11.97 457.19A457.35 457.35 0 0 1 -457.33 -3.99" pathLength="178" stroke="#1effe0" stroke-dasharray="0 20 2.05 128.95 2.05 8.95 1.05 14.95"/>
<path d="M461.91 20.17A462.35 462.35 0 0 1 -12.10 462.19A462.35 462.35 0 0 1 -462.33 -4.03" pathLength="178" stroke="#1effe0" stroke-dasharray="0 20 2.05 128.95 2.05 8.95 1.05 14.95"/>
<path d="M481.89 21.04A482.35 482.35 0 0 1 -12.63 482.18A482.35 482.35 0 0 1 -482.33 -4.21" pathLength="178" stroke="#1effe0" stroke-dasharray="0 20 2.05 56.95 3.05 5.95 1.05 0.95 1.05 59.95 2.05 8.95 1.05 14.95"/>
<path d="M486.89 21.26A487.35 487.35 0 0 1 -12.76 487.18A487.35 487.35 0 0 1 -487.33 -4.25" pathLength="178" stroke="#1effe0" stroke-dasharray="0 20 2.05 53.95 9.05 2.95 6.05 56.95 2.05 8.95 1.05 14.95"/>
<path d="M491.88 21.48A492.35 492.35 0 0 1 -12.89 492.18A492.35 492.35 0 0 1 -492.33 -4.30" pathLength="178" stroke="#1effe0" stroke-dasharray="0 20 1.05 52.95 22.05 54.95 2.05 8.95 1.05 14.95"/>
<path d="M496.88 21.69A497.35 497.35 0 0 1 -13.02 497.18A497.35 497.35 0 0 1 -497.33 -4.34" pathLength="178" stroke="#1effe0" stroke-dasharray="0 20 1.05 50.95 29.05 49.95 2.05 8.95 1.05 10.95 1.05 2.95"/>
<path d="M501.87 21.91A502.35 502.35 0 0 1 -13.15 502.18A502.35 502.35 0 0 1 -502.33 -4.38" pathLength="178" stroke="#1effe0" stroke-dasharray="0 19 2.05 46.95 1.05 1.95 30.05 49.95 2.05 8.95 1.05 14.95"/>
<path d="M506.87 22.13A507.35 507.35 0 0 1 -13.28 507.18A507.35 507.35 0 0 1 -507.33 -4.43" pathLength="178" stroke="#1effe0" stroke-dasharray="0 19 2.05 34.95 1.05 10.95 37.05 46.95 1.05 8.95 1.05 14.95"/>
<path d="M137.22 5.99A137.35 137.35 0 0 1 -3.60 137.30A137.35 137.35 0 0 1 -137.34 -1.20" pathLength="178" stroke="#54ffaa" stroke-dasharray="0 29 2.05 109.95 2.05 34.95"/>
<path d="M142.21 6.21A142.35 142.35 0 0 1 -3.73 142.30A142.35 142.35 0 0 1 -142.34 -1.24" pathLength="178" stroke="#54ffaa" stroke-dasharray="0 29 2.05 109.95 2.05 34.95"/>
<path d="M147.21 6.43A147.35 147.35 0 0 1 -3.86 147.30A147.35 147.35 0 0 1 -147.34 -1.29" pathLength="178" stroke="#54ffaa" stroke-dasharray="0 29 1.05 110.95 2.05 34.95"/>
<path d="M162.20 7.08A162.35 162.35 0 0 1 -4.25 162.29A162.35 162.35 0 0 1 -162.34 -1.42" pathLength="178" stroke="#54ffaa" stroke-dasharray="0 28 1.05 112.95 2.05 33.95"/>
<path d="M187.17 8.17A187.35 187.35 0 0 1 -4.90 187.29A187.35 187.35 0 0 1 -187.34 -1.63" pathLength="178" stroke="#54ffaa" stroke-dasharray="0 28 1.05 113.95 3.05 31.95"/>
<path d="M192.17 8.39A192.35 192.35 0 0 1 -5.04 192.28A192.35 192.35 0 0 1 -192.34 -1.68" pathLength="178" stroke="#54ffaa" stroke-dasharray="0 27 2.05 114.95 2.05 31.95"/>
<path d="M202.16 8.83A202.35 202.35 0 0 1 -5.30 202.28A202.35 202.35 0 0 1 -202.34 -1.77" pathLength="178" stroke="#54ffaa" stroke-dasharray="0 27 1.05 115.95 2.05 31.95"/>
<path d="M222.14 9.70A222.35 222.35 0 0 1 -5.82 222.27A222.35 222.35 0 0 1 -222.34 -1.94" pathLength="178" stroke="#54ffaa" stroke-dasharray="0 26 2.05 116.95 2.05 30.95"/>
<path d="M227.13 9.92A227.35 227.35 0 0 1 -5.95 227.27A227.35 227.35 0 0 1 -227.34 -1.98" pathLength="178" stroke="#54ffaa" stroke-dasharray="0 26 2.05 116.95 3.05 29.95"/>
<path d="M232.13 10.13A232.35 232.35 0 0 1 -6.08 232.27A232.35 232.35 0 0 1 -232.34 -2.03" pathLength="178" stroke="#54ffaa" stroke-dasharray="0 26 2.05 116.95 3.05 29.95"/>
<path d="M237.12 10.35A237.35 237.35 0 0 1 -6.21 237.27A237.35 237.35 0 0 1 -237.34 -2.07" pathLength="178" stroke="#54ffaa" stroke-dasharray="0 26 1.05 117.95 3.05 29.95"/>
<path d="M242.12 10.57A242.35 242.35 0 0 1 -6.34 242.27A242.35 242.35 0 0 1 -242.34 -2.11" pathLength="178" stroke="#54ffaa" stroke-dasharray="0 26 1.05 117.95 3.05 29.95"/>
<path d="M247.11 10.79A247.35 247.35 0 0 1 -6.47 247.27A247.35 247.35 0 0 1 -247.34 -2.16" pathLength="178" stroke="#54ffaa" stroke-dasharray="0 26 1.05 117.95 3.05 29.95"/>
<path d="M252.11 11.01A252.35 252.35 0 0 1 -6.61 252.26A252.35 252.35 0 0 1 -252.34 -2.20" pathLength="178" stroke="#54ffaa" stroke-dasharray="0 26 1.05 117.95 4.05 28.95"/>
<path d="M267.10 11.66A267.35 267.35 0 0 1 -7.00 267.26A267.35 267.35 0 0 1 -267.34 -2.33" pathLength="178" stroke="#54ffaa" stroke-dasharray="0 25 2.05 118.95 3.05 28.95"/>
<path d="M272.09 11.88A272.35 272.35 0 0 1 -7.13 272.26A272.35 272.35 0 0 1 -272.34 -2.38" pathLength="178" stroke="#54ffaa" stroke-dasharray="0 25 2.05 118.95 3.05 28.95"/>
<path d="M277.09 12.10A277.35 277.35 0 0 1 -7.26 277.25A277.35 277.35 0 0 1 -277.34 -2.42" pathLength="178" stroke="#54ffaa" stroke-dasharray="0 25 2.05 118.95 4.05 27.95"/>
<path d="M292.07 12.75A292.35 292.35 0 0 1 -7.65 292.25A292.35 292.35 0 0 1 -292.34 -2.55" pathLength="178" stroke="#54ffaa" stroke-dasharray="0 25 1.05 120.95 3.05 27.95"/>
<path d="M297.07 12.97A297.35 297.35 0 0 1 -7.78 297.25A297.35 297.35 0 0 1 -297.34 -2.59" pathLength="178" stroke="#54ffaa" stroke-dasharray="0 25 1.05 120.95 4.05 26.95"/>
<path d="M302.06 13.19A302.35 302.35 0 0 1 -7.91 302.25A302.35 302.35 0 0 1 -302.34 -2.64" pathLength="178" stroke="#54ffaa" stroke-dasharray="0 25 1.05 120.95 4.05 26.95"/>
<path d="M307.06 13.41A307.35 307.35 0 0 1 -8.05 307.24A307.35 307.35 0 0 1 -307.34 -2.68" pathLength="178" stroke="#54ffaa" stroke-dasharray="0 24 2.05 120.95 4.05 26.95"/>
<path d="M312.05 13.62A312.35 312.35 0 0 1 -8.18 312.24A312.35 312.35 0 0 1 -312.34 -2.73" pathLength="178" stroke="#54ffaa" stroke-dasharray="0 24 2.05 120.95 4.05 26.95"/>
<path d="M317.05 13.84A317.35 317.35 0 0 1 -8.31 317.24A317.35 317.35 0 0 1 -317.34 -2.77" pathLength="178" stroke="#54ffaa" stroke-dasharray="0 24 2.05 121.95 3.05 26.95"/>
<path d="M327.04 14.28A327.35 327.35 0 0 1 -8.57 327.24A327.35 327.35 0 0 1 -327.34 -2.86" pathLength="178" stroke="#54ffaa" stroke-dasharray="0 24 1.05 122.95 4.05 25.95"/>
<path d="M332.03 14.50A332.35 332.35 0 0 1 -8.70 332.24A332.35 332.35 0 0 1 -332.34 -2.90" pathLength="178" stroke="#54ffaa" stroke-dasharray="0 24 1.05 122.95 4.05 25.95"/>
<path d="M342.02 14.93A342.35 342.35 0 0 1 -8.96 342.23A342.35 342.35 0 0 1 -342.34 -2.99" pathLength="178" stroke="#54ffaa" stroke-dasharray="0 23 2.05 123.95 3.05 25.95"/>
<path d="M347.02 15.15A347.35 347.35 0 0 1 -9.09 347.23A347.35 347.35 0 0 1 -347.34 -3.03" pathLength="178" stroke="#54ffaa" stroke-dasharray="0 23 2.05 123.95 3.05 8.95 1.05 15.95"/>
<path d="M352.01 15.37A352.35 352.35 0 0 1 -9.22 352.23A352.35 352.35 0 0 1 -352.34 -3.07" pathLength="178" stroke="#54ffaa" stroke-dasharray="0 23 2.05 124.95 2.05 8.95 1.05 15.95"/>
<path d="M362.01 15.81A362.35 362.35 0 0 1 -9.49 362.23A362.35 362.35 0 0 1 -362.34 -3.16" pathLength="178" stroke="#54ffaa" stroke-dasharray="0 23 1.05 126.95 1.05 8.95 1.05 15.95"/>
<path d="M376.99 16.46A377.35 377.35 0 0 1 -9.88 377.22A377.35 377.35 0 0 1 -377.34 -3.29" pathLength="178" stroke="#54ffaa" stroke-dasharray="0 22 2.05 136.95 1.05 15.95"/>
<path d="M391.98 17.11A392.35 392.35 0 0 1 -10.27 392.22A392.35 392.35 0 0 1 -392.34 -3.42" pathLength="178" stroke="#54ffaa" stroke-dasharray="0 22 2.05 136.95 1.05 15.95"/>
<path d="M396.97 17.33A397.35 397.35 0 0 1 -10.40 397.21A397.35 397.35 0 0 1 -397.33 -3.47" pathLength="178" stroke="#54ffaa" stroke-dasharray="0 22 1.05 137.95 1.05 15.95"/>
<path d="M406.96 17.77A407.35 407.35 0 0 1 -10.66 407.21A407.35 407.35 0 0 1 -407.33 -3.55" pathLength="178" stroke="#54ffaa" stroke-dasharray="0 22 1.05 127.95 1.05 25.95"/>
<path d="M416.95 18.20A417.35 417.35 0 0 1 -10.92 417.21A417.35 417.35 0 0 1 -417.33 -3.64" pathLength="178" stroke="#54ffaa" stroke-dasharray="0 21 2.05 127.95 1.05 25.95"/>
<path d="M426.94 18.64A427.35 427.35 0 0 1 -11.19 427.20A427.35 427.35 0 0 1 -427.33 -3.73" pathLength="178" stroke="#54ffaa" stroke-dasharray="0 21 2.05 127.95 1.05 9.95 1.05 14.95"/>
<path d="M431.94 18.86A432.35 432.35 0 0 1 -11.32 432.20A432.35 432.35 0 0 1 -432.33 -3.77" pathLength="178" stroke="#54ffaa" stroke-dasharray="0 21 2.05 127.95 1.05 9.95 1.05 14.95"/>
<path d="M441.93 19.30A442.35 442.35 0 0 1 -11.58 442.20A442.35 442.35 0 0 1 -442.33 -3.86" pathLength="178" stroke="#54ffaa" stroke-dasharray="0 21 2.05 127.95 1.05 9.95 1.05 14.95"/>
<path d="M456.91 19.95A457.35 457.35 0 0 1 -11.97 457.19A457.35 457.35 0 0 1 -457.33 -3.99" pathLength="178" stroke="#54ffaa" stroke-dasharray="0 21 1.05 128.95 2.05 8.95 1.05 14.95"/>
<path d="M481.89 21.04A482.35 482.35 0 0 1 -12.63 482.18A482.35 482.35 0 0 1 -482.33 -4.21" pathLength="178" stroke="#54ffaa" stroke-dasharray="0 20 2.05 56.95 3.05 7.95 1.05 59.95 2.05 8.95 1.05 14.95"/>
<path d="M486.89 21.26A487.35 487.35 0 0 1 -12.76 487.18A487.35 487.35 0 0 1 -487.33 -4.25" pathLength="178" stroke="#54ffaa" stroke-dasharray="0 20 1.05 55.95 7.05 3.95 1.05 0.95 2.05 0.95 1.05 57.95 1.05 8.95 1.05 14.95"/>
<path d="M496.88 21.69A497.35 497.35 0 0 1 -13.02 497.18A497.35 497.35 0 0 1 -497.33 -4.34" pathLength="178" stroke="#54ffaa" stroke-dasharray="0 20 1.05 50.95 27.05 51.95 2.05 8.95 1.05 14.95"/>
<path d="M501.87 21.91A502.35 502.35 0 0 1 -13.15 502.18A502.35 502.35 0 0 1 -502.33 -4.38" pathLength="178" stroke="#54ffaa" stroke-dasharray="0 20 1.05 49.95 30.05 50.95 1.05 8.95 1.05 14.95"/>
<path d="M506.87 22.13A507.35 507.35 0 0 1 -13.28 507.18A507.35 507.35 0 0 1 -507.33 -4.43" pathLength="178" stroke="#54ffaa" stroke-dasharray="0 19 2.05 46.95 37.05 46.95 1.05 8.95 1.05 14.95"/>
<path d="M132.22 5.77A132.35 132.35 0 0 1 -3.46 132.30A132.35 132.35 0 0 1 -132.34 -1.15" pathLength="178" stroke="#7cff82" stroke-dasharray="0 29 2.05 108.95 2.05 35.95"/>
<path d="M142.21 6.21A142.35 142.35 0 0 1 -3.73 142.30A142.35 142.35 0 0 1 -142.34 -1.24" pathLength="178" stroke="#7cff82" stroke-dasharray="0 29 1.05 110.95 2.05 34.95"/>
<path d="M147.21 6.43A147.35 147.35 0 0 1 -3.86 147.30A147.35 147.35 0 0 1 -147.34 -1.29" pathLength="178" stroke="#7cff82" stroke-dasharray="0 141 2.05 34.95"/>
<path d="M152.20 6.65A152.35 152.35 0 0 1 -3.99 152.30A152.35 152.35 0 0 1 -152.34 -1.33" pathLength="178" stroke="#7cff82" stroke-dasharray="0 142 2.05 33.95"/>
<path d="M157.20 6.86A157.35 157.35 0 0 1 -4.12 157.30A157.35 157.35 0 0 1 -157.34 -1.37" pathLength="178" stroke="#7cff82" stroke-dasharray="0 28 1.05 112.95 2.05 33.95"/>
<path d="M182.18 7.95A182.35 182.35 0 0 1 -4.77 182.29A182.35 182.35 0 0 1 -182.34 -1.59" pathLength="178" stroke="#7cff82" stroke-dasharray="0 28 1.05 113.95 2.05 32.95"/>
<path d="M187.17 8.17A187.35 187.35 0 0 1 -4.90 187.29A187.35 187.35 0 0 1 -187.34 -1.63" pathLength="178" stroke="#7cff82" stroke-dasharray="0 28 1.05 114.95 2.05 31.95"/>
<path d="M197.16 8.61A197.35 197.35 0 0 1 -5.17 197.28A197.35 197.35 0 0 1 -197.34 -1.72" pathLength="178" stroke="#7cff82" stroke-dasharray="0 27 1.05 115.95 2.05 31.95"/>
<path d="M207.15 9.04A207.35 207.35 0 0 1 -5.43 207.28A207.35 207.35 0 0 1 -207.34 -1.81" pathLength="178" stroke="#7cff82" stroke-dasharray="0 27 1.05 116.95 2.05 30.95"/>
<path d="M222.14 9.70A222.35 222.35 0 0 1 -5.82 222.27A222.35 222.35 0 0 1 -222.34 -1.94" pathLength="178" stroke="#7cff82" stroke-dasharray="0 27 1.05 116.95 2.05 30.95"/>
<path d="M227.13 9.92A227.35 227.35 0 0 1 -5.95 227.27A227.35 227.35 0 0 1 -227.34 -1.98" pathLength="178" stroke="#7cff82" stroke-dasharray="0 27 1.05 116.95 2.05 30.95"/>
<path d="M232.13 10.13A232.35 232.35 0 0 1 -6.08 232.27A232.35 232.35 0 0 1 -232.34 -2.03" pathLength="178" stroke="#7cff82" stroke-dasharray="0 26 2.05 117.95 2.05 29.95"/>
<path d="M252.11 11.01A252.35 252.35 0 0 1 -6.61 252.26A252.35 252.35 0 0 1 -252.34 -2.20" pathLength="178" stroke="#7cff82" stroke-dasharray="0 26 1.05 118.95 3.05 28.95"/>
<path d="M257.11 11.23A257.35 257.35 0 0 1 -6.74 257.26A257.35 257.35 0 0 1 -257.34 -2.25" pathLength="178" stroke="#7cff82" stroke-dasharray="0 26 1.05 118.95 3.05 28.95"/>
<path d="M262.10 11.44A262.35 262.35 0 0 1 -6.87 262.26A262.35 262.35 0 0 1 -262.34 -2.29" pathLength="178" stroke="#7cff82" stroke-dasharray="0 26 1.05 118.95 3.05 28.95"/>
<path d="M267.10 11.66A267.35 267.35 0 0 1 -7.00 267.26A267.35 267.35 0 0 1 -267.34 -2.33" pathLength="178" stroke="#7cff82" stroke-dasharray="0 26 1.05 119.95 2.05 28.95"/>
<path d="M287.08 12.53A287.35 287.35 0 0 1 -7.52 287.25A287.35 287.35 0 0 1 -287.34 -2.51" pathLength="178" stroke="#7cff82" stroke-dasharray="0 25 1.05 120.95 3.05 27.95"/>
<path d="M302.06 13.19A302.35 302.35 0 0 1 -7.91 302.25A302.35 302.35 0 0 1 -302.34 -2.64" pathLength="178" stroke="#7cff82" stroke-dasharray="0 25 1.05 121.95 3.05 26.95"/>
<path d="M307.06 13.41A307.35 307.35 0 0 1 -8.05 307.24A307.35 307.35 0 0 1 -307.34 -2.68" pathLength="178" stroke="#7cff82" stroke-dasharray="0 25 1.05 121.95 3.05 26.95"/>
<path d="M312.05 13.62A312.35 312.35 0 0 1 -8.18 312.24A312.35 312.35 0 0 1 -312.34 -2.73" pathLength="178" stroke="#7cff82" stroke-dasharray="0 24 1.05 123.95 2.05 26.95"/>
<path d="M317.05 13.84A317.35 317.35 0 0 1 -8.31 317.24A317.35 317.35 0 0 1 -317.34 -2.77" pathLength="178" stroke="#7cff82" stroke-dasharray="0 24 1.05 123.95 2.05 26.95"/>
<path d="M322.04 14.06A322.35 322.35 0 0 1 -8.44 322.24A322.35 322.35 0 0 1 -322.34 -2.81" pathLength="178" stroke="#7cff82" stroke-dasharray="0 24 1.05 122.95 3.05 26.95"/>
<path d="M332.03 14.50A332.35 332.35 0 0 1 -8.70 332.24A332.35 332.35 0 0 1 -332.34 -2.90" pathLength="178" stroke="#7cff82" stroke-dasharray="0 24 1.05 123.95 3.05 25.95"/>
<path d="M337.03 14.72A337.35 337.35 0 0 1 -8.83 337.23A337.35 337.35 0 0 1 -337.34 -2.94" pathLength="178" stroke="#7cff82" stroke-dasharray="0 24 1.05 123.95 3.05 25.95"/>
<path d="M342.02 14.93A342.35 342.35 0 0 1 -8.96 342.23A342.35 342.35 0 0 1 -342.34 -2.99" pathLength="178" stroke="#7cff82" stroke-dasharray="0 24 1.05 124.95 2.05 25.95"/>
<path d="M347.02 15.15A347.35 347.35 0 0 1 -9.09 347.23A347.35 347.35 0 0 1 -347.34 -3.03" pathLength="178" stroke="#7cff82" stroke-dasharray="0 23 2.05 124.95 2.05 25.95"/>
<path d="M357.01 15.59A357.35 357.35 0 0 1 -9.35 357.23A357.35 357.35 0 0 1 -357.34 -3.12" pathLength="178" stroke="#7cff82" stroke-dasharray="0 23 1.05 125.95 2.05 8.95 1.05 15.95"/>
<path d="M362.01 15.81A362.35 362.35 0 0 1 -9.49 362.23A362.35 362.35 0 0 1 -362.34 -3.16" pathLength="178" stroke="#7cff82" stroke-dasharray="0 23 1.05 136.95 1.05 15.95"/>
<path d="M367.00 16.02A367.35 367.35 0 0 1 -9.62 367.22A367.35 367.35 0 0 1 -367.34 -3.21" pathLength="178" stroke="#7cff82" stroke-dasharray="0 23 1.05 136.95 1.05 15.95"/>
<path d="M372.00 16.24A372.35 372.35 0 0 1 -9.75 372.22A372.35 372.35 0 0 1 -372.34 -3.25" pathLength="178" stroke="#7cff82" stroke-dasharray="0 23 1.05 136.95 1.05 15.95"/>
<path d="M376.99 16.46A377.35 377.35 0 0 1 -9.88 377.22A377.35 377.35 0 0 1 -377.34 -3.29" pathLength="178" stroke="#7cff82" stroke-dasharray="0 23 1.05 136.95 1.05 15.95"/>
<path d="M381.99 16.68A382.35 382.35 0 0 1 -10.01 382.22A382.35 382.35 0 0 1 -382.34 -3.34" pathLength="178" stroke="#7cff82" stroke-dasharray="0 22 2.05 136.95 1.05 15.95"/>
<path d="M386.98 16.90A387.35 387.35 0 0 1 -10.14 387.22A387.35 387.35 0 0 1 -387.34 -3.38" pathLength="178" stroke="#7cff82" stroke-dasharray="0 22 2.05 136.95 1.05 15.95"/>
<path d="M411.96 17.99A412.35 412.35 0 0 1 -10.79 412.21A412.35 412.35 0 0 1 -412.33 -3.60" pathLength="178" stroke="#7cff82" stroke-dasharray="0 22 1.05 127.95 1.05 25.95"/>
<path d="M421.95 18.42A422.35 422.35 0 0 1 -11.06 422.21A422.35 422.35 0 0 1 -422.33 -3.69" pathLength="178" stroke="#7cff82" stroke-dasharray="0 21 2.05 127.95 1.05 25.95"/>
<path d="M426.94 18.64A427.35 427.35 0 0 1 -11.19 427.20A427.35 427.35 0 0 1 -427.33 -3.73" pathLength="178" stroke="#7cff82" stroke-dasharray="0 21 2.05 127.95 1.05 25.95"/>
<path d="M431.94 18.86A432.35 432.35 0 0 1 -11.32 432.20A432.35 432.35 0 0 1 -432.33 -3.77" pathLength="178" stroke="#7cff82" stroke-dasharray="0 21 2.05 127.95 1.05 25.95"/>
<path d="M436.93 19.08A437.35 437.35 0 0 1 -11.45 437.20A437.35 437.35 0 0 1 -437.33 -3.82" pathLength="178" stroke="#7cff82" stroke-dasharray="0 21 2.05 127.95 1.05 9.95 1.05 14.95"/>
<path d="M441.93 19.30A442.35 442.35 0 0 1 -11.58 442.20A442.35 442.35 0 0 1 -442.33 -3.86" pathLength="178" stroke="#7cff82" stroke-dasharray="0 21 1.05 128.95 1.05 9.95 1.05 14.95"/>
<path d="M451.92 19.73A452.35 452.35 0 0 1 -11.84 452.19A452.35 452.35 0 0 1 -452.33 -3.95" pathLength="178" stroke="#7cff82" stroke-dasharray="0 21 1.05 128.95 2.05 8.95 1.05 14.95"/>
<path d="M461.91 20.17A462.35 462.35 0 0 1 -12.10 462.19A462.35 462.35 0 0 1 -462.33 -4.03" pathLength="178" stroke="#7cff82" stroke-dasharray="0 21 1.05 128.95 2.05 8.95 1.05 14.95"/>
<path d="M466.91 20.39A467.35 467.35 0 0 1 -12.23 467.19A467.35 467.35 0 0 1 -467.33 -4.08" pathLength="178" stroke="#7cff82" stroke-dasharray="0 20 2.05 128.95 2.05 8.95 1.05 14.95"/>
<path d="M471.90 20.60A472.35 472.35 0 0 1 -12.36 472.19A472.35 472.35 0 0 1 -472.33 -4.12" pathLength="178" stroke="#7cff82" stroke-dasharray="0 20 2.05 128.95 2.05 8.95 1.05 14.95"/>
<path d="M476.90 20.82A477.35 477.35 0 0 1 -12.50 477.19A477.35 477.35 0 0 1 -477.33 -4.17" pathLength="178" stroke="#7cff82" stroke-dasharray="0 20 2.05 128.95 2.05 8.95 1.05 14.95"/>
<path d="M481.89 21.04A482.35 482.35 0 0 1 -12.63 482.18A482.35 482.35 0 0 1 -482.33 -4.21" pathLength="178" stroke="#7cff82" stroke-dasharray="0 20 1.05 57.95 3.05 69.95 1.05 8.95 1.05 14.95"/>
<path d="M486.89 21.26A487.35 487.35 0 0 1 -12.76 487.18A487.35 487.35 0 0 1 -487.33 -4.25" pathLength="178" stroke="#7cff82" stroke-dasharray="0 20 1.05 55.95 5.05 0.95 1.05 3.95 1.05 0.95 2.05 0.95 1.05 57.95 1.05 8.95 1.05 14.95"/>
<path d="M491.88 21.48A492.35 492.35 0 0 1 -12.89 492.18A492.35 492.35 0 0 1 -492.33 -4.30" pathLength="178" stroke="#7cff82" stroke-dasharray="0 20 1.05 54.95 19.05 56.95 1.05 8.95 1.05 14.95"/>
<path d="M132.22 5.77A132.35 132.35 0 0 1 -3.46 132.30A132.35 132.35 0 0 1 -132.34 -1.15" pathLength="178" stroke="#aaff55" stroke-dasharray="0 29 1.05 110.95 1.05 35.95"/>
<path d="M137.22 5.99A137.35 137.35 0 0 1 -3.60 137.30A137.35 137.35 0 0 1 -137.34 -1.20" pathLength="178" stroke="#aaff55" stroke-dasharray="0 29 1.05 110.95 1.05 35.95"/>
<path d="M142.21 6.21A142.35 142.35 0 0 1 -3.73 142.30A142.35 142.35 0 0 1 -142.34 -1.24" pathLength="178" stroke="#aaff55" stroke-dasharray="0 141 2.05 34.95"/>
<path d="M162.20 7.08A162.35 162.35 0 0 1 -4.25 162.29A162.35 162.35 0 0 1 -162.34 -1.42" pathLength="178" stroke="#aaff55" stroke-dasharray="0 28 1.05 113.95 1.05 33.95"/>
<path d="M167.19 7.30A167.35 167.35 0 0 1 -4.38 167.29A167.35 167.35 0 0 1 -167.34 -1.46" pathLength="178" stroke="#aaff55" stroke-dasharray="0 28 1.05 113.95 2.05 32.95"/>
<path d="M172.19 7.52A172.35 172.35 0 0 1 -4.51 172.29A172.35 172.35 0 0 1 -172.34 -1.50" pathLength="178" stroke="#aaff55" stroke-dasharray="0 28 1.05 113.95 2.05 32.95"/>
<path d="M177.18 7.74A177.35 177.35 0 0 1 -4.64 177.29A177.35 177.35 0 0 1 -177.34 -1.55" pathLength="178" stroke="#aaff55" stroke-dasharray="0 28 1.05 113.95 2.05 32.95"/>
<path d="M182.18 7.95A182.35 182.35 0 0 1 -4.77 182.29A182.35 182.35 0 0 1 -182.34 -1.59" pathLength="178" stroke="#aaff55" stroke-dasharray="0 28 1.05 114.95 1.05 32.95"/>
<path d="M187.17 8.17A187.35 187.35 0 0 1 -4.90 187.29A187.35 187.35 0 0 1 -187.34 -1.63" pathLength="178" stroke="#aaff55" stroke-dasharray="0 144 2.05 31.95"/>
<path d="M192.17 8.39A192.35 192.35 0 0 1 -5.04 192.28A192.35 192.35 0 0 1 -192.34 -1.68" pathLength="178" stroke="#aaff55" stroke-dasharray="0 144 2.05 31.95"/>
<path d="M197.16 8.61A197.35 197.35 0 0 1 -5.17 197.28A197.35 197.35 0 0 1 -197.34 -1.72" pathLength="178" stroke="#aaff55" stroke-dasharray="0 144 2.05 31.95"/>
<path d="M202.16 8.83A202.35 202.35 0 0 1 -5.30 202.28A202.35 202.35 0 0 1 -202.34 -1.77" pathLength="178" stroke="#aaff55" stroke-dasharray="0 27 1.05 116.95 1.05 31.95"/>
<path d="M217.14 9.48A217.35 217.35 0 0 1 -5.69 217.28A217.35 217.35 0 0 1 -217.34 -1.90" pathLength="178" stroke="#aaff55" stroke-dasharray="0 27 1.05 116.95 2.05 30.95"/>
<path d="M222.14 9.70A222.35 222.35 0 0 1 -5.82 222.27A222.35 222.35 0 0 1 -222.34 -1.94" pathLength="178" stroke="#aaff55" stroke-dasharray="0 27 1.05 117.95 1.05 30.95"/>
<path d="M227.13 9.92A227.35 227.35 0 0 1 -5.95 227.27A227.35 227.35 0 0 1 -227.34 -1.98" pathLength="178" stroke="#aaff55" stroke-dasharray="0 27 1.05 117.95 1.05 30.95"/>
<path d="M232.13 10.13A232.35 232.35 0 0 1 -6.08 232.27A232.35 232.35 0 0 1 -232.34 -2.03" pathLength="178" stroke="#aaff55" stroke-dasharray="0 26 1.05 118.95 2.05 29.95"/>
<path d="M237.12 10.35A237.35 237.35 0 0 1 -6.21 237.27A237.35 237.35 0 0 1 -237.34 -2.07" pathLength="178" stroke="#aaff55" stroke-dasharray="0 26 1.05 118.95 2.05 29.95"/>
<path d="M242.12 10.57A242.35 242.35 0 0 1 -6.34 242.27A242.35 242.35 0 0 1 -242.34 -2.11" pathLength="178" stroke="#aaff55" stroke-dasharray="0 26 1.05 118.95 2.05 29.95"/>
<path d="M247.11 10.79A247.35 247.35 0 0 1 -6.47 247.27A247.35 247.35 0 0 1 -247.34 -2.16" pathLength="178" stroke="#aaff55" stroke-dasharray="0 26 1.05 118.95 2.05 29.95"/>
<path d="M252.11 11.01A252.35 252.35 0 0 1 -6.61 252.26A252.35 252.35 0 0 1 -252.34 -2.20" pathLength="178" stroke="#aaff55" stroke-dasharray="0 26 1.05 119.95 2.05 28.95"/>
<path d="M262.10 11.44A262.35 262.35 0 0 1 -6.87 262.26A262.35 262.35 0 0 1 -262.34 -2.29" pathLength="178" stroke="#aaff55" stroke-dasharray="0 26 1.05 119.95 2.05 28.95"/>
<path d="M272.09 11.88A272.35 272.35 0 0 1 -7.13 272.26A272.35 272.35 0 0 1 -272.34 -2.38" pathLength="178" stroke="#aaff55" stroke-dasharray="0 25 1.05 120.95 2.05 28.95"/>
<path d="M277.09 12.10A277.35 277.35 0 0 1 -7.26 277.25A277.35 277.35 0 0 1 -277.34 -2.42" pathLength="178" stroke="#aaff55" stroke-dasharray="0 25 1.05 120.95 3.05 27.95"/>
<path d="M282.08 12.32A282.35 282.35 0 0 1 -7.39 282.25A282.35 282.35 0 0 1 -282.34 -2.46" pathLength="178" stroke="#aaff55" stroke-dasharray="0 25 1.05 120.95 3.05 27.95"/>
<path d="M292.07 12.75A292.35 292.35 0 0 1 -7.65 292.25A292.35 292.35 0 0 1 -292.34 -2.55" pathLength="178" stroke="#aaff55" stroke-dasharray="0 25 1.05 121.95 2.05 27.95"/>
<path d="M297.07 12.97A297.35 297.35 0 0 1 -7.78 297.25A297.35 297.35 0 0 1 -297.34 -2.59" pathLength="178" stroke="#aaff55" stroke-dasharray="0 25 1.05 121.95 2.05 27.95"/>
<path d="M302.06 13.19A302.35 302.35 0 0 1 -7.91 302.25A302.35 302.35 0 0 1 -302.34 -2.64" pathLength="178" stroke="#aaff55" stroke-dasharray="0 25 1.05 122.95 1.05 27.95"/>
<path d="M322.04 14.06A322.35 322.35 0 0 1 -8.44 322.24A322.35 322.35 0 0 1 -322.34 -2.81" pathLength="178" stroke="#aaff55" stroke-dasharray="0 24 1.05 123.95 2.05 26.95"/>
<path d="M327.04 14.28A327.35 327.35 0 0 1 -8.57 327.24A327.35 327.35 0 0 1 -327.34 -2.86" pathLength="178" stroke="#aaff55" stroke-dasharray="0 24 1.05 123.95 2.05 26.95"/>
<path d="M332.03 14.50A332.35 332.35 0 0 1 -8.70 332.24A332.35 332.35 0 0 1 -332.34 -2.90" pathLength="178" stroke="#aaff55" stroke-dasharray="0 24 1.05 124.95 1.05 26.95"/>
<path d="M337.03 14.72A337.35 337.35 0 0 1 -8.83 337.23A337.35 337.35 0 0 1 -337.34 -2.94" pathLength="178" stroke="#aaff55" stroke-dasharray="0 24 1.05 124.95 1.05 26.95"/>
<path d="M342.02 14.93A342.35 342.35 0 0 1 -8.96 342.23A342.35 342.35 0 0 1 -342.34 -2.99" pathLength="178" stroke="#aaff55" stroke-dasharray="0 150 2.05 25.95"/>
<path d="M352.01 15.37A352.35 352.35 0 0 1 -9.22 352.23A352.35 352.35 0 0 1 -352.34 -3.07" pathLength="178" stroke="#aaff55" stroke-dasharray="0 23 1.05 125.95 2.05 25.95"/>
<path d="M381.99 16.68A382.35 382.35 0 0 1 -10.01 382.22A382.35 382.35 0 0 1 -382.34 -3.34" pathLength="178" stroke="#aaff55" stroke-dasharray="0 23 1.05 153.95"/>
<path d="M386.98 16.90A387.35 387.35 0 0 1 -10.14 387.22A387.35 387.35 0 0 1 -387.34 -3.38" pathLength="178" stroke="#aaff55" stroke-dasharray="0 22 1.05 154.95"/>
<path d="M416.95 18.20A417.35 417.35 0 0 1 -10.92 417.21A417.35 417.35 0 0 1 -417.33 -3.64" pathLength="178" stroke="#aaff55" stroke-dasharray="0 22 1.05 127.95 1.05 25.95"/>
<path d="M426.94 18.64A427.35 427.35 0 0 1 -11.19 427.20A427.35 427.35 0 0 1 -427.33 -3.73" pathLength="178" stroke="#aaff55" stroke-dasharray="0 22 1.05 127.95 1.05 25.95"/>
<path d="M431.94 18.86A432.35 432.35 0 0 1 -11.32 432.20A432.35 432.35 0 0 1 -432.33 -3.77" pathLength="178" stroke="#aaff55" stroke-dasharray="0 151 1.05 25.95"/>
<path d="M436.93 19.08A437.35 437.35 0 0 1 -11.45 437.20A437.35 437.35 0 0 1 -437.33 -3.82" pathLength="178" stroke="#aaff55" stroke-dasharray="0 151 1.05 25.95"/>
<path d="M441.93 19.30A442.35 442.35 0 0 1 -11.58 442.20A442.35 442.35 0 0 1 -442.33 -3.86" pathLength="178" stroke="#aaff55" stroke-dasharray="0 21 1.05 128.95 1.05 25.95"/>
<path d="M446.92 19.51A447.35 447.35 0 0 1 -11.71 447.20A447.35 447.35 0 0 1 -447.33 -3.90" pathLength="178" stroke="#aaff55" stroke-dasharray="0 21 1.05 128.95 1.05 9.95 1.05 14.95"/>
<path d="M451.92 19.73A452.35 452.35 0 0 1 -11.84 452.19A452.35 452.35 0 0 1 -452.33 -3.95" pathLength="178" stroke="#aaff55" stroke-dasharray="0 21 1.05 128.95 1.05 9.95 1.05 14.95"/>
<path d="M456.91 19.95A457.35 457.35 0 0 1 -11.97 457.19A457.35 457.35 0 0 1 -457.33 -3.99" pathLength="178" stroke="#aaff55" stroke-dasharray="0 21 1.05 128.95 1.05 9.95 1.05 14.95"/>
<path d="M461.91 20.17A462.35 462.35 0 0 1 -12.10 462.19A462.35 462.35 0 0 1 -462.33 -4.03" pathLength="178" stroke="#aaff55" stroke-dasharray="0 21 1.05 128.95 1.05 9.95 1.05 14.95"/>
<path d="M466.91 20.39A467.35 467.35 0 0 1 -12.23 467.19A467.35 467.35 0 0 1 -467.33 -4.08" pathLength="178" stroke="#aaff55" stroke-dasharray="0 21 1.05 128.95 1.05 9.95 1.05 14.95"/>
<path d="M471.90 20.60A472.35 472.35 0 0 1 -12.36 472.19A472.35 472.35 0 0 1 -472.33 -4.12" pathLength="178" stroke="#aaff55" stroke-dasharray="0 20 1.05 129.95 1.05 9.95 1.05 14.95"/>
<path d="M476.90 20.82A477.35 477.35 0 0 1 -12.50 477.19A477.35 477.35 0 0 1 -477.33 -4.17" pathLength="178" stroke="#aaff55" stroke-dasharray="0 20 1.05 130.95 1.05 8.95 1.05 14.95"/>
<path d="M481.89 21.04A482.35 482.35 0 0 1 -12.63 482.18A482.35 482.35 0 0 1 -482.33 -4.21" pathLength="178" stroke="#aaff55" stroke-dasharray="0 20 1.05 57.95 2.05 70.95 1.05 24.95"/>
<path d="M486.89 21.26A487.35 487.35 0 0 1 -12.76 487.18A487.35 487.35 0 0 1 -487.33 -4.25" pathLength="178" stroke="#aaff55" stroke-dasharray="0 20 1.05 55.95 1.05 0.95 3.05 0.95 1.05 3.95 1.05 0.95 2.05 0.95 1.05 57.95 1.05 24.95"/>
<path d="M491.88 21.48A492.35 492.35 0 0 1 -12.89 492.18A492.35 492.35 0 0 1 -492.33 -4.30" pathLength="178" stroke="#aaff55" stroke-dasharray="0 20 1.05 54.95 19.05 56.95 1.05 24.95"/>
<path d="M496.88 21.69A497.35 497.35 0 0 1 -13.02 497.18A497.35 497.35 0 0 1 -497.33 -4.34" pathLength="178" stroke="#aaff55" stroke-dasharray="0 20 1.05 50.95 27.05 52.95 1.05 8.95 1.05 14.95"/>
<path d="M501.87 21.91A502.35 502.35 0 0 1 -13.15 502.18A502.35 502.35 0 0 1 -502.33 -4.38" pathLength="178" stroke="#aaff55" stroke-dasharray="0 20 1.05 50.95 29.05 50.95 1.05 8.95 1.05 14.95"/>
<path d="M506.87 22.13A507.35 507.35 0 0 1 -13.28 507.18A507.35 507.35 0 0 1 -507.33 -4.43" pathLength="178" stroke="#aaff55" stroke-dasharray="0 20 1.05 46.95 37.05 46.95 1.05 8.95 1.05 14.95"/>
<path d="M132.22 5.77A132.35 132.35 0 0 1 -3.46 132.30A132.35 132.35 0 0 1 -132.34 -1.15" pathLength="178" stroke="#c8ff30" stroke-dasharray="0 141 1.05 35.95"/>
<path d="M137.22 5.99A137.35 137.35 0 0 1 -3.60 137.30A137.35 137.35 0 0 1 -137.34 -1.20" pathLength="178" stroke="#c8ff30" stroke-dasharray="0 141 1.05 35.95"/>
<path d="M147.21 6.43A147.35 147.35 0 0 1 -3.86 147.30A147.35 147.35 0 0 1 -147.34 -1.29" pathLength="178" stroke="#c8ff30" stroke-dasharray="0 142 1.05 34.95"/>
<path d="M152.20 6.65A152.35 152.35 0 0 1 -3.99 152.30A152.35 152.35 0 0 1 -152.34 -1.33" pathLength="178" stroke="#c8ff30" stroke-dasharray="0 142 1.05 34.95"/>
<path d="M157.20 6.86A157.35 157.35 0 0 1 -4.12 157.30A157.35 157.35 0 0 1 -157.34 -1.37" pathLength="178" stroke="#c8ff30" stroke-dasharray="0 143 1.05 33.95"/>
<path d="M167.19 7.30A167.35 167.35 0 0 1 -4.38 167.29A167.35 167.35 0 0 1 -167.34 -1.46" pathLength="178" stroke="#c8ff30" stroke-dasharray="0 143 1.05 33.95"/>
<path d="M172.19 7.52A172.35 172.35 0 0 1 -4.51 172.29A172.35 172.35 0 0 1 -172.34 -1.50" pathLength="178" stroke="#c8ff30" stroke-dasharray="0 28 1.05 114.95 1.05 32.95"/>
<path d="M192.17 8.39A192.35 192.35 0 0 1 -5.04 192.28A192.35 192.35 0 0 1 -192.34 -1.68" pathLength="178" stroke="#c8ff30" stroke-dasharray="0 145 1.05 31.95"/>
<path d="M207.15 9.04A207.35 207.35 0 0 1 -5.43 207.28A207.35 207.35 0 0 1 -207.34 -1.81" pathLength="178" stroke="#c8ff30" stroke-dasharray="0 27 1.05 116.95 1.05 31.95"/>
<path d="M212.15 9.26A212.35 212.35 0 0 1 -5.56 212.28A212.35 212.35 0 0 1 -212.34 -1.85" pathLength="178" stroke="#c8ff30" stroke-dasharray="0 27 1.05 116.95 2.05 30.95"/>
<path d="M232.13 10.13A232.35 232.35 0 0 1 -6.08 232.27A232.35 232.35 0 0 1 -232.34 -2.03" pathLength="178" stroke="#c8ff30" stroke-dasharray="0 146 2.05 29.95"/>
<path d="M237.12 10.35A237.35 237.35 0 0 1 -6.21 237.27A237.35 237.35 0 0 1 -237.34 -2.07" pathLength="178" stroke="#c8ff30" stroke-dasharray="0 146 2.05 29.95"/>
<path d="M247.11 10.79A247.35 247.35 0 0 1 -6.47 247.27A247.35 247.35 0 0 1 -247.34 -2.16" pathLength="178" stroke="#c8ff30" stroke-dasharray="0 26 1.05 119.95 1.05 29.95"/>
<path d="M252.11 11.01A252.35 252.35 0 0 1 -6.61 252.26A252.35 252.35 0 0 1 -252.34 -2.20" pathLength="178" stroke="#c8ff30" stroke-dasharray="0 26 1.05 119.95 1.05 29.95"/>
<path d="M257.11 11.23A257.35 257.35 0 0 1 -6.74 257.26A257.35 257.35 0 0 1 -257.34 -2.25" pathLength="178" stroke="#c8ff30" stroke-dasharray="0 26 1.05 119.95 2.05 28.95"/>
<path d="M267.10 11.66A267.35 267.35 0 0 1 -7.00 267.26A267.35 267.35 0 0 1 -267.34 -2.33" pathLength="178" stroke="#c8ff30" stroke-dasharray="0 147 2.05 28.95"/>
<path d="M272.09 11.88A272.35 272.35 0 0 1 -7.13 272.26A272.35 272.35 0 0 1 -272.34 -2.38" pathLength="178" stroke="#c8ff30" stroke-dasharray="0 147 2.05 28.95"/>
<path d="M277.09 12.10A277.35 277.35 0 0 1 -7.26 277.25A277.35 277.35 0 0 1 -277.34 -2.42" pathLength="178" stroke="#c8ff30" stroke-dasharray="0 25 1.05 121.95 1.05 28.95"/>
<path d="M282.08 12.32A282.35 282.35 0 0 1 -7.39 282.25A282.35 282.35 0 0 1 -282.34 -2.46" pathLength="178" stroke="#c8ff30" stroke-dasharray="0 25 1.05 121.95 2.05 27.95"/>
<path d="M287.08 12.53A287.35 287.35 0 0 1 -7.52 287.25A287.35 287.35 0 0 1 -287.34 -2.51" pathLength="178" stroke="#c8ff30" stroke-dasharray="0 25 1.05 121.95 2.05 27.95"/>
<path d="M292.07 12.75A292.35 292.35 0 0 1 -7.65 292.25A292.35 292.35 0 0 1 -292.34 -2.55" pathLength="178" stroke="#c8ff30" stroke-dasharray="0 25 1.05 122.95 1.05 27.95"/>
<path d="M297.07 12.97A297.35 297.35 0 0 1 -7.78 297.25A297.35 297.35 0 0 1 -297.34 -2.59" pathLength="178" stroke="#c8ff30" stroke-dasharray="0 25 1.05 122.95 1.05 27.95"/>
<path d="M307.06 13.41A307.35 307.35 0 0 1 -8.05 307.24A307.35 307.35 0 0 1 -307.34 -2.68" pathLength="178" stroke="#c8ff30" stroke-dasharray="0 149 2.05 26.95"/>
<path d="M312.05 13.62A312.35 312.35 0 0 1 -8.18 312.24A312.35 312.35 0 0 1 -312.34 -2.73" pathLength="178" stroke="#c8ff30" stroke-dasharray="0 149 2.05 26.95"/>
<path d="M317.05 13.84A317.35 317.35 0 0 1 -8.31 317.24A317.35 317.35 0 0 1 -317.34 -2.77" pathLength="178" stroke="#c8ff30" stroke-dasharray="0 149 2.05 26.95"/>
<path d="M332.03 14.50A332.35 332.35 0 0 1 -8.70 332.24A332.35 332.35 0 0 1 -332.34 -2.90" pathLength="178" stroke="#c8ff30" stroke-dasharray="0 150 1.05 26.95"/>
<path d="M337.03 14.72A337.35 337.35 0 0 1 -8.83 337.23A337.35 337.35 0 0 1 -337.34 -2.94" pathLength="178" stroke="#c8ff30" stroke-dasharray="0 150 1.05 26.95"/>
<path d="M342.02 14.93A342.35 342.35 0 0 1 -8.96 342.23A342.35 342.35 0 0 1 -342.34 -2.99" pathLength="178" stroke="#c8ff30" stroke-dasharray="0 150 1.05 26.95"/>
<path d="M347.02 15.15A347.35 347.35 0 0 1 -9.09 347.23A347.35 347.35 0 0 1 -347.34 -3.03" pathLength="178" stroke="#c8ff30" stroke-dasharray="0 150 2.05 25.95"/>
<path d="M357.01 15.59A357.35 357.35 0 0 1 -9.35 357.23A357.35 357.35 0 0 1 -357.34 -3.12" pathLength="178" stroke="#c8ff30" stroke-dasharray="0 23 1.05 153.95"/>
<path d="M362.01 15.81A362.35 362.35 0 0 1 -9.49 362.23A362.35 362.35 0 0 1 -362.34 -3.16" pathLength="178" stroke="#c8ff30" stroke-dasharray="0 23 1.05 153.95"/>
<path d="M367.00 16.02A367.35 367.35 0 0 1 -9.62 367.22A367.35 367.35 0 0 1 -367.34 -3.21" pathLength="178" stroke="#c8ff30" stroke-dasharray="0 23 1.05 153.95"/>
<path d="M372.00 16.24A372.35 372.35 0 0 1 -9.75 372.22A372.35 372.35 0 0 1 -372.34 -3.25" pathLength="178" stroke="#c8ff30" stroke-dasharray="0 23 1.05 153.95"/>
<path d="M376.99 16.46A377.35 377.35 0 0 1 -9.88 377.22A377.35 377.35 0 0 1 -377.34 -3.29" pathLength="178" stroke="#c8ff30" stroke-dasharray="0 23 1.05 153.95"/>
<path d="M391.98 17.11A392.35 392.35 0 0 1 -10.27 392.22A392.35 392.35 0 0 1 -392.34 -3.42" pathLength="178" stroke="#c8ff30" stroke-dasharray="0 22 1.05 154.95"/>
<path d="M396.97 17.33A397.35 397.35 0 0 1 -10.40 397.21A397.35 397.35 0 0 1 -397.33 -3.47" pathLength="178" stroke="#c8ff30" stroke-dasharray="0 22 1.05 154.95"/>
<path d="M401.97 17.55A402.35 402.35 0 0 1 -10.53 402.21A402.35 402.35 0 0 1 -402.33 -3.51" pathLength="178" stroke="#c8ff30" stroke-dasharray="0 22 1.05 154.95"/>
<path d="M406.96 17.77A407.35 407.35 0 0 1 -10.66 407.21A407.35 407.35 0 0 1 -407.33 -3.55" pathLength="178" stroke="#c8ff30" stroke-dasharray="0 22 1.05 154.95"/>
<path d="M411.96 17.99A412.35 412.35 0 0 1 -10.79 412.21A412.35 412.35 0 0 1 -412.33 -3.60" pathLength="178" stroke="#c8ff30" stroke-dasharray="0 22 1.05 154.95"/>
<path d="M416.95 18.20A417.35 417.35 0 0 1 -10.92 417.21A417.35 417.35 0 0 1 -417.33 -3.64" pathLength="178" stroke="#c8ff30" stroke-dasharray="0 22 1.05 154.95"/>
<path d="M421.95 18.42A422.35 422.35 0 0 1 -11.06 422.21A422.35 422.35 0 0 1 -422.33 -3.69" pathLength="178" stroke="#c8ff30" stroke-dasharray="0 22 1.05 127.95 1.05 25.95"/>
<path d="M426.94 18.64A427.35 427.35 0 0 1 -11.19 427.20A427.35 427.35 0 0 1 -427.33 -3.73" pathLength="178" stroke="#c8ff30" stroke-dasharray="0 151 1.05 25.95"/>
<path d="M456.91 19.95A457.35 457.35 0 0 1 -11.97 457.19A457.35 457.35 0 0 1 -457.33 -3.99" pathLength="178" stroke="#c8ff30" stroke-dasharray="0 21 1.05 155.95"/>
<path d="M481.89 21.04A482.35 482.35 0 0 1 -12.63 482.18A482.35 482.35 0 0 1 -482.33 -4.21" pathLength="178" stroke="#c8ff30" stroke-dasharray="0 20 1.05 57.95 1.05 71.95 1.05 24.95"/>
<path d="M486.89 21.26A487.35 487.35 0 0 1 -12.76 487.18A487.35 487.35 0 0 1 -487.33 -4.25" pathLength="178" stroke="#c8ff30" stroke-dasharray="0 20 1.05 57.95 3.05 0.95 1.05 3.95 1.05 0.95 1.05 1.95 1.05 57.95 1.05 24.95"/>
<path d="M491.88 21.48A492.35 492.35 0 0 1 -12.89 492.18A492.35 492.35 0 0 1 -492.33 -4.30" pathLength="178" stroke="#c8ff30" stroke-dasharray="0 20 1.05 54.95 18.05 57.95 1.05 24.95"/>
<path d="M496.88 21.69A497.35 497.35 0 0 1 -13.02 497.18A497.35 497.35 0 0 1 -497.33 -4.34" pathLength="178" stroke="#c8ff30" stroke-dasharray="0 20 1.05 52.95 23.05 54.95 1.05 24.95"/>
<path d="M501.87 21.91A502.35 502.35 0 0 1 -13.15 502.18A502.35 502.35 0 0 1 -502.33 -4.38" pathLength="178" stroke="#c8ff30" stroke-dasharray="0 20 1.05 50.95 28.05 51.95 1.05 24.95"/>
<path d="M162.20 7.08A162.35 162.35 0 0 1 -4.25 162.29A162.35 162.35 0 0 1 -162.34 -1.42" pathLength="178" stroke="#f0ff10" stroke-dasharray="0 143 1.05 33.95"/>
<path d="M172.19 7.52A172.35 172.35 0 0 1 -4.51 172.29A172.35 172.35 0 0 1 -172.34 -1.50" pathLength="178" stroke="#f0ff10" stroke-dasharray="0 144 1.05 32.95"/>
<path d="M177.18 7.74A177.35 177.35 0 0 1 -4.64 177.29A177.35 177.35 0 0 1 -177.34 -1.55" pathLength="178" stroke="#f0ff10" stroke-dasharray="0 144 1.05 32.95"/>
<path d="M182.18 7.95A182.35 182.35 0 0 1 -4.77 182.29A182.35 182.35 0 0 1 -182.34 -1.59" pathLength="178" stroke="#f0ff10" stroke-dasharray="0 144 1.05 32.95"/>
<path d="M187.17 8.17A187.35 187.35 0 0 1 -4.90 187.29A187.35 187.35 0 0 1 -187.34 -1.63" pathLength="178" stroke="#f0ff10" stroke-dasharray="0 144 1.05 32.95"/>
<path d="M197.16 8.61A197.35 197.35 0 0 1 -5.17 197.28A197.35 197.35 0 0 1 -197.34 -1.72" pathLength="178" stroke="#f0ff10" stroke-dasharray="0 145 1.05 31.95"/>
<path d="M202.16 8.83A202.35 202.35 0 0 1 -5.30 202.28A202.35 202.35 0 0 1 -202.34 -1.77" pathLength="178" stroke="#f0ff10" stroke-dasharray="0 145 1.05 31.95"/>
<path d="M217.14 9.48A217.35 217.35 0 0 1 -5.69 217.28A217.35 217.35 0 0 1 -217.34 -1.90" pathLength="178" stroke="#f0ff10" stroke-dasharray="0 146 1.05 30.95"/>
<path d="M222.14 9.70A222.35 222.35 0 0 1 -5.82 222.27A222.35 222.35 0 0 1 -222.34 -1.94" pathLength="178" stroke="#f0ff10" stroke-dasharray="0 146 1.05 30.95"/>
<path d="M227.13 9.92A227.35 227.35 0 0 1 -5.95 227.27A227.35 227.35 0 0 1 -227.34 -1.98" pathLength="178" stroke="#f0ff10" stroke-dasharray="0 146 1.05 30.95"/>
<path d="M237.12 10.35A237.35 237.35 0 0 1 -6.21 237.27A237.35 237.35 0 0 1 -237.34 -2.07" pathLength="178" stroke="#f0ff10" stroke-dasharray="0 147 1.05 29.95"/>
<path d="M242.12 10.57A242.35 242.35 0 0 1 -6.34 242.27A242.35 242.35 0 0 1 -242.34 -2.11" pathLength="178" stroke="#f0ff10" stroke-dasharray="0 147 1.05 29.95"/>
<path d="M247.11 10.79A247.35 247.35 0 0 1 -6.47 247.27A247.35 247.35 0 0 1 -247.34 -2.16" pathLength="178" stroke="#f0ff10" stroke-dasharray="0 147 1.05 29.95"/>
<path d="M252.11 11.01A252.35 252.35 0 0 1 -6.61 252.26A252.35 252.35 0 0 1 -252.34 -2.20" pathLength="178" stroke="#f0ff10" stroke-dasharray="0 147 1.05 29.95"/>
<path d="M257.11 11.23A257.35 257.35 0 0 1 -6.74 257.26A257.35 257.35 0 0 1 -257.34 -2.25" pathLength="178" stroke="#f0ff10" stroke-dasharray="0 147 1.05 29.95"/>
<path d="M262.10 11.44A262.35 262.35 0 0 1 -6.87 262.26A262.35 262.35 0 0 1 -262.34 -2.29" pathLength="178" stroke="#f0ff10" stroke-dasharray="0 147 2.05 28.95"/>
<path d="M267.10 11.66A267.35 267.35 0 0 1 -7.00 267.26A267.35 267.35 0 0 1 -267.34 -2.33" pathLength="178" stroke="#f0ff10" stroke-dasharray="0 148 1.05 28.95"/>
<path d="M272.09 11.88A272.35 272.35 0 0 1 -7.13 272.26A272.35 272.35 0 0 1 -272.34 -2.38" pathLength="178" stroke="#f0ff10" stroke-dasharray="0 148 1.05 28.95"/>
<path d="M277.09 12.10A277.35 277.35 0 0 1 -7.26 277.25A277.35 277.35 0 0 1 -277.34 -2.42" pathLength="178" stroke="#f0ff10" stroke-dasharray="0 148 1.05 28.95"/>
<path d="M282.08 12.32A282.35 282.35 0 0 1 -7.39 282.25A282.35 282.35 0 0 1 -282.34 -2.46" pathLength="178" stroke="#f0ff10" stroke-dasharray="0 148 2.05 27.95"/>
<path d="M287.08 12.53A287.35 287.35 0 0 1 -7.52 287.25A287.35 287.35 0 0 1 -287.34 -2.51" pathLength="178" stroke="#f0ff10" stroke-dasharray="0 149 1.05 27.95"/>
<path d="M292.07 12.75A292.35 292.35 0 0 1 -7.65 292.25A292.35 292.35 0 0 1 -292.34 -2.55" pathLength="178" stroke="#f0ff10" stroke-dasharray="0 149 1.05 27.95"/>
<path d="M297.07 12.97A297.35 297.35 0 0 1 -7.78 297.25A297.35 297.35 0 0 1 -297.34 -2.59" pathLength="178" stroke="#f0ff10" stroke-dasharray="0 149 1.05 27.95"/>
<path d="M302.06 13.19A302.35 302.35 0 0 1 -7.91 302.25A302.35 302.35 0 0 1 -302.34 -2.64" pathLength="178" stroke="#f0ff10" stroke-dasharray="0 149 1.05 27.95"/>
<path d="M312.05 13.62A312.35 312.35 0 0 1 -8.18 312.24A312.35 312.35 0 0 1 -312.34 -2.73" pathLength="178" stroke="#f0ff10" stroke-dasharray="0 150 1.05 26.95"/>
<path d="M317.05 13.84A317.35 317.35 0 0 1 -8.31 317.24A317.35 317.35 0 0 1 -317.34 -2.77" pathLength="178" stroke="#f0ff10" stroke-dasharray="0 150 1.05 26.95"/>
<path d="M322.04 14.06A322.35 322.35 0 0 1 -8.44 322.24A322.35 322.35 0 0 1 -322.34 -2.81" pathLength="178" stroke="#f0ff10" stroke-dasharray="0 150 1.05 26.95"/>
<path d="M327.04 14.28A327.35 327.35 0 0 1 -8.57 327.24A327.35 327.35 0 0 1 -327.34 -2.86" pathLength="178" stroke="#f0ff10" stroke-dasharray="0 150 1.05 26.95"/>
<path d="M486.89 21.26A487.35 487.35 0 0 1 -12.76 487.18A487.35 487.35 0 0 1 -487.33 -4.25" pathLength="178" stroke="#f0ff10" stroke-dasharray="0 20 1.05 57.95 3.05 0.95 1.05 5.95 1.05 86.95"/>
<path d="M491.88 21.48A492.35 492.35 0 0 1 -12.89 492.18A492.35 492.35 0 0 1 -492.33 -4.30" pathLength="178" stroke="#f0ff10" stroke-dasharray="0 20 1.05 55.95 8.05 0.95 8.05 57.95 1.05 24.95"/>
<path d="M496.88 21.69A497.35 497.35 0 0 1 -13.02 497.18A497.35 497.35 0 0 1 -497.33 -4.34" pathLength="178" stroke="#f0ff10" stroke-dasharray="0 20 1.05 52.95 22.05 55.95 1.05 24.95"/>
<path d="M501.87 21.91A502.35 502.35 0 0 1 -13.15 502.18A502.35 502.35 0 0 1 -502.33 -4.38" pathLength="178" stroke="#f0ff10" stroke-dasharray="0 72 28.05 51.95 1.05 24.95"/>
<path d="M506.87 22.13A507.35 507.35 0 0 1 -13.28 507.18A507.35 507.35 0 0 1 -507.33 -4.43" pathLength="178" stroke="#f0ff10" stroke-dasharray="0 69 33.05 0.95 1.05 47.95 1.05 24.95"/>
<path d="M491.88 21.48A492.35 492.35 0 0 1 -12.89 492.18A492.35 492.35 0 0 1 -492.33 -4.30" pathLength="178" stroke="#ffe800" stroke-dasharray="0 77 5.05 0.95 1.05 2.95 2.05 0.95 4.05 83.95"/>
<path d="M506.87 22.13A507.35 507.35 0 0 1 -13.28 507.18A507.35 507.35 0 0 1 -507.33 -4.43" pathLength="178" stroke="#ffe800" stroke-dasharray="0 71 30.05 1.95 1.05 73.95"/>
<path d="M486.89 21.26A487.35 487.35 0 0 1 -12.76 487.18A487.35 487.35 0 0 1 -487.33 -4.25" pathLength="178" stroke="#ffb800" stroke-dasharray="0 79 3.05 7.95 1.05 86.95"/>
<path d="M491.88 21.48A492.35 492.35 0 0 1 -12.89 492.18A492.35 492.35 0 0 1 -492.33 -4.30" pathLength="178" stroke="#ffb800" stroke-dasharray="0 77 5.05 0.95 1.05 3.95 1.05 0.95 4.05 83.95"/>
<path d="M496.88 21.69A497.35 497.35 0 0 1 -13.02 497.18A497.35 497.35 0 0 1 -497.33 -4.34" pathLength="178" stroke="#ffb800" stroke-dasharray="0 76 20.05 81.95"/>
<path d="M501.87 21.91A502.35 502.35 0 0 1 -13.15 502.18A502.35 502.35 0 0 1 -502.33 -4.38" pathLength="178" stroke="#ffb800" stroke-dasharray="0 72 27.05 78.95"/>
<path d="M491.88 21.48A492.35 492.35 0 0 1 -12.89 492.18A492.35 492.35 0 0 1 -492.33 -4.30" pathLength="178" stroke="#ff8c00" stroke-dasharray="0 79 2.05 1.95 1.05 3.95 1.05 0.95 1.05 86.95"/>
<path d="M496.88 21.69A497.35 497.35 0 0 1 -13.02 497.18A497.35 497.35 0 0 1 -497.33 -4.34" pathLength="178" stroke="#ff8c00" stroke-dasharray="0 77 6.05 1.95 7.05 0.95 3.05 81.95"/>
<path d="M501.87 21.91A502.35 502.35 0 0 1 -13.15 502.18A502.35 502.35 0 0 1 -502.33 -4.38" pathLength="178" stroke="#ff8c00" stroke-dasharray="0 74 24.05 79.95"/>
<path d="M506.87 22.13A507.35 507.35 0 0 1 -13.28 507.18A507.35 507.35 0 0 1 -507.33 -4.43" pathLength="178" stroke="#ff8c00" stroke-dasharray="0 72 29.05 76.95"/>
<path d="M506.87 22.13A507.35 507.35 0 0 1 -13.28 507.18A507.35 507.35 0 0 1 -507.33 -4.43" pathLength="178" stroke="#ff6800" stroke-dasharray="0 74 2.05 0.95 2.05 2.95 1.05 5.95 1.05 5.95 1.05 80.95"/>
</g>
<g transform="translate(382.1,407.5) scale(0.7,-0.6459999999999999)" fill="none" stroke-width="5.45">
<path d="M12.34 0.54A12.35 12.35 0 0 1 -0.32 12.35A12.35 12.35 0 0 1 -12.35 -0.11" stroke="#0000e0"/>
<path d="M17.33 0.76A17.35 17.35 0 0 1 -0.45 17.34A17.35 17.35 0 0 1 -17.35 -0.15" stroke="#0000e0"/>
<path d="M22.33 0.97A22.35 22.35 0 0 1 -0.59 22.34A22.35 22.35 0 0 1 -22.35 -0.20" stroke="#0000e0"/>
<path d="M27.32 1.19A27.35 27.35 0 0 1 -0.72 27.34A27.35 27.35 0 0 1 -27.35 -0.24" stroke="#0000e0"/>
<path d="M32.32 1.41A32.35 32.35 0 0 1 -0.85 32.34A32.35 32.35 0 0 1 -32.35 -0.28" stroke="#0000e0"/>
<path d="M37.31 1.63A37.35 37.35 0 0 1 -0.98 37.34A37.35 37.35 0 0 1 -37.35 -0.33" stroke="#0000e0"/>
<path d="M42.31 1.85A42.35 42.35 0 0 1 -1.11 42.34A42.35 42.35 0 0 1 -42.35 -0.37" stroke="#0000e0"/>
<path d="M47.30 2.07A47.35 47.35 0 0 1 -1.24 47.33A47.35 47.35 0 0 1 -47.35 -0.41" stroke="#0000e0"/>
<path d="M52.30 2.28A52.35 52.35 0 0 1 -1.37 52.33A52.35 52.35 0 0 1 -52.35 -0.46" stroke="#0000e0"/>
<path d="M57.30 2.50A57.35 57.35 0 0 1 -1.50 57.33A57.35 57.35 0 0 1 -57.35 -0.50" stroke="#0000e0"/>
<path d="M62.29 2.72A62.35 62.35 0 0 1 -1.63 62.33A62.35 62.35 0 0 1 -62.35 -0.54" stroke="#0000e0"/>
<path d="M67.29 2.94A67.35 67.35 0 0 1 -1.76 67.33A67.35 67.35 0 0 1 -67.35 -0.59" stroke="#0000e0"/>
<path d="M72.28 3.16A72.35 72.35 0 0 1 -1.89 72.33A72.35 72.35 0 0 1 -72.35 -0.63" stroke="#0000e0"/>
<path d="M77.28 3.37A77.35 77.35 0 0 1 -2.02 77.32A77.35 77.35 0 0 1 -77.35 -0.67" stroke="#0000e0"/>
<path d="M82.27 3.59A82.35 82.35 0 0 1 -2.16 82.32A82.35 82.35 0 0 1 -82.35 -0.72" stroke="#0000e0"/>
<path d="M87.27 3.81A87.35 87.35 0 0 1 -2.29 87.32A87.35 87.35 0 0 1 -87.35 -0.76" stroke="#0000e0"/>
<path d="M92.26 4.03A92.35 92.35 0 0 1 -2.42 92.32A92.35 92.35 0 0 1 -92.35 -0.81" stroke="#0000e0"/>
<path d="M97.26 4.25A97.35 97.35 0 0 1 -2.55 97.32A97.35 97.35 0 0 1 -97.35 -0.85" stroke="#0000e0"/>
<path d="M102.25 4.46A102.35 102.35 0 0 1 -2.68 102.31A102.35 102.35 0 0 1 -102.35 -0.89" stroke="#0000e0"/>
<path d="M107.25 4.68A107.35 107.35 0 0 1 -2.81 107.31A107.35 107.35 0 0 1 -107.35 -0.94" stroke="#0000e0"/>
<path d="M112.24 4.90A112.35 112.35 0 0 1 -2.94 112.31A112.35 112.35 0 0 1 -112.35 -0.98" stroke="#0000e0"/>
<path d="M117.24 5.12A117.35 117.35 0 0 1 -3.07 117.31A117.35 117.35 0 0 1 -117.35 -1.02" stroke="#0000e0"/>
<path d="M122.23 5.34A122.35 122.35 0 0 1 -3.20 122.31A122.35 122.35 0 0 1 -122.35 -1.07" stroke="#0000e0"/>
<path d="M127.23 5.55A127.35 127.35 0 0 1 -3.33 127.31A127.35 127.35 0 0 1 -127.35 -1.11" stroke="#0000e0"/>
<path d="M12.34 0.54A12.35 12.35 0 0 1 -0.32 12.35A12.35 12.35 0 0 1 -12.35 -0.11" pathLength="178" stroke="#0000f8" stroke-dasharray="11.05 1.95 1.05 0.95 19.05 0.95 2.05 0.95 4.05 0.95 18.05 0.95 34.05 0.95 2.05 0.95 2.05 0.95 43.05 0.95 4.05 0.95 5.05 0.95 8.05 0.95 8.05 0.95 2.05 0"/>
<path d="M17.33 0.76A17.35 17.35 0 0 1 -0.45 17.34A17.35 17.35 0 0 1 -17.35 -0.15" pathLength="178" stroke="#0000f8" stroke-dasharray="37.05 0.95 4.05 0.95 2.05 0.95 11.05 0.95 10.05 0.95 9.05 0.95 14.05 0.95 2.05 0.95 1.05 0.95 3.05 0.95 15.05 0.95 7.05 0.95 18.05 0.95 6.05 0.95 4.05 0.95 2.05 0.95 9.05 0.95 3.05 0.95 3.05 0"/>
<path d="M22.33 0.97A22.35 22.35 0 0 1 -0.59 22.34A22.35 22.35 0 0 1 -22.35 -0.20" pathLength="178" stroke="#0000f8" stroke-dasharray="10.05 0.95 3.05 0.95 19.05 0.95 10.05 0.95 24.05 0.95 6.05 1.95 20.05 0.95 18.05 1.95 4.05 0.95 41.05 0.95 3.05 0.95 3.05 0.95 3.05 0"/>
<path d="M27.32 1.19A27.35 27.35 0 0 1 -0.72 27.34A27.35 27.35 0 0 1 -27.35 -0.24" pathLength="178" stroke="#0000f8" stroke-dasharray="0 1 13.05 0.95 18.05 0.95 3.05 1.95 5.05 0.95 46.05 0.95 1.05 0.95 1.05 0.95 28.05 0.95 1.05 0.95 2.05 0.95 20.05 0.95 19.05 0.95 4.05 0.95 2.05 0"/>
<path d="M32.32 1.41A32.35 32.35 0 0 1 -0.85 32.34A32.35 32.35 0 0 1 -32.35 -0.28" pathLength="178" stroke="#0000f8" stroke-dasharray="0 1 11.05 0.95 21.05 0.95 41.05 1.95 7.05 0.95 9.05 0.95 5.05 0.95 22.05 0.95 4.05 0.95 38.05 0.95 6.05 0.95 2.05 0"/>
<path d="M37.31 1.63A37.35 37.35 0 0 1 -0.98 37.34A37.35 37.35 0 0 1 -37.35 -0.33" pathLength="178" stroke="#0000f8" stroke-dasharray="0 1 3.05 0.95 6.05 0.95 1.05 0.95 20.05 0.95 27.05 0.95 54.05 0.95 14.05 0.95 26.05 1.95 9.05 0.95 7.05 0"/>
<path d="M42.31 1.85A42.35 42.35 0 0 1 -1.11 42.34A42.35 42.35 0 0 1 -42.35 -0.37" pathLength="178" stroke="#0000f8" stroke-dasharray="33.05 1.95 20.05 0.95 22.05 0.95 13.05 0.95 25.05 0.95 5.05 0.95 21.05 0.95 15.05 0.95 3.05 0.95 9.05 0.95 1.05 0"/>
<path d="M47.30 2.07A47.35 47.35 0 0 1 -1.24 47.33A47.35 47.35 0 0 1 -47.35 -0.41" pathLength="178" stroke="#0000f8" stroke-dasharray="10.05 0.95 22.05 0.95 1.05 0.95 6.05 0.95 19.05 0.95 14.05 0.95 6.05 0.95 11.05 0.95 21.05 0.95 10.05 0.95 23.05 0.95 24.05 0"/>
<path d="M52.30 2.28A52.35 52.35 0 0 1 -1.37 52.33A52.35 52.35 0 0 1 -52.35 -0.46" pathLength="178" stroke="#0000f8" stroke-dasharray="44.05 1.95 30.05 0.95 1.05 0.95 14.05 0.95 2.05 0.95 1.05 0.95 75.05 1.95 2.05 0"/>
<path d="M57.30 2.50A57.35 57.35 0 0 1 -1.50 57.33A57.35 57.35 0 0 1 -57.35 -0.50" pathLength="178" stroke="#0000f8" stroke-dasharray="4.05 0.95 20.05 0.95 64.05 0.95 1.05 0.95 3.05 0.95 63.05 0.95 5.05 0.95 11.05 0"/>
<path d="M62.29 2.72A62.35 62.35 0 0 1 -1.63 62.33A62.35 62.35 0 0 1 -62.35 -0.54" pathLength="178" stroke="#0000f8" stroke-dasharray="8.05 0.95 19.05 0.95 6.05 0.95 1.05 1.95 9.05 0.95 19.05 0.95 7.05 0.95 15.05 0.95 57.05 0.95 24.05 0.95 2.05 0"/>
<path d="M67.29 2.94A67.35 67.35 0 0 1 -1.76 67.33A67.35 67.35 0 0 1 -67.35 -0.59" pathLength="178" stroke="#0000f8" stroke-dasharray="11.05 0.95 11.05 0.95 5.05 0.95 12.05 0.95 19.05 0.95 11.05 0.95 43.05 0.95 42.05 0.95 1.05 0.95 10.05 0.95 3.05 0"/>
<path d="M72.28 3.16A72.35 72.35 0 0 1 -1.89 72.33A72.35 72.35 0 0 1 -72.35 -0.63" pathLength="178" stroke="#0000f8" stroke-dasharray="13.05 0.95 8.05 0.95 19.05 0.95 39.05 0.95 38.05 0.95 30.05 0.95 25.05 0"/>
<path d="M77.28 3.37A77.35 77.35 0 0 1 -2.02 77.32A77.35 77.35 0 0 1 -77.35 -0.67" pathLength="178" stroke="#0000f8" stroke-dasharray="10.05 1.95 21.05 0.95 8.05 0.95 108.05 0.95 5.05 0.95 4.05 0.95 3.05 0.95 9.05 0.95 1.05 0"/>
<path d="M82.27 3.59A82.35 82.35 0 0 1 -2.16 82.32A82.35 82.35 0 0 1 -82.35 -0.72" pathLength="178" stroke="#0000f8" stroke-dasharray="8.05 0.95 20.05 0.95 52.05 0.95 2.05 0.95 59.05 0.95 4.05 0.95 27.05 0"/>
<path d="M87.27 3.81A87.35 87.35 0 0 1 -2.29 87.32A87.35 87.35 0 0 1 -87.35 -0.76" pathLength="178" stroke="#0000f8" stroke-dasharray="10.05 0.95 3.05 0.95 63.05 0.95 22.05 0.95 48.05 0.95 6.05 0.95 14.05 1.95 4.05 0"/>
<path d="M92.26 4.03A92.35 92.35 0 0 1 -2.42 92.32A92.35 92.35 0 0 1 -92.35 -0.81" pathLength="178" stroke="#0000f8" stroke-dasharray="3.05 0.95 3.05 0.95 28.05 0.95 8.05 0.95 22.05 0.95 49.05 0.95 59.05 0"/>
<path d="M97.26 4.25A97.35 97.35 0 0 1 -2.55 97.32A97.35 97.35 0 0 1 -97.35 -0.85" pathLength="178" stroke="#0000f8" stroke-dasharray="13.05 1.95 23.05 0.95 39.05 0.95 6.05 0.95 16.05 0.95 67.05 0.95 7.05 0"/>
<path d="M102.25 4.46A102.35 102.35 0 0 1 -2.68 102.31A102.35 102.35 0 0 1 -102.35 -0.89" pathLength="178" stroke="#0000f8" stroke-dasharray="0 1 7.05 0.95 69.05 0.95 40.05 0.95 24.05 0.95 28.05 0.95 4.05 0"/>
<path d="M107.25 4.68A107.35 107.35 0 0 1 -2.81 107.31A107.35 107.35 0 0 1 -107.35 -0.94" pathLength="178" stroke="#0000f8" stroke-dasharray="56.05 0.95 9.05 0.95 60.05 0.95 6.05 0.95 9.05 0.95 8.05 0.95 24.05 0"/>
<path d="M112.24 4.90A112.35 112.35 0 0 1 -2.94 112.31A112.35 112.35 0 0 1 -112.35 -0.98" pathLength="178" stroke="#0000f8" stroke-dasharray="34.05 0.95 93.05 0.95 23.05 0.95 25.05 0"/>
<path d="M117.24 5.12A117.35 117.35 0 0 1 -3.07 117.31A117.35 117.35 0 0 1 -117.35 -1.02" pathLength="178" stroke="#0000f8" stroke-dasharray="22.05 0.95 124.05 0.95 15.05 0.95 13.05 0.95"/>
<path d="M122.23 5.34A122.35 122.35 0 0 1 -3.20 122.31A122.35 122.35 0 0 1 -122.35 -1.07" pathLength="178" stroke="#0000f8" stroke-dasharray="7.05 0.95 40.05 0.95 28.05 0.95 100.05 0"/>
<path d="M127.23 5.55A127.35 127.35 0 0 1 -3.33 127.31A127.35 127.35 0 0 1 -127.35 -1.11" pathLength="178" stroke="#0000f8" stroke-dasharray="42.05 0.95 27.05 0.95 24.05 0.95 82.05 0"/>
<path d="M12.34 0.54A12.35 12.35 0 0 1 -0.32 12.35A12.35 12.35 0 0 1 -12.35 -0.11" pathLength="178" stroke="#001eff" stroke-dasharray="0 3 1.05 4.95 1.05 7.95 2.05 0.95 1.05 0.95 1.05 1.95 8.05 5.95 1.05 6.95 3.05 1.95 1.05 0.95 1.05 1.95 2.05 2.95 3.05 0.95 1.05 4.95 1.05 6.95 1.05 3.95 2.05 0.95 2.05 13.95 3.05 10.95 1.05 1.95 1.05 1.95 1.05 4.95 8.05 0.95 6.05 1.95 1.05 2.95 1.05 0.95 2.05 1.95 1.05 3.95 3.05 2.95 1.05 2.95 1.05 2.95 1.05 0"/>
<path d="M17.33 0.76A17.35 17.35 0 0 1 -0.45 17.34A17.35 17.35 0 0 1 -17.35 -0.15" pathLength="178" stroke="#001eff" stroke-dasharray="0 2 1.05 2.95 1.05 1.95 1.05 0.95 1.05 2.95 3.05 0.95 1.05 0.95 1.05 1.95 1.05 0.95 1.05 0.95 5.05 5.95 2.05 4.95 1.05 0.95 2.05 7.95 3.05 2.95 1.05 5.95 3.05 0.95 1.05 3.95 2.05 3.95 1.05 6.95 1.05 9.95 1.05 1.95 1.05 0.95 1.05 0.95 1.05 1.95 1.05 6.95 1.05 2.95 1.05 2.95 10.05 0.95 3.05 0.95 1.05 1.95 1.05 4.95 2.05 6.95 1.05 2.95 2.05 1.95 2.05 3.95"/>
<path d="M22.33 0.97A22.35 22.35 0 0 1 -0.59 22.34A22.35 22.35 0 0 1 -22.35 -0.20" pathLength="178" stroke="#001eff" stroke-dasharray="0 1 2.05 2.95 2.05 0.95 1.05 4.95 2.05 3.95 1.05 0.95 3.05 1.95 5.05 15.95 1.05 2.95 2.05 1.95 2.05 0.95 2.05 0.95 2.05 3.95 1.05 0.95 1.05 6.95 1.05 0.95 1.05 3.95 1.05 1.95 1.05 2.95 2.05 7.95 1.05 0.95 2.05 1.95 1.05 1.95 1.05 0.95 2.05 0.95 1.05 1.95 1.05 3.95 1.05 0.95 2.05 1.95 9.05 2.95 1.05 9.95 1.05 5.95 1.05 1.95 1.05 12.95"/>
<path d="M27.32 1.19A27.35 27.35 0 0 1 -0.72 27.34A27.35 27.35 0 0 1 -27.35 -0.24" pathLength="178" stroke="#001eff" stroke-dasharray="0 1 2.05 1.95 2.05 1.95 1.05 4.95 4.05 1.95 2.05 0.95 2.05 2.95 4.05 5.95 3.05 10.95 3.05 1.95 2.05 3.95 1.05 0.95 1.05 4.95 1.05 1.95 1.05 0.95 1.05 1.95 1.05 4.95 2.05 11.95 1.05 2.95 1.05 0.95 1.05 1.95 7.05 5.95 2.05 0.95 1.05 5.95 1.05 0.95 4.05 0.95 3.05 0.95 1.05 8.95 1.05 1.95 1.05 0.95 1.05 4.95 1.05 2.95 2.05 0.95 1.05 4.95 1.05 0"/>
<path d="M32.32 1.41A32.35 32.35 0 0 1 -0.85 32.34A32.35 32.35 0 0 1 -32.35 -0.28" pathLength="178" stroke="#001eff" stroke-dasharray="0 1 2.05 1.95 1.05 2.95 1.05 2.95 1.05 0.95 1.05 2.95 3.05 1.95 1.05 0.95 1.05 0.95 4.05 2.95 1.05 1.95 1.05 1.95 1.05 6.95 1.05 4.95 1.05 1.95 1.05 0.95 1.05 1.95 4.05 1.95 1.05 1.95 2.05 0.95 1.05 4.95 1.05 1.95 1.05 3.95 2.05 2.95 1.05 2.95 1.05 0.95 1.05 0.95 1.05 3.95 1.05 1.95 1.05 3.95 2.05 1.95 2.05 1.95 1.05 2.95 1.05 1.95 3.05 0.95 4.05 0.95 3.05 0.95 1.05 2.95 1.05 6.95 1.05 7.95 2.05 2.95 1.05 0.95 2.05 4.95"/>
<path d="M37.31 1.63A37.35 37.35 0 0 1 -0.98 37.34A37.35 37.35 0 0 1 -37.35 -0.33" pathLength="178" stroke="#001eff" stroke-dasharray="0 1 3.05 1.95 1.05 1.95 1.05 4.95 2.05 0.95 1.05 1.95 2.05 0.95 4.05 0.95 4.05 7.95 1.05 3.95 1.05 1.95 1.05 0.95 1.05 0.95 1.05 0.95 7.05 0.95 4.05 1.95 1.05 0.95 3.05 0.95 1.05 2.95 1.05 0.95 1.05 0.95 1.05 0.95 2.05 1.95 2.05 6.95 1.05 3.95 1.05 0.95 3.05 0.95 2.05 1.95 1.05 0.95 1.05 3.95 1.05 1.95 1.05 2.95 1.05 2.95 1.05 1.95 7.05 1.95 3.05 7.95 1.05 0.95 1.05 6.95 2.05 2.95 1.05 0.95 1.05 5.95"/>
<path d="M42.31 1.85A42.35 42.35 0 0 1 -1.11 42.34A42.35 42.35 0 0 1 -42.35 -0.37" pathLength="178" stroke="#001eff" stroke-dasharray="0 1 1.05 3.95 4.05 4.95 4.05 1.95 1.05 1.95 1.05 3.95 3.05 7.95 1.05 4.95 1.05 0.95 2.05 1.95 3.05 2.95 3.05 0.95 6.05 2.95 1.05 0.95 1.05 0.95 2.05 1.95 3.05 0.95 3.05 1.95 1.05 0.95 1.05 2.95 1.05 1.95 2.05 3.95 1.05 1.95 2.05 1.95 1.05 0.95 2.05 4.95 2.05 3.95 1.05 1.95 2.05 3.95 7.05 1.95 2.05 3.95 1.05 3.95 1.05 4.95 2.05 1.95 2.05 2.95 1.05 1.95 1.05 4.95"/>
<path d="M47.30 2.07A47.35 47.35 0 0 1 -1.24 47.33A47.35 47.35 0 0 1 -47.35 -0.41" pathLength="178" stroke="#001eff" stroke-dasharray="0 1 1.05 3.95 2.05 0.95 1.05 1.95 1.05 1.95 5.05 0.95 1.05 0.95 3.05 0.95 5.05 4.95 1.05 0.95 1.05 0.95 1.05 1.95 1.05 0.95 2.05 0.95 1.05 0.95 6.05 0.95 2.05 3.95 4.05 0.95 1.05 0.95 3.05 6.95 1.05 3.95 1.05 0.95 1.05 4.95 1.05 1.95 2.05 0.95 4.05 1.95 3.05 1.95 2.05 0.95 1.05 0.95 1.05 1.95 3.05 0.95 1.05 0.95 4.05 1.95 1.05 2.95 3.05 0.95 3.05 0.95 1.05 0.95 2.05 1.95 1.05 3.95 3.05 1.95 1.05 0.95 1.05 1.95 2.05 1.95 1.05 2.95 2.05 1.95 2.05 0"/>
<path d="M52.30 2.28A52.35 52.35 0 0 1 -1.37 52.33A52.35 52.35 0 0 1 -52.35 -0.46" pathLength="178" stroke="#001eff" stroke-dasharray="0 1 2.05 3.95 1.05 3.95 1.05 0.95 4.05 0.95 1.05 0.95 1.05 0.95 2.05 0.95 1.05 0.95 1.05 0.95 2.05 6.95 3.05 3.95 4.05 1.95 1.05 0.95 2.05 1.95 3.05 1.95 3.05 2.95 1.05 1.95 4.05 2.95 4.05 0.95 5.05 1.95 1.05 7.95 5.05 3.95 2.05 0.95 1.05 0.95 1.05 0.95 1.05 2.95 1.05 0.95 1.05 4.95 2.05 0.95 5.05 0.95 3.05 0.95 5.05 1.95 1.05 2.95 2.05 0.95 2.05 1.95 1.05 2.95 2.05 11.95 1.05 0"/>
<path d="M57.30 2.50A57.35 57.35 0 0 1 -1.50 57.33A57.35 57.35 0 0 1 -57.35 -0.50" pathLength="178" stroke="#001eff" stroke-dasharray="0 1 2.05 1.95 3.05 0.95 1.05 1.95 3.05 0.95 5.05 1.95 2.05 0.95 1.05 2.95 2.05 1.95 1.05 3.95 2.05 2.95 1.05 1.95 1.05 0.95 1.05 2.95 1.05 0.95 2.05 0.95 4.05 0.95 2.05 0.95 1.05 0.95 2.05 0.95 5.05 0.95 3.05 0.95 1.05 0.95 2.05 0.95 1.05 0.95 1.05 8.95 1.05 1.95 2.05 0.95 1.05 0.95 1.05 1.95 6.05 1.95 1.05 1.95 1.05 0.95 2.05 1.95 1.05 0.95 1.05 0.95 3.05 1.95 11.05 5.95 1.05 0.95 1.05 0.95 1.05 0.95 2.05 0.95 1.05 0.95 3.05 1.95 1.05 1.95 3.05 3.95"/>
<path d="M62.29 2.72A62.35 62.35 0 0 1 -1.63 62.33A62.35 62.35 0 0 1 -62.35 -0.54" pathLength="178" stroke="#001eff" stroke-dasharray="0 1 2.05 0.95 1.05 0.95 1.05 1.95 1.05 4.95 3.05 2.95 1.05 1.95 4.05 1.95 1.05 0.95 1.05 5.95 3.05 2.95 2.05 3.95 1.05 0.95 1.05 0.95 6.05 4.95 2.05 2.95 3.05 0.95 1.05 2.95 3.05 2.95 4.05 0.95 1.05 4.95 2.05 5.95 4.05 2.95 5.05 0.95 1.05 3.95 1.05 1.95 5.05 0.95 15.05 1.95 2.05 1.95 1.05 0.95 1.05 1.95 1.05 2.95 2.05 0.95 1.05 3.95 3.05 4.95 1.05 0"/>
<path d="M67.29 2.94A67.35 67.35 0 0 1 -1.76 67.33A67.35 67.35 0 0 1 -67.35 -0.59" pathLength="178" stroke="#001eff" stroke-dasharray="0 1 4.05 0.95 2.05 0.95 1.05 2.95 10.05 1.95 2.05 2.95 1.05 0.95 1.05 4.95 4.05 1.95 4.05 0.95 3.05 0.95 3.05 0.95 3.05 0.95 1.05 0.95 5.05 0.95 1.05 0.95 3.05 1.95 1.05 1.95 3.05 0.95 2.05 0.95 1.05 0.95 3.05 1.95 1.05 1.95 3.05 1.95 3.05 2.95 4.05 0.95 2.05 1.95 1.05 5.95 1.05 0.95 4.05 1.95 3.05 0.95 1.05 0.95 9.05 2.95 1.05 1.95 2.05 0.95 1.05 1.95 1.05 4.95 1.05 1.95 1.05 0.95 5.05 0.95 1.05 0.95 1.05 0"/>
<path d="M72.28 3.16A72.35 72.35 0 0 1 -1.89 72.33A72.35 72.35 0 0 1 -72.35 -0.63" pathLength="178" stroke="#001eff" stroke-dasharray="0 4 1.05 0.95 1.05 1.95 1.05 1.95 1.05 1.95 3.05 0.95 3.05 0.95 5.05 0.95 5.05 0.95 1.05 2.95 3.05 1.95 1.05 0.95 1.05 0.95 2.05 1.95 2.05 0.95 1.05 1.95 3.05 2.95 2.05 0.95 1.05 0.95 5.05 0.95 1.05 4.95 1.05 1.95 7.05 1.95 2.05 1.95 2.05 0.95 1.05 0.95 2.05 0.95 8.05 0.95 1.05 0.95 1.05 1.95 1.05 1.95 2.05 0.95 9.05 0.95 2.05 0.95 7.05 0.95 4.05 3.95 1.05 0.95 1.05 0.95 2.05 0.95 1.05 1.95 1.05 4.95 1.05 0.95 2.05 2.95 1.05 0"/>
<path d="M77.28 3.37A77.35 77.35 0 0 1 -2.02 77.32A77.35 77.35 0 0 1 -77.35 -0.67" pathLength="178" stroke="#001eff" stroke-dasharray="0 1 1.05 2.95 3.05 4.95 1.05 0.95 8.05 0.95 1.05 0.95 1.05 0.95 1.05 0.95 3.05 3.95 1.05 1.95 2.05 1.95 2.05 1.95 2.05 0.95 2.05 2.95 1.05 0.95 2.05 2.95 5.05 0.95 4.05 1.95 1.05 1.95 2.05 0.95 1.05 0.95 1.05 0.95 2.05 0.95 3.05 1.95 2.05 1.95 2.05 0.95 1.05 0.95 2.05 0.95 5.05 1.95 2.05 0.95 1.05 0.95 2.05 0.95 1.05 0.95 3.05 0.95 7.05 0.95 11.05 2.95 1.05 0.95 1.05 0.95 5.05 3.95 1.05 1.95 1.05 2.95 4.05 2.95 1.05 1.95"/>
<path d="M82.27 3.59A82.35 82.35 0 0 1 -2.16 82.32A82.35 82.35 0 0 1 -82.35 -0.72" pathLength="178" stroke="#001eff" stroke-dasharray="0 1 2.05 1.95 3.05 0.95 1.05 1.95 1.05 0.95 15.05 0.95 3.05 0.95 1.05 1.95 2.05 1.95 1.05 3.95 4.05 0.95 3.05 0.95 1.05 0.95 2.05 0.95 2.05 1.95 1.05 0.95 2.05 0.95 1.05 0.95 2.05 0.95 8.05 3.95 5.05 0.95 3.05 0.95 6.05 0.95 2.05 1.95 1.05 0.95 1.05 0.95 5.05 2.95 1.05 0.95 3.05 1.95 2.05 1.95 3.05 0.95 7.05 0.95 3.05 0.95 1.05 3.95 1.05 0.95 1.05 0.95 3.05 0.95 1.05 0.95 1.05 0.95 3.05 0.95 2.05 0.95 4.05 1.95 2.05 0"/>
<path d="M87.27 3.81A87.35 87.35 0 0 1 -2.29 87.32A87.35 87.35 0 0 1 -87.35 -0.76" pathLength="178" stroke="#001eff" stroke-dasharray="4.05 0.95 1.05 1.95 2.05 0.95 3.05 1.95 4.05 0.95 1.05 0.95 3.05 1.95 1.05 0.95 1.05 0.95 1.05 2.95 5.05 0.95 3.05 0.95 2.05 0.95 3.05 0.95 4.05 0.95 4.05 0.95 4.05 0.95 7.05 3.95 13.05 1.95 3.05 0.95 3.05 0.95 3.05 0.95 5.05 0.95 2.05 0.95 3.05 0.95 1.05 2.95 1.05 0.95 4.05 0.95 3.05 1.95 4.05 0.95 2.05 1.95 2.05 0.95 3.05 2.95 1.05 0.95 2.05 2.95 2.05 1.95 2.05 2.95 3.05 3.95 2.05 0"/>
<path d="M92.26 4.03A92.35 92.35 0 0 1 -2.42 92.32A92.35 92.35 0 0 1 -92.35 -0.81" pathLength="178" stroke="#001eff" stroke-dasharray="0 1 2.05 0.95 3.05 1.95 1.05 1.95 2.05 0.95 1.05 0.95 8.05 0.95 2.05 0.95 5.05 0.95 1.05 3.95 3.05 2.95 4.05 1.95 1.05 0.95 7.05 1.95 2.05 3.95 8.05 1.95 10.05 0.95 2.05 1.95 4.05 0.95 2.05 1.95 3.05 0.95 11.05 0.95 5.05 0.95 1.05 0.95 2.05 0.95 4.05 0.95 9.05 1.95 2.05 1.95 2.05 0.95 4.05 0.95 4.05 0.95 7.05 0.95 2.05 0.95 4.05 0"/>
<path d="M97.26 4.25A97.35 97.35 0 0 1 -2.55 97.32A97.35 97.35 0 0 1 -97.35 -0.85" pathLength="178" stroke="#001eff" stroke-dasharray="0 1 2.05 0.95 4.05 0.95 1.05 5.95 11.05 0.95 5.05 5.95 2.05 1.95 1.05 0.95 3.05 0.95 4.05 0.95 8.05 1.95 4.05 0.95 2.05 0.95 5.05 1.95 6.05 0.95 4.05 0.95 8.05 3.95 1.05 0.95 8.05 0.95 5.05 0.95 1.05 0.95 2.05 0.95 4.05 1.95 1.05 0.95 1.05 1.95 6.05 0.95 1.05 0.95 5.05 4.95 4.05 1.95 1.05 0.95 3.05 1.95 2.05 1.95 1.05 0.95 1.05 2.95"/>
<path d="M102.25 4.46A102.35 102.35 0 0 1 -2.68 102.31A102.35 102.35 0 0 1 -102.35 -0.89" pathLength="178" stroke="#001eff" stroke-dasharray="0 1 2.05 0.95 1.05 0.95 1.05 1.95 1.05 3.95 11.05 3.95 4.05 1.95 1.05 0.95 8.05 0.95 1.05 0.95 8.05 0.95 4.05 0.95 3.05 0.95 1.05 0.95 2.05 0.95 4.05 1.95 1.05 1.95 12.05 0.95 4.05 1.95 2.05 2.95 8.05 2.95 3.05 1.95 4.05 0.95 5.05 0.95 9.05 0.95 3.05 0.95 3.05 0.95 1.05 1.95 5.05 0.95 7.05 0.95 1.05 0.95 2.05 0.95 2.05 0.95 4.05 0"/>
<path d="M107.25 4.68A107.35 107.35 0 0 1 -2.81 107.31A107.35 107.35 0 0 1 -107.35 -0.94" pathLength="178" stroke="#001eff" stroke-dasharray="0 1 1.05 0.95 5.05 1.95 1.05 1.95 5.05 0.95 1.05 0.95 11.05 0.95 10.05 0.95 12.05 1.95 3.05 1.95 3.05 0.95 21.05 1.95 7.05 0.95 4.05 0.95 5.05 0.95 9.05 0.95 2.05 3.95 2.05 1.95 5.05 0.95 9.05 1.95 1.05 4.95 1.05 1.95 2.05 0.95 10.05 0.95 1.05 0.95 3.05 1.95 2.05 0"/>
<path d="M112.24 4.90A112.35 112.35 0 0 1 -2.94 112.31A112.35 112.35 0 0 1 -112.35 -0.98" pathLength="178" stroke="#001eff" stroke-dasharray="0 1 6.05 1.95 2.05 1.95 19.05 2.95 5.05 0.95 1.05 2.95 1.05 0.95 1.05 0.95 4.05 0.95 1.05 0.95 11.05 0.95 8.05 1.95 10.05 0.95 3.05 0.95 11.05 1.95 5.05 0.95 8.05 1.95 1.05 1.95 3.05 0.95 4.05 0.95 14.05 0.95 2.05 2.95 1.05 0.95 3.05 0.95 3.05 0.95 2.05 0.95 7.05 2.95 1.05 0"/>
<path d="M117.24 5.12A117.35 117.35 0 0 1 -3.07 117.31A117.35 117.35 0 0 1 -117.35 -1.02" pathLength="178" stroke="#001eff" stroke-dasharray="4.05 0.95 3.05 0.95 1.05 1.95 6.05 0.95 2.05 1.95 1.05 0.95 2.05 0.95 6.05 0.95 2.05 1.95 1.05 0.95 3.05 0.95 5.05 2.95 8.05 1.95 4.05 1.95 2.05 0.95 5.05 0.95 19.05 0.95 7.05 0.95 4.05 0.95 3.05 0.95 9.05 0.95 21.05 2.95 1.05 0.95 9.05 3.95 1.05 0.95 8.05 3.95"/>
<path d="M122.23 5.34A122.35 122.35 0 0 1 -3.20 122.31A122.35 122.35 0 0 1 -122.35 -1.07" pathLength="178" stroke="#001eff" stroke-dasharray="0 1 6.05 1.95 1.05 0.95 21.05 0.95 5.05 0.95 6.05 0.95 2.05 0.95 14.05 1.95 3.05 0.95 3.05 0.95 4.05 0.95 5.05 0.95 11.05 0.95 2.05 0.95 5.05 0.95 13.05 0.95 42.05 1.95 11.05 0.95 3.05 0"/>
<path d="M127.23 5.55A127.35 127.35 0 0 1 -3.33 127.31A127.35 127.35 0 0 1 -127.35 -1.11" pathLength="178" stroke="#001eff" stroke-dasharray="1.05 0.95 6.05 0.95 1.05 5.95 10.05 0.95 8.05 0.95 1.05 1.95 3.05 0.95 4.05 1.95 1.05 1.95 13.05 0.95 4.05 0.95 5.05 0.95 7.05 0.95 6.05 1.95 2.05 1.95 1.05 0.95 19.05 1.95 10.05 0.95 1.05 0.95 19.05 1.95 3.05 0.95 3.05 0.95 3.05 1.95 11.05 0"/>
<path d="M12.34 0.54A12.35 12.35 0 0 1 -0.32 12.35A12.35 12.35 0 0 1 -12.35 -0.11" pathLength="178" stroke="#007cff" stroke-dasharray="0 27 6.05 24.95 1.05 72.95 7.05 38.95"/>
<path d="M17.33 0.76A17.35 17.35 0 0 1 -0.45 17.34A17.35 17.35 0 0 1 -17.35 -0.15" pathLength="178" stroke="#007cff" stroke-dasharray="0 28 5.05 5.95 1.05 92.95 5.05 39.95"/>
<path d="M22.33 0.97A22.35 22.35 0 0 1 -0.59 22.34A22.35 22.35 0 0 1 -22.35 -0.20" pathLength="178" stroke="#007cff" stroke-dasharray="0 29 4.05 52.95 1.05 1.95 1.05 43.95 3.05 40.95"/>
<path d="M27.32 1.19A27.35 27.35 0 0 1 -0.72 27.34A27.35 27.35 0 0 1 -27.35 -0.24" pathLength="178" stroke="#007cff" stroke-dasharray="0 1 1.05 26.95 3.05 101.95 4.05 39.95"/>
<path d="M32.32 1.41A32.35 32.35 0 0 1 -0.85 32.34A32.35 32.35 0 0 1 -32.35 -0.28" pathLength="178" stroke="#007cff" stroke-dasharray="0 2 1.05 25.95 3.05 87.95 1.05 12.95 3.05 40.95"/>
<path d="M37.31 1.63A37.35 37.35 0 0 1 -0.98 37.34A37.35 37.35 0 0 1 -37.35 -0.33" pathLength="178" stroke="#007cff" stroke-dasharray="0 2 1.05 25.95 3.05 48.95 1.05 51.95 4.05 25.95 1.05 12.95"/>
<path d="M42.31 1.85A42.35 42.35 0 0 1 -1.11 42.34A42.35 42.35 0 0 1 -42.35 -0.37" pathLength="178" stroke="#007cff" stroke-dasharray="0 30 2.05 47.95 1.05 6.95 1.05 44.95 2.05 2.95 1.05 2.95 1.05 33.95"/>
<path d="M47.30 2.07A47.35 47.35 0 0 1 -1.24 47.33A47.35 47.35 0 0 1 -47.35 -0.41" pathLength="178" stroke="#007cff" stroke-dasharray="0 30 1.05 26.95 1.05 12.95 2.05 60.95 1.05 8.95 1.05 30.95 1.05 0"/>
<path d="M52.30 2.28A52.35 52.35 0 0 1 -1.37 52.33A52.35 52.35 0 0 1 -52.35 -0.46" pathLength="178" stroke="#007cff" stroke-dasharray="0 2 1.05 11.95 2.05 3.95 1.05 7.95 1.05 17.95 1.05 7.95 1.05 44.95 1.05 29.95 1.05 41.95"/>
<path d="M57.30 2.50A57.35 57.35 0 0 1 -1.50 57.33A57.35 57.35 0 0 1 -57.35 -0.50" pathLength="178" stroke="#007cff" stroke-dasharray="0 30 1.05 26.95 1.05 23.95 1.05 21.95 1.05 4.95 1.05 21.95 1.05 6.95 2.05 18.95 1.05 12.95"/>
<path d="M62.29 2.72A62.35 62.35 0 0 1 -1.63 62.33A62.35 62.35 0 0 1 -62.35 -0.54" pathLength="178" stroke="#007cff" stroke-dasharray="0 6 1.05 13.95 1.05 7.95 1.05 26.95 2.05 74.95 1.05 1.95 2.05 2.95 1.05 26.95 1.05 5.95"/>
<path d="M67.29 2.94A67.35 67.35 0 0 1 -1.76 67.33A67.35 67.35 0 0 1 -67.35 -0.59" pathLength="178" stroke="#007cff" stroke-dasharray="0 2 1.05 5.95 1.05 4.95 3.05 0.95 1.05 0.95 1.05 7.95 1.05 23.95 1.05 14.95 1.05 7.95 1.05 2.95 1.05 11.95 1.05 10.95 1.05 20.95 1.05 2.95 1.05 2.95 1.05 0.95 1.05 0.95 1.05 8.95 1.05 23.95"/>
<path d="M72.28 3.16A72.35 72.35 0 0 1 -1.89 72.33A72.35 72.35 0 0 1 -72.35 -0.63" pathLength="178" stroke="#007cff" stroke-dasharray="0 17 1.05 0.95 1.05 6.95 1.05 1.95 2.05 6.95 1.05 12.95 1.05 16.95 1.05 8.95 1.05 3.95 1.05 1.95 1.05 12.95 1.05 1.95 1.05 23.95 1.05 2.95 2.05 5.95 1.05 19.95 1.05 12.95"/>
<path d="M77.28 3.37A77.35 77.35 0 0 1 -2.02 77.32A77.35 77.35 0 0 1 -77.35 -0.67" pathLength="178" stroke="#007cff" stroke-dasharray="0 30 1.05 9.95 1.05 15.95 1.05 3.95 2.05 6.95 1.05 4.95 1.05 9.95 1.05 6.95 2.05 23.95 1.05 2.95 1.05 6.95 3.05 25.95 1.05 2.95 1.05 1.95 1.05 5.95"/>
<path d="M82.27 3.59A82.35 82.35 0 0 1 -2.16 82.32A82.35 82.35 0 0 1 -82.35 -0.72" pathLength="178" stroke="#007cff" stroke-dasharray="0 6 1.05 8.95 3.05 7.95 1.05 1.95 1.05 6.95 1.05 7.95 1.05 0.95 1.05 7.95 1.05 6.95 1.05 4.95 1.05 6.95 2.05 3.95 1.05 2.95 1.05 17.95 1.05 4.95 1.05 5.95 1.05 3.95 1.05 3.95 1.05 1.95 4.05 0.95 1.05 13.95 1.05 7.95 1.05 6.95 2.05 2.95 1.05 0"/>
<path d="M87.27 3.81A87.35 87.35 0 0 1 -2.29 87.32A87.35 87.35 0 0 1 -87.35 -0.76" pathLength="178" stroke="#007cff" stroke-dasharray="0 2 1.05 1.95 1.05 2.95 1.05 1.95 1.05 2.95 1.05 1.95 1.05 0.95 1.05 2.95 1.05 3.95 1.05 5.95 1.05 15.95 1.05 2.95 1.05 3.95 1.05 7.95 3.05 10.95 2.05 2.95 1.05 6.95 1.05 25.95 1.05 7.95 3.05 1.95 1.05 6.95 2.05 4.95 1.05 7.95 1.05 3.95 1.05 7.95"/>
<path d="M92.26 4.03A92.35 92.35 0 0 1 -2.42 92.32A92.35 92.35 0 0 1 -92.35 -0.81" pathLength="178" stroke="#007cff" stroke-dasharray="0 2 1.05 0.95 2.05 12.95 3.05 6.95 2.05 14.95 1.05 0.95 1.05 4.95 1.05 4.95 1.05 7.95 1.05 0.95 2.05 0.95 1.05 11.95 1.05 8.95 1.05 5.95 1.05 6.95 1.05 1.95 1.05 2.95 1.05 1.95 1.05 3.95 1.05 1.95 1.05 3.95 4.05 0.95 1.05 14.95 1.05 9.95 2.05 1.95 1.05 4.95 1.05 0"/>
<path d="M97.26 4.25A97.35 97.35 0 0 1 -2.55 97.32A97.35 97.35 0 0 1 -97.35 -0.85" pathLength="178" stroke="#007cff" stroke-dasharray="0 2 1.05 2.95 1.05 1.95 1.05 7.95 1.05 1.95 1.05 1.95 2.05 2.95 2.05 0.95 1.05 12.95 1.05 1.95 1.05 7.95 1.05 0.95 1.05 3.95 2.05 2.95 1.05 1.95 1.05 6.95 1.05 0.95 1.05 2.95 3.05 2.95 1.05 8.95 1.05 1.95 1.05 1.95 1.05 0.95 2.05 11.95 1.05 9.95 4.05 0.95 1.05 12.95 1.05 0.95 1.05 5.95 2.05 11.95"/>
<path d="M102.25 4.46A102.35 102.35 0 0 1 -2.68 102.31A102.35 102.35 0 0 1 -102.35 -0.89" pathLength="178" stroke="#007cff" stroke-dasharray="0 1 1.05 1.95 1.05 0.95 1.05 9.95 1.05 2.95 1.05 6.95 2.05 7.95 1.05 14.95 1.05 1.95 1.05 0.95 1.05 1.95 1.05 6.95 2.05 0.95 1.05 10.95 1.05 1.95 1.05 0.95 1.05 14.95 1.05 1.95 1.05 4.95 1.05 10.95 1.05 1.95 1.05 2.95 5.05 2.95 1.05 2.95 1.05 0.95 1.05 2.95 1.05 0.95 2.05 5.95 1.05 4.95 1.05 5.95 1.05 0.95"/>
<path d="M107.25 4.68A107.35 107.35 0 0 1 -2.81 107.31A107.35 107.35 0 0 1 -107.35 -0.94" pathLength="178" stroke="#007cff" stroke-dasharray="0 1 1.05 0.95 1.05 1.95 1.05 6.95 1.05 1.95 1.05 5.95 2.05 2.95 2.05 3.95 1.05 8.95 2.05 2.95 1.05 6.95 2.05 2.95 1.05 0.95 1.05 4.95 1.05 1.95 1.05 6.95 1.05 9.95 1.05 0.95 1.05 1.95 1.05 0.95 2.05 1.95 2.05 0.95 1.05 0.95 1.05 0.95 2.05 1.95 3.05 6.95 1.05 9.95 4.05 1.95 2.05 11.95 1.05 1.95 1.05 0.95 1.05 0.95 4.05 10.95"/>
<path d="M112.24 4.90A112.35 112.35 0 0 1 -2.94 112.31A112.35 112.35 0 0 1 -112.35 -0.98" pathLength="178" stroke="#007cff" stroke-dasharray="0 6 1.05 1.95 1.05 2.95 1.05 2.95 1.05 0.95 1.05 0.95 1.05 1.95 1.05 3.95 3.05 3.95 1.05 1.95 1.05 0.95 1.05 4.95 1.05 0.95 1.05 1.95 1.05 5.95 2.05 1.95 1.05 0.95 1.05 2.95 2.05 1.95 1.05 0.95 1.05 1.95 1.05 0.95 1.05 2.95 1.05 4.95 1.05 5.95 1.05 0.95 2.05 4.95 1.05 1.95 1.05 1.95 1.05 1.95 4.05 6.95 2.05 2.95 1.05 3.95 5.05 1.95 1.05 0.95 1.05 0.95 1.05 7.95 3.05 4.95 2.05 0.95 1.05 2.95 2.05 3.95 1.05 0"/>
<path d="M117.24 5.12A117.35 117.35 0 0 1 -3.07 117.31A117.35 117.35 0 0 1 -117.35 -1.02" pathLength="178" stroke="#007cff" stroke-dasharray="0 6 1.05 1.95 1.05 1.95 1.05 1.95 1.05 0.95 1.05 1.95 1.05 6.95 4.05 10.95 1.05 3.95 2.05 3.95 1.05 1.95 4.05 1.95 2.05 0.95 1.05 1.95 1.05 1.95 2.05 1.95 1.05 0.95 1.05 2.95 2.05 5.95 4.05 1.95 1.05 4.95 1.05 0.95 1.05 2.95 2.05 2.95 1.05 1.95 1.05 2.95 1.05 0.95 1.05 1.95 1.05 1.95 1.05 1.95 1.05 1.95 1.05 0.95 5.05 0.95 4.05 5.95 5.05 0.95 2.05 3.95 1.05 5.95 1.05 5.95"/>
<path d="M122.23 5.34A122.35 122.35 0 0 1 -3.20 122.31A122.35 122.35 0 0 1 -122.35 -1.07" pathLength="178" stroke="#007cff" stroke-dasharray="0 3 1.05 1.95 1.05 1.95 1.05 5.95 7.05 0.95 7.05 4.95 1.05 1.95 1.05 0.95 1.05 0.95 1.05 1.95 1.05 3.95 3.05 0.95 6.05 3.95 2.05 1.95 2.05 2.95 2.05 3.95 1.05 0.95 1.05 0.95 1.05 6.95 1.05 0.95 1.05 3.95 2.05 1.95 1.05 0.95 1.05 0.95 1.05 0.95 1.05 2.95 1.05 1.95 2.05 5.95 5.05 2.95 1.05 0.95 1.05 0.95 6.05 0.95 1.05 0.95 1.05 0.95 1.05 3.95 1.05 1.95 1.05 3.95 1.05 2.95 2.05 1.95 3.05 3.95 1.05 0.95 1.05 0"/>
<path d="M127.23 5.55A127.35 127.35 0 0 1 -3.33 127.31A127.35 127.35 0 0 1 -127.35 -1.11" pathLength="178" stroke="#007cff" stroke-dasharray="0 2 1.05 0.95 1.05 0.95 2.05 0.95 1.05 6.95 2.05 1.95 3.05 0.95 1.05 2.95 2.05 0.95 1.05 5.95 2.05 2.95 2.05 5.95 1.05 0.95 1.05 1.95 3.05 2.95 1.05 1.95 1.05 1.95 1.05 0.95 4.05 4.95 3.05 2.95 3.05 0.95 1.05 1.95 1.05 2.95 1.05 1.95 3.05 0.95 1.05 3.95 1.05 0.95 3.05 1.95 1.05 2.95 2.05 2.95 2.05 1.95 1.05 0.95 1.05 0.95 2.05 0.95 6.05 0.95 3.05 1.95 1.05 0.95 1.05 2.95 3.05 0.95 2.05 1.95 1.05 0.95 1.05 3.95 4.05 2.95 2.05 0"/>
<path d="M17.33 0.76A17.35 17.35 0 0 1 -0.45 17.34A17.35 17.35 0 0 1 -17.35 -0.15" pathLength="178" stroke="#0068ff" stroke-dasharray="0 28 5.05 99.95 5.05 39.95"/>
<path d="M37.31 1.63A37.35 37.35 0 0 1 -0.98 37.34A37.35 37.35 0 0 1 -37.35 -0.33" pathLength="178" stroke="#0068ff" stroke-dasharray="0 30 2.05 101.95 3.05 40.95"/>
<path d="M67.29 2.94A67.35 67.35 0 0 1 -1.76 67.33A67.35 67.35 0 0 1 -67.35 -0.59" pathLength="178" stroke="#0068ff" stroke-dasharray="0 30 1.05 99.95 1.05 2.95 1.05 41.95"/>
<path d="M72.28 3.16A72.35 72.35 0 0 1 -1.89 72.33A72.35 72.35 0 0 1 -72.35 -0.63" pathLength="178" stroke="#0068ff" stroke-dasharray="0 30 1.05 54.95 1.05 47.95 2.05 40.95"/>
<path d="M77.28 3.37A77.35 77.35 0 0 1 -2.02 77.32A77.35 77.35 0 0 1 -77.35 -0.67" pathLength="178" stroke="#0068ff" stroke-dasharray="0 30 1.05 103.95 2.05 26.95 1.05 12.95"/>
<path d="M82.27 3.59A82.35 82.35 0 0 1 -2.16 82.32A82.35 82.35 0 0 1 -82.35 -0.72" pathLength="178" stroke="#0068ff" stroke-dasharray="0 30 1.05 26.95 1.05 21.95 1.05 52.95 3.05 16.95 1.05 21.95"/>
<path d="M87.27 3.81A87.35 87.35 0 0 1 -2.29 87.32A87.35 87.35 0 0 1 -87.35 -0.76" pathLength="178" stroke="#0068ff" stroke-dasharray="0 19 1.05 9.95 1.05 26.95 1.05 75.95 1.05 0.95 1.05 16.95 1.05 7.95 1.05 12.95"/>
<path d="M97.26 4.25A97.35 97.35 0 0 1 -2.55 97.32A97.35 97.35 0 0 1 -97.35 -0.85" pathLength="178" stroke="#0068ff" stroke-dasharray="0 24 1.05 3.95 2.05 104.95 3.05 38.95"/>
<path d="M107.25 4.68A107.35 107.35 0 0 1 -2.81 107.31A107.35 107.35 0 0 1 -107.35 -0.94" pathLength="178" stroke="#0068ff" stroke-dasharray="0 17 1.05 6.95 1.05 2.95 2.05 14.95 1.05 88.95 4.05 2.95 1.05 33.95"/>
<path d="M112.24 4.90A112.35 112.35 0 0 1 -2.94 112.31A112.35 112.35 0 0 1 -112.35 -0.98" pathLength="178" stroke="#0068ff" stroke-dasharray="0 6 1.05 9.95 1.05 10.95 3.05 36.95 2.05 25.95 1.05 37.95 4.05 37.95"/>
<path d="M117.24 5.12A117.35 117.35 0 0 1 -3.07 117.31A117.35 117.35 0 0 1 -117.35 -1.02" pathLength="178" stroke="#0068ff" stroke-dasharray="0 17 1.05 9.95 3.05 37.95 1.05 12.95 1.05 5.95 1.05 1.95 1.05 25.95 1.05 6.95 1.05 6.95 5.05 36.95"/>
<path d="M122.23 5.34A122.35 122.35 0 0 1 -3.20 122.31A122.35 122.35 0 0 1 -122.35 -1.07" pathLength="178" stroke="#0068ff" stroke-dasharray="0 17 1.05 0.95 1.05 7.95 3.05 7.95 1.05 5.95 1.05 10.95 1.05 0.95 1.05 51.95 1.05 21.95 5.05 1.95 1.05 33.95"/>
<path d="M127.23 5.55A127.35 127.35 0 0 1 -3.33 127.31A127.35 127.35 0 0 1 -127.35 -1.11" pathLength="178" stroke="#0068ff" stroke-dasharray="0 17 1.05 3.95 2.05 4.95 2.05 7.95 1.05 32.95 1.05 5.95 1.05 29.95 1.05 0.95 1.05 21.95 6.05 13.95 1.05 19.95 1.05 0"/>
<path d="M17.33 0.76A17.35 17.35 0 0 1 -0.45 17.34A17.35 17.35 0 0 1 -17.35 -0.15" pathLength="178" stroke="#00aaff" stroke-dasharray="0 29 3.05 101.95 4.05 39.95"/>
<path d="M32.32 1.41A32.35 32.35 0 0 1 -0.85 32.34A32.35 32.35 0 0 1 -32.35 -0.28" pathLength="178" stroke="#00aaff" stroke-dasharray="0 29 3.05 101.95 3.05 40.95"/>
<path d="M77.28 3.37A77.35 77.35 0 0 1 -2.02 77.32A77.35 77.35 0 0 1 -77.35 -0.67" pathLength="178" stroke="#00aaff" stroke-dasharray="0 30 1.05 103.95 2.05 40.95"/>
<path d="M102.25 4.46A102.35 102.35 0 0 1 -2.68 102.31A102.35 102.35 0 0 1 -102.35 -0.89" pathLength="178" stroke="#00aaff" stroke-dasharray="0 17 1.05 10.95 2.05 104.95 3.05 38.95"/>
<path d="M107.25 4.68A107.35 107.35 0 0 1 -2.81 107.31A107.35 107.35 0 0 1 -107.35 -0.94" pathLength="178" stroke="#00aaff" stroke-dasharray="0 17 1.05 10.95 2.05 104.95 4.05 37.95"/>
<path d="M112.24 4.90A112.35 112.35 0 0 1 -2.94 112.31A112.35 112.35 0 0 1 -112.35 -0.98" pathLength="178" stroke="#00aaff" stroke-dasharray="0 17 1.05 10.95 2.05 104.95 1.05 0.95 2.05 37.95"/>
<path d="M117.24 5.12A117.35 117.35 0 0 1 -3.07 117.31A117.35 117.35 0 0 1 -117.35 -1.02" pathLength="178" stroke="#00aaff" stroke-dasharray="0 17 1.05 9.95 3.05 104.95 5.05 36.95"/>
<path d="M122.23 5.34A122.35 122.35 0 0 1 -3.20 122.31A122.35 122.35 0 0 1 -122.35 -1.07" pathLength="178" stroke="#00aaff" stroke-dasharray="0 17 1.05 10.95 2.05 104.95 1.05 0.95 3.05 36.95"/>
<path d="M127.23 5.55A127.35 127.35 0 0 1 -3.33 127.31A127.35 127.35 0 0 1 -127.35 -1.11" pathLength="178" stroke="#00aaff" stroke-dasharray="0 17 1.05 10.95 2.05 104.95 1.05 1.95 3.05 35.95"/>
<path d="M12.34 0.54A12.35 12.35 0 0 1 -0.32 12.35A12.35 12.35 0 0 1 -12.35 -0.11" pathLength="178" stroke="#00d8ff" stroke-dasharray="0 28 5.05 99.95 5.05 39.95"/>
<path d="M27.32 1.19A27.35 27.35 0 0 1 -0.72 27.34A27.35 27.35 0 0 1 -27.35 -0.24" pathLength="178" stroke="#00d8ff" stroke-dasharray="0 29 3.05 101.95 3.05 40.95"/>
<path d="M32.32 1.41A32.35 32.35 0 0 1 -0.85 32.34A32.35 32.35 0 0 1 -32.35 -0.28" pathLength="178" stroke="#00d8ff" stroke-dasharray="0 30 1.05 102.95 2.05 41.95"/>
<path d="M72.28 3.16A72.35 72.35 0 0 1 -1.89 72.33A72.35 72.35 0 0 1 -72.35 -0.63" pathLength="178" stroke="#00d8ff" stroke-dasharray="0 30 1.05 103.95 2.05 40.95"/>
<path d="M97.26 4.25A97.35 97.35 0 0 1 -2.55 97.32A97.35 97.35 0 0 1 -97.35 -0.85" pathLength="178" stroke="#00d8ff" stroke-dasharray="0 30 1.05 104.95 3.05 38.95"/>
<path d="M102.25 4.46A102.35 102.35 0 0 1 -2.68 102.31A102.35 102.35 0 0 1 -102.35 -0.89" pathLength="178" stroke="#00d8ff" stroke-dasharray="0 29 2.05 104.95 3.05 38.95"/>
<path d="M107.25 4.68A107.35 107.35 0 0 1 -2.81 107.31A107.35 107.35 0 0 1 -107.35 -0.94" pathLength="178" stroke="#00d8ff" stroke-dasharray="0 29 2.05 104.95 4.05 37.95"/>
<path d="M117.24 5.12A117.35 117.35 0 0 1 -3.07 117.31A117.35 117.35 0 0 1 -117.35 -1.02" pathLength="178" stroke="#00d8ff" stroke-dasharray="0 29 2.05 104.95 1.05 0.95 3.05 36.95"/>
<path d="M12.34 0.54A12.35 12.35 0 0 1 -0.32 12.35A12.35 12.35 0 0 1 -12.35 -0.11" pathLength="178" stroke="#12fcec" stroke-dasharray="0 29 3.05 101.95 4.05 39.95"/>
<path d="M22.33 0.97A22.35 22.35 0 0 1 -0.59 22.34A22.35 22.35 0 0 1 -22.35 -0.20" pathLength="178" stroke="#12fcec" stroke-dasharray="0 29 3.05 101.95 3.05 40.95"/>
<path d="M27.32 1.19A27.35 27.35 0 0 1 -0.72 27.34A27.35 27.35 0 0 1 -27.35 -0.24" pathLength="178" stroke="#12fcec" stroke-dasharray="0 30 1.05 102.95 3.05 40.95"/>
<path d="M82.27 3.59A82.35 82.35 0 0 1 -2.16 82.32A82.35 82.35 0 0 1 -82.35 -0.72" pathLength="178" stroke="#12fcec" stroke-dasharray="0 30 1.05 103.95 1.05 0.95 1.05 39.95"/>
<path d="M102.25 4.46A102.35 102.35 0 0 1 -2.68 102.31A102.35 102.35 0 0 1 -102.35 -0.89" pathLength="178" stroke="#12fcec" stroke-dasharray="0 30 1.05 104.95 3.05 38.95"/>
<path d="M107.25 4.68A107.35 107.35 0 0 1 -2.81 107.31A107.35 107.35 0 0 1 -107.35 -0.94" pathLength="178" stroke="#12fcec" stroke-dasharray="0 29 2.05 104.95 1.05 0.95 2.05 37.95"/>
<path d="M112.24 4.90A112.35 112.35 0 0 1 -2.94 112.31A112.35 112.35 0 0 1 -112.35 -0.98" pathLength="178" stroke="#12fcec" stroke-dasharray="0 29 2.05 104.95 1.05 0.95 2.05 37.95"/>
<path d="M12.34 0.54A12.35 12.35 0 0 1 -0.32 12.35A12.35 12.35 0 0 1 -12.35 -0.11" pathLength="178" stroke="#1effe0" stroke-dasharray="0 29 3.05 101.95 3.05 40.95"/>
<path d="M17.33 0.76A17.35 17.35 0 0 1 -0.45 17.34A17.35 17.35 0 0 1 -17.35 -0.15" pathLength="178" stroke="#1effe0" stroke-dasharray="0 29 3.05 101.95 3.05 40.95"/>
<path d="M22.33 0.97A22.35 22.35 0 0 1 -0.59 22.34A22.35 22.35 0 0 1 -22.35 -0.20" pathLength="178" stroke="#1effe0" stroke-dasharray="0 30 2.05 101.95 3.05 40.95"/>
<path d="M87.27 3.81A87.35 87.35 0 0 1 -2.29 87.32A87.35 87.35 0 0 1 -87.35 -0.76" pathLength="178" stroke="#1effe0" stroke-dasharray="0 30 1.05 103.95 1.05 0.95 1.05 39.95"/>
<path d="M117.24 5.12A117.35 117.35 0 0 1 -3.07 117.31A117.35 117.35 0 0 1 -117.35 -1.02" pathLength="178" stroke="#1effe0" stroke-dasharray="0 29 2.05 104.95 1.05 1.95 2.05 36.95"/>
<path d="M122.23 5.34A122.35 122.35 0 0 1 -3.20 122.31A122.35 122.35 0 0 1 -122.35 -1.07" pathLength="178" stroke="#1effe0" stroke-dasharray="0 29 2.05 104.95 1.05 1.95 2.05 36.95"/>
<path d="M127.23 5.55A127.35 127.35 0 0 1 -3.33 127.31A127.35 127.35 0 0 1 -127.35 -1.11" pathLength="178" stroke="#1effe0" stroke-dasharray="0 29 2.05 104.95 1.05 1.95 3.05 35.95"/>
<path d="M12.34 0.54A12.35 12.35 0 0 1 -0.32 12.35A12.35 12.35 0 0 1 -12.35 -0.11" pathLength="178" stroke="#54ffaa" stroke-dasharray="0 29 2.05 103.95 2.05 40.95"/>
<path d="M17.33 0.76A17.35 17.35 0 0 1 -0.45 17.34A17.35 17.35 0 0 1 -17.35 -0.15" pathLength="178" stroke="#54ffaa" stroke-dasharray="0 30 1.05 103.95 2.05 40.95"/>
<path d="M22.33 0.97A22.35 22.35 0 0 1 -0.59 22.34A22.35 22.35 0 0 1 -22.35 -0.20" pathLength="178" stroke="#54ffaa" stroke-dasharray="0 30 1.05 103.95 1.05 41.95"/>
<path d="M92.26 4.03A92.35 92.35 0 0 1 -2.42 92.32A92.35 92.35 0 0 1 -92.35 -0.81" pathLength="178" stroke="#54ffaa" stroke-dasharray="0 30 1.05 104.95 2.05 39.95"/>
<path d="M97.26 4.25A97.35 97.35 0 0 1 -2.55 97.32A97.35 97.35 0 0 1 -97.35 -0.85" pathLength="178" stroke="#54ffaa" stroke-dasharray="0 30 1.05 104.95 2.05 39.95"/>
<path d="M112.24 4.90A112.35 112.35 0 0 1 -2.94 112.31A112.35 112.35 0 0 1 -112.35 -0.98" pathLength="178" stroke="#54ffaa" stroke-dasharray="0 29 2.05 104.95 1.05 1.95 1.05 37.95"/>
<path d="M117.24 5.12A117.35 117.35 0 0 1 -3.07 117.31A117.35 117.35 0 0 1 -117.35 -1.02" pathLength="178" stroke="#54ffaa" stroke-dasharray="0 29 2.05 104.95 1.05 1.95 1.05 37.95"/>
<path d="M122.23 5.34A122.35 122.35 0 0 1 -3.20 122.31A122.35 122.35 0 0 1 -122.35 -1.07" pathLength="178" stroke="#54ffaa" stroke-dasharray="0 29 2.05 107.95 2.05 36.95"/>
<path d="M127.23 5.55A127.35 127.35 0 0 1 -3.33 127.31A127.35 127.35 0 0 1 -127.35 -1.11" pathLength="178" stroke="#54ffaa" stroke-dasharray="0 29 2.05 108.95 2.05 35.95"/>
<path d="M22.33 0.97A22.35 22.35 0 0 1 -0.59 22.34A22.35 22.35 0 0 1 -22.35 -0.20" pathLength="178" stroke="#7cff82" stroke-dasharray="0 135 1.05 41.95"/>
<path d="M27.32 1.19A27.35 27.35 0 0 1 -0.72 27.34A27.35 27.35 0 0 1 -27.35 -0.24" pathLength="178" stroke="#7cff82" stroke-dasharray="0 30 1.05 103.95 1.05 41.95"/>
<path d="M32.32 1.41A32.35 32.35 0 0 1 -0.85 32.34A32.35 32.35 0 0 1 -32.35 -0.28" pathLength="178" stroke="#7cff82" stroke-dasharray="0 30 1.05 103.95 1.05 41.95"/>
<path d="M37.31 1.63A37.35 37.35 0 0 1 -0.98 37.34A37.35 37.35 0 0 1 -37.35 -0.33" pathLength="178" stroke="#7cff82" stroke-dasharray="0 30 1.05 103.95 1.05 41.95"/>
<path d="M42.31 1.85A42.35 42.35 0 0 1 -1.11 42.34A42.35 42.35 0 0 1 -42.35 -0.37" pathLength="178" stroke="#7cff82" stroke-dasharray="0 30 1.05 103.95 1.05 41.95"/>
<path d="M72.28 3.16A72.35 72.35 0 0 1 -1.89 72.33A72.35 72.35 0 0 1 -72.35 -0.63" pathLength="178" stroke="#7cff82" stroke-dasharray="0 30 1.05 103.95 1.05 41.95"/>
<path d="M77.28 3.37A77.35 77.35 0 0 1 -2.02 77.32A77.35 77.35 0 0 1 -77.35 -0.67" pathLength="178" stroke="#7cff82" stroke-dasharray="0 30 1.05 103.95 1.05 41.95"/>
<path d="M102.25 4.46A102.35 102.35 0 0 1 -2.68 102.31A102.35 102.35 0 0 1 -102.35 -0.89" pathLength="178" stroke="#7cff82" stroke-dasharray="0 30 1.05 104.95 1.05 0.95 1.05 38.95"/>
<path d="M107.25 4.68A107.35 107.35 0 0 1 -2.81 107.31A107.35 107.35 0 0 1 -107.35 -0.94" pathLength="178" stroke="#7cff82" stroke-dasharray="0 30 1.05 104.95 1.05 0.95 1.05 38.95"/>
<path d="M117.24 5.12A117.35 117.35 0 0 1 -3.07 117.31A117.35 117.35 0 0 1 -117.35 -1.02" pathLength="178" stroke="#7cff82" stroke-dasharray="0 29 2.05 107.95 1.05 37.95"/>
<path d="M122.23 5.34A122.35 122.35 0 0 1 -3.20 122.31A122.35 122.35 0 0 1 -122.35 -1.07" pathLength="178" stroke="#7cff82" stroke-dasharray="0 29 2.05 108.95 1.05 36.95"/>
<path d="M127.23 5.55A127.35 127.35 0 0 1 -3.33 127.31A127.35 127.35 0 0 1 -127.35 -1.11" pathLength="178" stroke="#7cff82" stroke-dasharray="0 29 2.05 108.95 1.05 36.95"/>
<path d="M27.32 1.19A27.35 27.35 0 0 1 -0.72 27.34A27.35 27.35 0 0 1 -27.35 -0.24" pathLength="178" stroke="#aaff55" stroke-dasharray="0 135 1.05 41.95"/>
<path d="M32.32 1.41A32.35 32.35 0 0 1 -0.85 32.34A32.35 32.35 0 0 1 -32.35 -0.28" pathLength="178" stroke="#aaff55" stroke-dasharray="0 135 1.05 41.95"/>
<path d="M47.30 2.07A47.35 47.35 0 0 1 -1.24 47.33A47.35 47.35 0 0 1 -47.35 -0.41" pathLength="178" stroke="#aaff55" stroke-dasharray="0 30 1.05 103.95 1.05 41.95"/>
<path d="M52.30 2.28A52.35 52.35 0 0 1 -1.37 52.33A52.35 52.35 0 0 1 -52.35 -0.46" pathLength="178" stroke="#aaff55" stroke-dasharray="0 30 1.05 103.95 1.05 41.95"/>
<path d="M57.30 2.50A57.35 57.35 0 0 1 -1.50 57.33A57.35 57.35 0 0 1 -57.35 -0.50" pathLength="178" stroke="#aaff55" stroke-dasharray="0 30 1.05 103.95 1.05 41.95"/>
<path d="M62.29 2.72A62.35 62.35 0 0 1 -1.63 62.33A62.35 62.35 0 0 1 -62.35 -0.54" pathLength="178" stroke="#aaff55" stroke-dasharray="0 30 1.05 103.95 1.05 41.95"/>
<path d="M67.29 2.94A67.35 67.35 0 0 1 -1.76 67.33A67.35 67.35 0 0 1 -67.35 -0.59" pathLength="178" stroke="#aaff55" stroke-dasharray="0 30 1.05 103.95 1.05 41.95"/>
<path d="M82.27 3.59A82.35 82.35 0 0 1 -2.16 82.32A82.35 82.35 0 0 1 -82.35 -0.72" pathLength="178" stroke="#aaff55" stroke-dasharray="0 30 1.05 103.95 1.05 41.95"/>
<path d="M87.27 3.81A87.35 87.35 0 0 1 -2.29 87.32A87.35 87.35 0 0 1 -87.35 -0.76" pathLength="178" stroke="#aaff55" stroke-dasharray="0 30 1.05 103.95 1.05 41.95"/>
<path d="M92.26 4.03A92.35 92.35 0 0 1 -2.42 92.32A92.35 92.35 0 0 1 -92.35 -0.81" pathLength="178" stroke="#aaff55" stroke-dasharray="0 30 1.05 104.95 1.05 40.95"/>
<path d="M97.26 4.25A97.35 97.35 0 0 1 -2.55 97.32A97.35 97.35 0 0 1 -97.35 -0.85" pathLength="178" stroke="#aaff55" stroke-dasharray="0 30 1.05 104.95 1.05 40.95"/>
<path d="M102.25 4.46A102.35 102.35 0 0 1 -2.68 102.31A102.35 102.35 0 0 1 -102.35 -0.89" pathLength="178" stroke="#aaff55" stroke-dasharray="0 30 1.05 146.95"/>
<path d="M107.25 4.68A107.35 107.35 0 0 1 -2.81 107.31A107.35 107.35 0 0 1 -107.35 -0.94" pathLength="178" stroke="#aaff55" stroke-dasharray="0 30 1.05 146.95"/>
<path d="M112.24 4.90A112.35 112.35 0 0 1 -2.94 112.31A112.35 112.35 0 0 1 -112.35 -0.98" pathLength="178" stroke="#aaff55" stroke-dasharray="0 30 1.05 107.95 1.05 37.95"/>
<path d="M117.24 5.12A117.35 117.35 0 0 1 -3.07 117.31A117.35 117.35 0 0 1 -117.35 -1.02" pathLength="178" stroke="#aaff55" stroke-dasharray="0 30 1.05 146.95"/>
<path d="M122.23 5.34A122.35 122.35 0 0 1 -3.20 122.31A122.35 122.35 0 0 1 -122.35 -1.07" pathLength="178" stroke="#aaff55" stroke-dasharray="0 29 1.05 109.95 1.05 36.95"/>
<path d="M127.23 5.55A127.35 127.35 0 0 1 -3.33 127.31A127.35 127.35 0 0 1 -127.35 -1.11" pathLength="178" stroke="#aaff55" stroke-dasharray="0 29 1.05 109.95 1.05 36.95"/>
<path d="M37.31 1.63A37.35 37.35 0 0 1 -0.98 37.34A37.35 37.35 0 0 1 -37.35 -0.33" pathLength="178" stroke="#c8ff30" stroke-dasharray="0 135 1.05 41.95"/>
<path d="M42.31 1.85A42.35 42.35 0 0 1 -1.11 42.34A42.35 42.35 0 0 1 -42.35 -0.37" pathLength="178" stroke="#c8ff30" stroke-dasharray="0 135 1.05 41.95"/>
<path d="M72.28 3.16A72.35 72.35 0 0 1 -1.89 72.33A72.35 72.35 0 0 1 -72.35 -0.63" pathLength="178" stroke="#c8ff30" stroke-dasharray="0 135 1.05 41.95"/>
<path d="M77.28 3.37A77.35 77.35 0 0 1 -2.02 77.32A77.35 77.35 0 0 1 -77.35 -0.67" pathLength="178" stroke="#c8ff30" stroke-dasharray="0 135 1.05 41.95"/>
<path d="M82.27 3.59A82.35 82.35 0 0 1 -2.16 82.32A82.35 82.35 0 0 1 -82.35 -0.72" pathLength="178" stroke="#c8ff30" stroke-dasharray="0 135 1.05 41.95"/>
<path d="M87.27 3.81A87.35 87.35 0 0 1 -2.29 87.32A87.35 87.35 0 0 1 -87.35 -0.76" pathLength="178" stroke="#c8ff30" stroke-dasharray="0 135 1.05 41.95"/>
<path d="M47.30 2.07A47.35 47.35 0 0 1 -1.24 47.33A47.35 47.35 0 0 1 -47.35 -0.41" pathLength="178" stroke="#f0ff10" stroke-dasharray="0 135 1.05 41.95"/>
<path d="M52.30 2.28A52.35 52.35 0 0 1 -1.37 52.33A52.35 52.35 0 0 1 -52.35 -0.46" pathLength="178" stroke="#f0ff10" stroke-dasharray="0 135 1.05 41.95"/>
<path d="M57.30 2.50A57.35 57.35 0 0 1 -1.50 57.33A57.35 57.35 0 0 1 -57.35 -0.50" pathLength="178" stroke="#f0ff10" stroke-dasharray="0 135 1.05 41.95"/>
<path d="M62.29 2.72A62.35 62.35 0 0 1 -1.63 62.33A62.35 62.35 0 0 1 -62.35 -0.54" pathLength="178" stroke="#f0ff10" stroke-dasharray="0 135 1.05 41.95"/>
<path d="M67.29 2.94A67.35 67.35 0 0 1 -1.76 67.33A67.35 67.35 0 0 1 -67.35 -0.59" pathLength="178" stroke="#f0ff10" stroke-dasharray="0 135 1.05 41.95"/>
</g>
<path d="M278 162h1v1h-1zM202 206h1v1h-1zM627 190h1v1h-1zM688 385h1v1h-1zM371 184h1v1h-1zM275 395h1v1h-1zM377 172h1v1h-1zM430 240h1v1h-1zM625 366h1v1h-1zM501 224h1v1h-1zM245 214h1v1h-1zM387 183h1v1h-1zM278 170h1v1h-1zM351 349h1v1h-1zM397 141h1v1h-1zM423 291h1v1h-1zM358 324h1v1h-1zM291 341h1v1h-1zM275 301h1v1h-1zM599 390h1v1h-1zM313 217h1v1h-1zM139 318h1v1h-1zM429 272h1v1h-1zM555 317h1v1h-1zM241 164h1v1h-1zM198 304h1v1h-1zM113 398h1v1h-1zM247 340h1v1h-1zM380 257h1v1h-1zM534 295h1v1h-1zM234 347h1v1h-1zM502 138h1v1h-1zM300 348h1v1h-1zM239 162h1v1h-1zM261 211h1v1h-1zM159 167h1v1h-1zM233 346h1v1h-1zM151 191h1v1h-1zM263 398h1v1h-1zM566 337h1v1h-1zM186 224h1v1h-1zM286 378h1v1h-1zM320 344h1v1h-1zM627 335h1v1h-1zM407 92h1v1h-1zM563 230h1v1h-1zM444 216h1v1h-1zM587 247h1v1h-1zM504 120h1v1h-1zM635 298h1v1h-1zM498 249h1v1h-1zM224 344h1v1h-1zM671 371h1v1h-1zM174 313h1v1h-1zM64 325h1v1h-1zM658 237h1v1h-1zM325 199h1v1h-1zM311 170h1v1h-1zM615 382h1v1h-1zM608 295h1v1h-1zM263 371h1v1h-1zM174 192h1v1h-1zM587 291h1v1h-1zM675 339h1v1h-1zM618 329h1v1h-1zM634 319h1v1h-1zM729 362h1v1h-1zM491 297h1v1h-1zM386 298h1v1h-1zM577 173h1v1h-1zM579 201h1v1h-1zM309 100h1v1h-1zM130 274h1v1h-1zM440 308h1v1h-1zM121 227h1v1h-1zM499 219h1v1h-1zM356 238h1v1h-1zM333 368h1v1h-1zM246 323h1v1h-1zM294 166h1v1h-1zM197 307h1v1h-1zM174 212h1v1h-1zM151 166h1v1h-1zM325 325h1v1h-1zM262 312h1v1h-1zM581 250h1v1h-1zM309 192h1v1h-1zM94 263h1v1h-1zM663 359h1v1h-1zM570 297h1v1h-1zM280 236h1v1h-1zM147 354h1v1h-1zM286 208h1v1h-1zM203 273h1v1h-1zM241 369h1v1h-1zM656 351h1v1h-1zM85 380h1v1h-1zM87 400h1v1h-1zM657 225h1v1h-1zM569 229h1v1h-1zM279 195h1v1h-1zM379 166h1v1h-1zM556 160h1v1h-1zM63 274h1v1h-1zM344 146h1v1h-1zM486 127h1v1h-1zM638 184h1v1h-1zM652 356h1v1h-1zM317 344h1v1h-1zM221 240h1v1h-1zM120 231h1v1h-1zM335 98h1v1h-1zM101 323h1v1h-1zM244 367h1v1h-1zM218 336h1v1h-1zM559 299h1v1h-1zM273 353h1v1h-1zM604 203h1v1h-1zM210 389h1v1h-1zM355 405h1v1h-1zM411 311h1v1h-1zM142 338h1v1h-1zM334 207h1v1h-1zM518 271h1v1h-1zM237 119h1v1h-1zM379 142h1v1h-1zM380 210h1v1h-1zM414 299h1v1h-1zM353 345h1v1h-1zM371 319h1v1h-1zM394 139h1v1h-1zM571 380h1v1h-1zM454 123h1v1h-1zM513 293h1v1h-1zM405 289h1v1h-1zM587 263h1v1h-1zM239 345h1v1h-1zM313 303h1v1h-1zM193 228h1v1h-1zM175 215h1v1h-1zM279 395h1v1h-1zM664 257h1v1h-1zM120 196h1v1h-1zM173 249h1v1h-1zM226 285h1v1h-1zM369 280h1v1h-1zM62 389h1v1h-1zM204 197h1v1h-1zM199 397h1v1h-1zM294 180h1v1h-1zM472 229h1v1h-1zM330 253h1v1h-1zM483 370h1v1h-1zM623 277h1v1h-1zM476 393h1v1h-1zM162 152h1v1h-1zM688 251h1v1h-1zM423 300h1v1h-1zM182 313h1v1h-1zM156 291h1v1h-1zM461 105h1v1h-1zM298 105h1v1h-1zM695 368h1v1h-1zM173 303h1v1h-1zM253 337h1v1h-1zM238 189h1v1h-1zM109 349h1v1h-1zM580 180h1v1h-1zM535 319h1v1h-1zM93 310h1v1h-1zM175 391h1v1h-1zM145 369h1v1h-1zM466 174h1v1h-1zM397 312h1v1h-1zM325 314h1v1h-1zM86 242h1v1h-1zM165 318h1v1h-1zM515 321h1v1h-1zM411 198h1v1h-1zM218 358h1v1h-1zM718 385h1v1h-1zM186 370h1v1h-1zM395 364h1v1h-1zM119 342h1v1h-1zM282 265h1v1h-1zM129 384h1v1h-1zM216 303h1v1h-1zM94 379h1v1h-1zM619 318h1v1h-1zM101 211h1v1h-1zM395 171h1v1h-1zM464 383h1v1h-1zM271 331h1v1h-1zM305 214h1v1h-1zM365 351h1v1h-1zM254 303h1v1h-1zM569 382h1v1h-1zM336 248h1v1h-1zM524 382h1v1h-1zM456 100h1v1h-1zM616 216h1v1h-1zM377 203h1v1h-1zM169 161h1v1h-1zM467 128h1v1h-1zM570 161h1v1h-1zM663 336h1v1h-1zM158 198h1v1h-1zM232 396h1v1h-1zM603 325h1v1h-1zM456 109h1v1h-1zM153 358h1v1h-1zM60 347h1v1h-1zM273 114h1v1h-1zM221 293h1v1h-1zM276 388h1v1h-1zM689 300h1v1h-1zM523 205h1v1h-1zM151 262h1v1h-1zM379 339h1v1h-1zM630 182h1v1h-1zM541 220h1v1h-1zM656 278h1v1h-1zM436 351h1v1h-1zM185 190h1v1h-1zM119 300h1v1h-1zM312 333h1v1h-1zM256 236h1v1h-1zM534 368h1v1h-1zM673 319h1v1h-1zM266 340h1v1h-1zM278 136h1v1h-1zM167 327h1v1h-1zM355 198h1v1h-1zM362 316h1v1h-1zM176 183h1v1h-1zM704 292h1v1h-1zM357 101h1v1h-1zM523 162h1v1h-1zM54 403h1v1h-1zM405 280h1v1h-1zM499 215h1v1h-1zM463 262h1v1h-1zM604 167h1v1h-1zM252 355h1v1h-1zM345 351h1v1h-1zM394 228h1v1h-1zM160 362h1v1h-1zM348 283h1v1h-1zM462 227h1v1h-1zM400 333h1v1h-1zM105 357h1v1h-1zM624 327h1v1h-1zM677 372h1v1h-1zM250 184h1v1h-1zM63 317h1v1h-1zM284 235h1v1h-1zM584 368h1v1h-1zM168 252h1v1h-1zM679 298h1v1h-1zM127 278h1v1h-1zM50 352h1v1h-1zM181 193h1v1h-1zM560 187h1v1h-1zM621 391h1v1h-1zM620 172h1v1h-1zM543 197h1v1h-1zM551 249h1v1h-1zM399 122h1v1h-1zM573 158h1v1h-1zM326 123h1v1h-1zM529 357h1v1h-1zM582 227h1v1h-1zM596 305h1v1h-1zM165 258h1v1h-1zM40 363h1v1h-1zM485 158h1v1h-1zM245 278h1v1h-1zM323 302h1v1h-1zM351 269h1v1h-1zM427 362h1v1h-1zM532 150h1v1h-1zM74 284h1v1h-1zM246 395h1v1h-1zM475 163h1v1h-1zM658 375h1v1h-1zM446 215h1v1h-1zM456 115h1v1h-1zM157 188h1v1h-1zM578 182h1v1h-1zM369 105h1v1h-1zM404 278h1v1h-1zM386 196h1v1h-1zM241 336h1v1h-1zM411 284h1v1h-1zM377 87h1v1h-1zM465 156h1v1h-1zM390 217h1v1h-1zM691 254h1v1h-1zM551 284h1v1h-1zM511 339h1v1h-1zM449 212h1v1h-1zM414 175h1v1h-1zM434 171h1v1h-1zM228 166h1v1h-1zM66 317h1v1h-1zM218 317h1v1h-1zM321 89h1v1h-1zM273 382h1v1h-1zM451 101h1v1h-1zM333 239h1v1h-1zM321 303h1v1h-1zM129 245h1v1h-1zM431 188h1v1h-1zM568 305h1v1h-1zM425 193h1v1h-1zM384 238h1v1h-1zM346 289h1v1h-1zM173 398h1v1h-1zM412 199h1v1h-1zM142 326h1v1h-1zM679 232h1v1h-1zM160 283h1v1h-1zM718 388h1v1h-1zM433 243h1v1h-1zM346 198h1v1h-1zM697 377h1v1h-1zM712 345h1v1h-1zM103 255h1v1h-1zM486 207h1v1h-1zM535 181h1v1h-1zM608 194h1v1h-1zM212 169h1v1h-1zM464 311h1v1h-1zM326 388h1v1h-1zM652 373h1v1h-1zM291 204h1v1h-1zM157 283h1v1h-1zM559 187h1v1h-1zM402 134h1v1h-1zM497 161h1v1h-1zM333 163h1v1h-1zM351 94h1v1h-1zM430 157h1v1h-1zM579 367h1v1h-1zM268 288h1v1h-1zM457 258h1v1h-1zM330 389h1v1h-1zM425 178h1v1h-1zM589 281h1v1h-1zM557 171h1v1h-1zM530 199h1v1h-1zM567 320h1v1h-1zM682 292h1v1h-1zM262 361h1v1h-1zM315 179h1v1h-1zM299 296h1v1h-1zM296 146h1v1h-1zM411 217h1v1h-1zM515 285h1v1h-1zM619 215h1v1h-1zM73 346h1v1h-1zM443 303h1v1h-1zM573 226h1v1h-1zM292 125h1v1h-1zM350 122h1v1h-1zM550 308h1v1h-1zM636 316h1v1h-1zM457 105h1v1h-1zM178 381h1v1h-1zM123 341h1v1h-1zM617 323h1v1h-1zM170 339h1v1h-1zM520 367h1v1h-1zM568 214h1v1h-1zM624 335h1v1h-1zM160 266h1v1h-1zM578 235h1v1h-1zM295 342h1v1h-1zM454 340h1v1h-1zM258 278h1v1h-1zM271 385h1v1h-1zM643 249h1v1h-1zM69 271h1v1h-1zM660 304h1v1h-1zM320 163h1v1h-1zM194 301h1v1h-1zM387 291h1v1h-1zM663 222h1v1h-1zM481 107h1v1h-1zM219 207h1v1h-1zM84 265h1v1h-1zM360 129h1v1h-1zM325 232h1v1h-1zM244 229h1v1h-1zM281 188h1v1h-1zM368 405h1v1h-1zM135 227h1v1h-1zM575 222h1v1h-1zM71 400h1v1h-1zM546 364h1v1h-1zM173 314h1v1h-1zM280 322h1v1h-1zM236 300h1v1h-1zM235 203h1v1h-1zM342 201h1v1h-1zM624 309h1v1h-1zM549 158h1v1h-1zM521 340h1v1h-1zM64 375h1v1h-1zM374 261h1v1h-1zM209 143h1v1h-1zM443 261h1v1h-1zM112 322h1v1h-1zM176 148h1v1h-1zM361 121h1v1h-1zM513 330h1v1h-1zM526 292h1v1h-1zM185 191h1v1h-1zM350 200h1v1h-1zM250 221h1v1h-1zM389 329h1v1h-1zM584 145h1v1h-1zM547 185h1v1h-1zM338 95h1v1h-1zM483 232h1v1h-1zM419 261h1v1h-1zM184 366h1v1h-1zM571 291h1v1h-1zM563 167h1v1h-1zM206 232h1v1h-1zM457 190h1v1h-1zM573 317h1v1h-1zM420 224h1v1h-1zM98 312h1v1h-1zM188 272h1v1h-1zM257 109h1v1h-1zM501 363h1v1h-1zM487 245h1v1h-1zM371 172h1v1h-1zM483 121h1v1h-1zM109 263h1v1h-1zM353 339h1v1h-1zM476 366h1v1h-1zM397 139h1v1h-1zM48 339h1v1h-1zM269 330h1v1h-1zM480 306h1v1h-1zM424 99h1v1h-1zM176 214h1v1h-1zM540 349h1v1h-1zM580 310h1v1h-1zM202 406h1v1h-1zM710 355h1v1h-1zM581 373h1v1h-1zM149 252h1v1h-1zM139 225h1v1h-1zM383 282h1v1h-1zM274 181h1v1h-1zM525 268h1v1h-1zM702 375h1v1h-1zM237 315h1v1h-1zM532 274h1v1h-1zM689 362h1v1h-1zM94 358h1v1h-1zM392 345h1v1h-1zM595 173h1v1h-1zM567 251h1v1h-1zM525 157h1v1h-1zM301 232h1v1h-1zM535 305h1v1h-1zM122 249h1v1h-1zM269 182h1v1h-1zM548 364h1v1h-1zM366 268h1v1h-1zM145 260h1v1h-1zM517 376h1v1h-1zM286 392h1v1h-1zM527 236h1v1h-1zM182 269h1v1h-1zM199 217h1v1h-1zM212 231h1v1h-1zM309 143h1v1h-1zM465 339h1v1h-1zM569 364h1v1h-1zM612 341h1v1h-1zM369 222h1v1h-1zM538 175h1v1h-1zM315 271h1v1h-1zM400 336h1v1h-1zM55 373h1v1h-1zM685 245h1v1h-1zM618 203h1v1h-1zM247 374h1v1h-1zM630 320h1v1h-1zM702 360h1v1h-1zM707 305h1v1h-1zM391 181h1v1h-1zM506 341h1v1h-1zM527 361h1v1h-1zM292 212h1v1h-1zM671 227h1v1h-1zM95 348h1v1h-1zM211 122h1v1h-1zM366 271h1v1h-1zM605 357h1v1h-1zM437 296h1v1h-1zM330 332h1v1h-1zM501 329h1v1h-1zM297 233h1v1h-1zM491 105h1v1h-1zM206 250h1v1h-1zM260 276h1v1h-1zM281 365h1v1h-1zM444 282h1v1h-1zM710 390h1v1h-1zM89 340h1v1h-1zM602 180h1v1h-1zM473 314h1v1h-1zM440 216h1v1h-1zM495 255h1v1h-1zM248 194h1v1h-1zM505 392h1v1h-1zM71 278h1v1h-1zM433 198h1v1h-1zM177 188h1v1h-1zM500 174h1v1h-1zM162 391h1v1h-1zM600 394h1v1h-1zM208 251h1v1h-1zM181 167h1v1h-1zM189 296h1v1h-1zM530 375h1v1h-1zM274 330h1v1h-1zM78 362h1v1h-1zM131 328h1v1h-1zM471 320h1v1h-1zM627 276h1v1h-1zM601 332h1v1h-1zM171 303h1v1h-1zM621 304h1v1h-1zM77 265h1v1h-1zM184 253h1v1h-1zM710 291h1v1h-1zM480 99h1v1h-1zM277 369h1v1h-1zM294 318h1v1h-1zM493 198h1v1h-1zM58 314h1v1h-1zM375 297h1v1h-1zM48 405h1v1h-1zM395 320h1v1h-1zM371 369h1v1h-1zM338 87h1v1h-1zM283 372h1v1h-1zM678 262h1v1h-1zM92 272h1v1h-1zM514 248h1v1h-1zM424 295h1v1h-1zM173 303h1v1h-1zM193 339h1v1h-1zM545 307h1v1h-1zM517 337h1v1h-1zM647 350h1v1h-1zM135 325h1v1h-1zM535 250h1v1h-1zM287 222h1v1h-1zM372 296h1v1h-1zM591 145h1v1h-1zM578 244h1v1h-1zM91 336h1v1h-1zM728 383h1v1h-1zM701 273h1v1h-1zM81 399h1v1h-1zM121 316h1v1h-1zM439 270h1v1h-1zM576 345h1v1h-1zM445 374h1v1h-1zM417 91h1v1h-1zM298 151h1v1h-1zM566 316h1v1h-1zM264 359h1v1h-1zM329 180h1v1h-1zM435 293h1v1h-1zM389 371h1v1h-1zM610 338h1v1h-1zM281 283h1v1h-1zM388 397h1v1h-1zM230 386h1v1h-1zM167 243h1v1h-1zM184 226h1v1h-1zM667 366h1v1h-1zM240 310h1v1h-1zM153 188h1v1h-1zM125 315h1v1h-1zM612 361h1v1h-1zM345 306h1v1h-1zM554 234h1v1h-1zM292 158h1v1h-1zM302 162h1v1h-1zM260 314h1v1h-1zM338 334h1v1h-1zM62 355h1v1h-1zM617 301h1v1h-1zM404 370h1v1h-1zM92 256h1v1h-1zM365 232h1v1h-1zM505 262h1v1h-1zM282 154h1v1h-1zM138 232h1v1h-1zM594 248h1v1h-1zM521 391h1v1h-1zM237 208h1v1h-1zM173 247h1v1h-1zM472 383h1v1h-1zM199 221h1v1h-1zM698 368h1v1h-1zM200 222h1v1h-1zM403 231h1v1h-1zM268 391h1v1h-1zM317 384h1v1h-1z" fill="#fff" shape-rendering="crispEdges"/>
<rect x="137" y="405" width="4" height="3" fill="#ffe800" shape-rendering="crispEdges"/>
<rect x="141" y="405" width="7" height="3" fill="#ff6800" shape-rendering="crispEdges"/>
<rect x="148" y="405" width="7" height="3" fill="#ffb800" shape-rendering="crispEdges"/>
<rect x="155" y="405" width="3" height="3" fill="#12fcec" shape-rendering="crispEdges"/>
<rect x="166" y="405" width="6" height="3" fill="#c8ff30" shape-rendering="crispEdges"/>
<ellipse cx="382.1" cy="407.5" rx="7" ry="6.5" fill="#fff"/>
</g>
<path d="M165.5 20V407M305.5 20V407M445.5 20V407M585.5 20V407M725.5 20V407M25 84.5H740M25 149.5H740M25 213.5H740M25 278.5H740M25 342.5H740" stroke="#000" stroke-width="1" fill="none" shape-rendering="crispEdges"/>
<ellipse cx="382.1" cy="407.5" rx="140.0" ry="129.2" fill="none" stroke="#000" stroke-width="1" shape-rendering="crispEdges"/>
<ellipse cx="382.1" cy="407.5" rx="280.0" ry="258.4" fill="none" stroke="#000" stroke-width="1" shape-rendering="crispEdges"/>
<rect x="25.5" y="20.5" width="714" height="387" fill="none" stroke="#000" stroke-width="1" shape-rendering="crispEdges"/>
<text class="r" x="283.8" y="325">2.00km</text>
<text class="r" x="481.8" y="325">2.00km</text>
<text class="r" x="184.8" y="233">4.00km</text>
<text class="r" x="580.8" y="233">4.00km</text>
<rect x="37" y="26.3" width="222" height="13.9" fill="#fff" shape-rendering="crispEdges"/>
<text class="t" x="38" y="37.7">Start time: 2025/12/07 23:56:53.108</text>
<rect x="37" y="41.4" width="170" height="15.1" fill="#fff" shape-rendering="crispEdges"/>
<text class="t" x="38" y="54.8">WLS200s-181/WLS200s-181</text>
<rect x="37" y="58" width="67" height="14.0" fill="#fff" shape-rendering="crispEdges"/>
<text class="t" x="38" y="69.9">Field: BETA</text>
<rect x="37" y="74.5" width="117" height="15.5" fill="#fff" shape-rendering="crispEdges"/>
<text class="t" x="38" y="86.6">Azimuth(deg): 5.00</text>
<rect x="37" y="92" width="69" height="15.0" fill="#fff" shape-rendering="crispEdges"/>
<text class="t" x="37.2" y="104.0">NRays: 178</text>
<text class="k" x="166" y="14" text-anchor="middle">-3</text>
<text class="k" x="166" y="429" text-anchor="middle">-3</text>
<text class="k" x="306" y="14" text-anchor="middle">-1</text>
<text class="k" x="306" y="429" text-anchor="middle">-1</text>
<text class="k" x="446" y="14" text-anchor="middle">1</text>
<text class="k" x="446" y="429" text-anchor="middle">1</text>
<text class="k" x="586" y="14" text-anchor="middle">3</text>
<text class="k" x="586" y="429" text-anchor="middle">3</text>
<text class="k" x="740" y="14" text-anchor="middle">km</text>
<text class="k" x="740" y="429" text-anchor="middle">km</text>
<text class="k" x="20.6" y="88.6" text-anchor="end">5</text>
<text class="k" x="745.2" y="88.6">5</text>
<text class="k" x="20.6" y="153.6" text-anchor="end">4</text>
<text class="k" x="745.2" y="153.6">4</text>
<text class="k" x="20.6" y="217.6" text-anchor="end">3</text>
<text class="k" x="745.2" y="217.6">3</text>
<text class="k" x="20.6" y="282.6" text-anchor="end">2</text>
<text class="k" x="745.2" y="282.6">2</text>
<text class="k" x="20.6" y="346.6" text-anchor="end">1</text>
<text class="k" x="745.2" y="346.6">1</text>
<text class="k" x="21" y="33" text-anchor="end">km</text>
<text class="k" x="744" y="33">km</text>
<rect x="760" y="386.62" width="40" height="14.68" fill="#000080" shape-rendering="crispEdges"/>
<rect x="760" y="372.23" width="40" height="14.68" fill="#0000c0" shape-rendering="crispEdges"/>
<rect x="760" y="357.85" width="40" height="14.68" fill="#0000e0" shape-rendering="crispEdges"/>
<rect x="760" y="343.46" width="40" height="14.68" fill="#0000f8" shape-rendering="crispEdges"/>
<rect x="760" y="329.08" width="40" height="14.68" fill="#001eff" shape-rendering="crispEdges"/>
<rect x="760" y="314.69" width="40" height="14.68" fill="#007cff" shape-rendering="crispEdges"/>
<rect x="760" y="300.31" width="40" height="14.68" fill="#0068ff" shape-rendering="crispEdges"/>
<rect x="760" y="285.92" width="40" height="14.68" fill="#00aaff" shape-rendering="crispEdges"/>
<rect x="760" y="271.54" width="40" height="14.68" fill="#00d8ff" shape-rendering="crispEdges"/>
<rect x="760" y="257.15" width="40" height="14.68" fill="#12fcec" shape-rendering="crispEdges"/>
<rect x="760" y="242.77" width="40" height="14.68" fill="#1effe0" shape-rendering="crispEdges"/>
<rect x="760" y="228.38" width="40" height="14.68" fill="#54ffaa" shape-rendering="crispEdges"/>
<rect x="760" y="214.00" width="40" height="14.68" fill="#7cff82" shape-rendering="crispEdges"/>
<rect x="760" y="199.62" width="40" height="14.68" fill="#aaff55" shape-rendering="crispEdges"/>
<rect x="760" y="185.23" width="40" height="14.68" fill="#c8ff30" shape-rendering="crispEdges"/>
<rect x="760" y="170.85" width="40" height="14.68" fill="#f0ff10" shape-rendering="crispEdges"/>
<rect x="760" y="156.46" width="40" height="14.68" fill="#ffe800" shape-rendering="crispEdges"/>
<rect x="760" y="142.08" width="40" height="14.68" fill="#ffb800" shape-rendering="crispEdges"/>
<rect x="760" y="127.69" width="40" height="14.68" fill="#ff8c00" shape-rendering="crispEdges"/>
<rect x="760" y="113.31" width="40" height="14.68" fill="#ff6800" shape-rendering="crispEdges"/>
<rect x="760" y="98.92" width="40" height="14.68" fill="#ff4800" shape-rendering="crispEdges"/>
<rect x="760" y="84.54" width="40" height="14.68" fill="#ff1400" shape-rendering="crispEdges"/>
<rect x="760" y="70.15" width="40" height="14.68" fill="#ee0000" shape-rendering="crispEdges"/>
<rect x="760" y="55.77" width="40" height="14.68" fill="#bb0000" shape-rendering="crispEdges"/>
<rect x="760" y="41.38" width="40" height="14.68" fill="#a40000" shape-rendering="crispEdges"/>
<rect x="760" y="27.00" width="40" height="14.68" fill="#8b0000" shape-rendering="crispEdges"/>
<rect x="767.0" y="395.4" width="26.0" height="10" fill="#fff" shape-rendering="crispEdges"/>
<text class="c" x="780" y="403.4">1e-09</text>
<rect x="767.0" y="366.6" width="26.0" height="10" fill="#fff" shape-rendering="crispEdges"/>
<text class="c" x="780" y="374.6">3e-09</text>
<rect x="767.0" y="337.9" width="26.0" height="10" fill="#fff" shape-rendering="crispEdges"/>
<text class="c" x="780" y="345.9">1e-08</text>
<rect x="762.7" y="323.5" width="34.5" height="10" fill="#fff" shape-rendering="crispEdges"/>
<text class="c" x="780" y="331.5">1.7e-08</text>
<rect x="767.0" y="294.7" width="26.0" height="10" fill="#fff" shape-rendering="crispEdges"/>
<text class="c" x="780" y="302.7">6e-08</text>
<rect x="767.0" y="280.3" width="26.0" height="10" fill="#fff" shape-rendering="crispEdges"/>
<text class="c" x="780" y="288.3">1e-07</text>
<rect x="767.0" y="251.6" width="26.0" height="10" fill="#fff" shape-rendering="crispEdges"/>
<text class="c" x="780" y="259.6">3e-07</text>
<rect x="767.0" y="222.8" width="26.0" height="10" fill="#fff" shape-rendering="crispEdges"/>
<text class="c" x="780" y="230.8">1e-06</text>
<rect x="762.7" y="208.4" width="34.5" height="10" fill="#fff" shape-rendering="crispEdges"/>
<text class="c" x="780" y="216.4">1.7e-06</text>
<rect x="767.0" y="179.6" width="26.0" height="10" fill="#fff" shape-rendering="crispEdges"/>
<text class="c" x="780" y="187.6">6e-06</text>
<rect x="767.0" y="165.2" width="26.0" height="10" fill="#fff" shape-rendering="crispEdges"/>
<text class="c" x="780" y="173.2">1e-05</text>
<rect x="767.0" y="136.5" width="26.0" height="10" fill="#fff" shape-rendering="crispEdges"/>
<text class="c" x="780" y="144.5">3e-05</text>
<rect x="764.3" y="107.7" width="31.5" height="10" fill="#fff" shape-rendering="crispEdges"/>
<text class="c" x="780" y="115.7">0.0001</text>
<rect x="761.4" y="93.3" width="37.2" height="10" fill="#fff" shape-rendering="crispEdges"/>
<text class="c" x="780" y="101.3">0.00017</text>
<rect x="764.3" y="64.6" width="31.5" height="10" fill="#fff" shape-rendering="crispEdges"/>
<text class="c" x="780" y="72.6">0.0006</text>
<rect x="767.1" y="50.2" width="25.8" height="10" fill="#fff" shape-rendering="crispEdges"/>
<text class="c" x="780" y="58.2">0.001</text>
<rect x="767.1" y="21.4" width="25.8" height="10" fill="#fff" shape-rendering="crispEdges"/>
<text class="c" x="780" y="29.4">0.003</text>
<clipPath id="tc"><rect x="760" y="0" width="41" height="27"/></clipPath>
<rect x="759.8" y="0" width="41" height="26.3" fill="#fff"/>
<text x="780" y="24.7" text-anchor="middle" clip-path="url(#tc)" style="font-size:16px">m-1 sr-1</text>
</svg>
</body></html>
